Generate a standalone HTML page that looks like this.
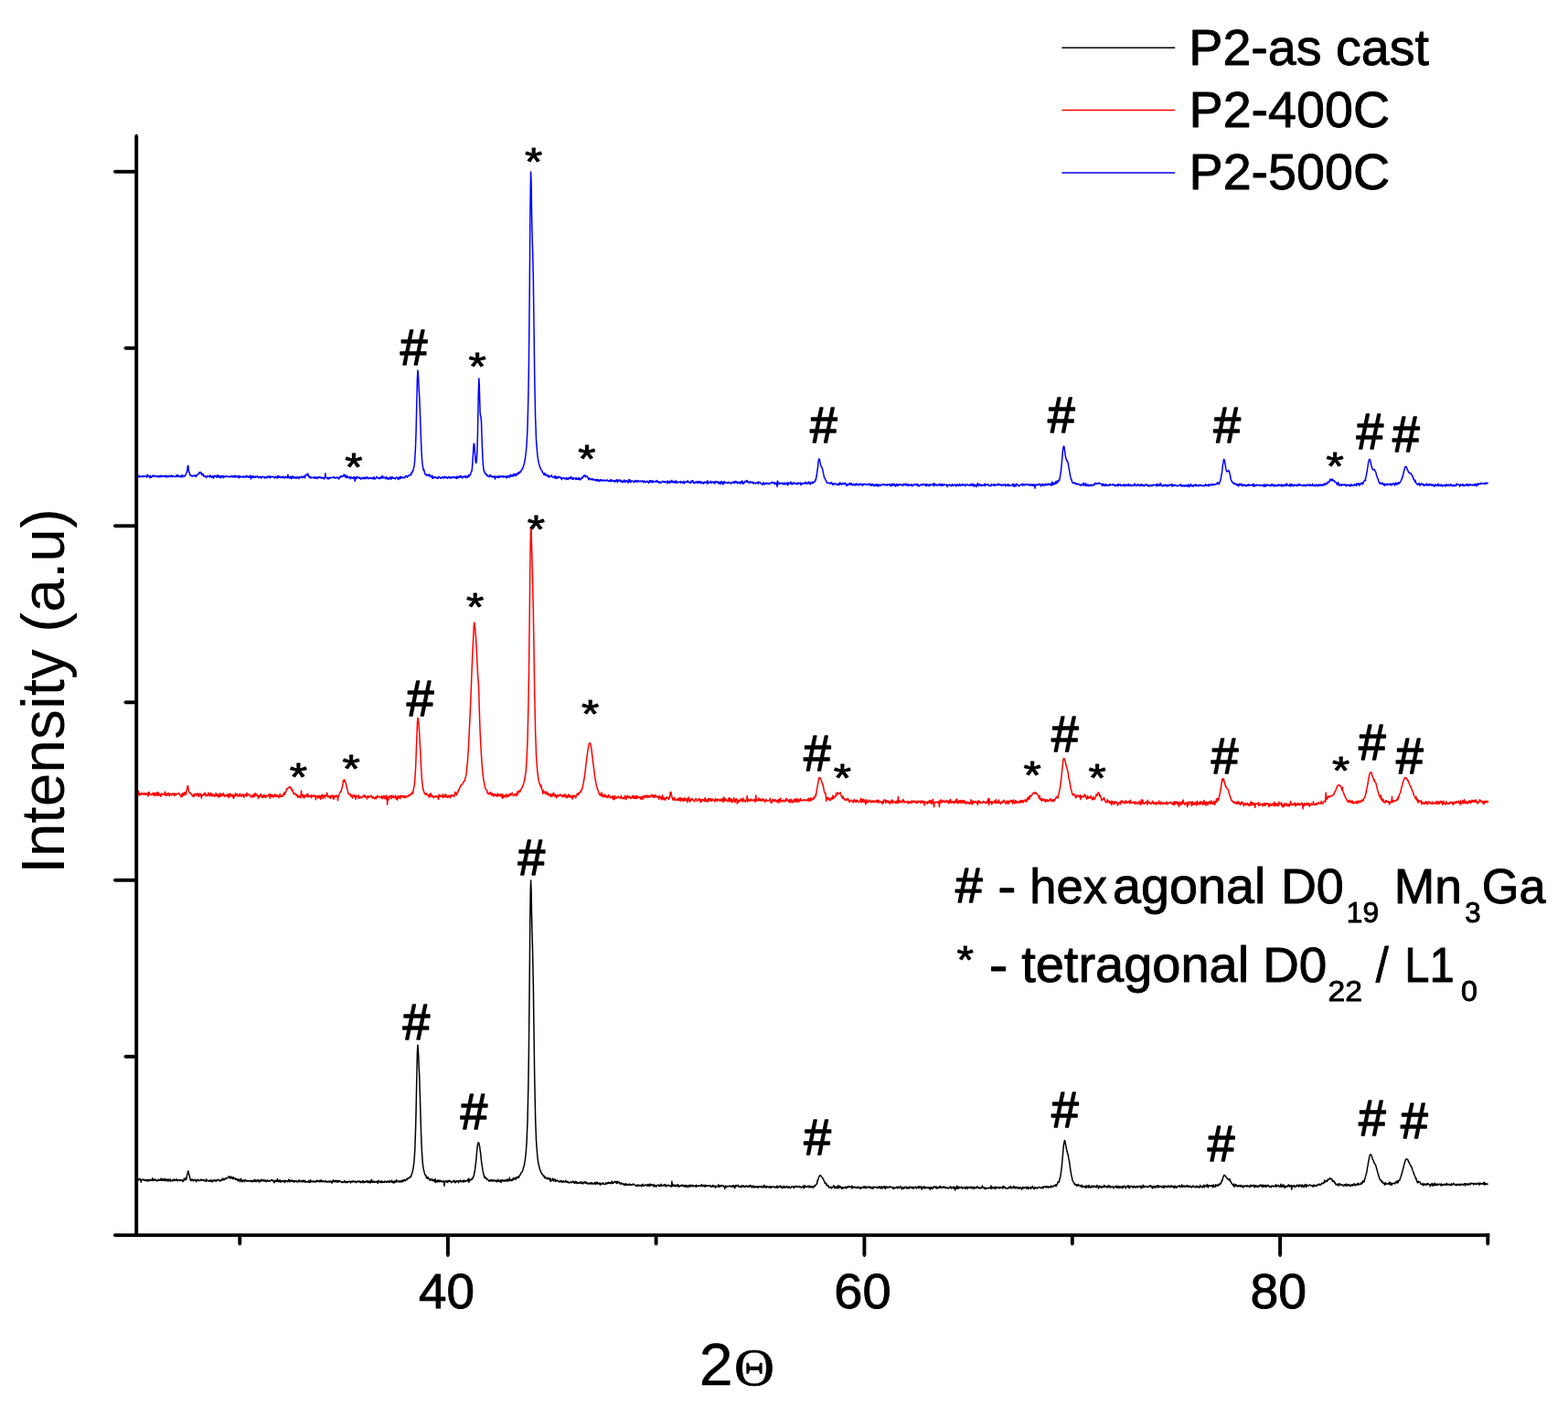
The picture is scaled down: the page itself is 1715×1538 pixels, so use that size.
<!DOCTYPE html>
<html><head><meta charset="utf-8"><title>XRD P2</title>
<style>
html,body{margin:0;padding:0;background:#fff;}
body{width:1715px;height:1538px;overflow:hidden;}
svg{display:block;}
svg text{font-family:'Liberation Sans', Arial, Helvetica, sans-serif;fill:#000;font-kerning:none;}
</style></head><body>
<svg width="1715" height="1538" viewBox="0 0 1715 1538"><rect width="1715" height="1538" fill="#fff"/><path d="M150.2 1292.1L150.7 1288.9 151.1 1291.0 151.6 1290.3 152.0 1290.4 152.5 1290.5 152.9 1289.3 153.4 1290.5 153.8 1290.1 154.3 1293.0 154.8 1290.9 155.2 1290.5 155.7 1290.5 156.1 1290.3 156.6 1290.0 157.0 1290.5 157.5 1291.1 157.9 1290.6 158.4 1291.4 158.8 1290.6 159.3 1290.8 159.8 1291.8 160.2 1291.1 160.7 1290.4 161.1 1290.6 161.6 1291.1 162.0 1292.1 162.5 1290.6 162.9 1290.6 163.4 1291.5 163.9 1290.2 164.3 1290.6 164.8 1291.4 165.2 1291.2 165.7 1290.9 166.1 1291.3 166.6 1288.8 167.0 1291.5 167.5 1290.1 167.9 1289.6 168.4 1291.0 168.9 1291.3 169.3 1290.5 169.8 1290.1 170.2 1290.8 170.7 1290.8 171.1 1291.8 171.6 1291.4 172.0 1291.0 172.5 1291.6 173.0 1290.7 173.4 1290.2 173.9 1291.3 174.3 1291.3 174.8 1290.7 175.2 1290.3 175.7 1291.0 176.1 1289.1 176.6 1291.3 177.0 1291.2 177.5 1289.7 178.0 1290.9 178.4 1290.2 178.9 1291.4 179.3 1289.5 179.8 1290.2 180.2 1291.4 180.7 1291.7 181.1 1289.4 181.6 1290.5 182.1 1291.1 182.5 1290.5 183.0 1292.0 183.4 1290.1 183.9 1291.2 184.3 1290.2 184.8 1291.9 185.2 1290.9 185.7 1290.7 186.1 1289.7 186.6 1292.1 187.1 1291.5 187.5 1291.5 188.0 1291.7 188.4 1291.2 188.9 1290.5 189.3 1290.4 189.8 1290.4 190.2 1291.9 190.7 1289.9 191.2 1290.5 191.6 1290.7 192.1 1291.1 192.5 1291.3 193.0 1290.1 193.4 1289.7 193.9 1290.9 194.3 1291.8 194.8 1291.5 195.2 1291.1 195.7 1290.7 196.2 1291.1 196.6 1290.8 197.1 1291.5 197.5 1290.4 198.0 1291.0 198.4 1290.8 198.9 1291.3 199.3 1291.0 199.8 1292.6 200.3 1291.9 200.7 1291.8 201.2 1289.3 201.6 1290.4 202.1 1290.2 202.5 1290.8 203.0 1288.6 203.4 1290.6 203.9 1289.7 204.3 1286.6 204.8 1284.7 205.3 1282.6 205.7 1281.0 206.2 1281.4 206.6 1284.7 207.1 1285.7 207.5 1288.4 208.0 1289.3 208.4 1291.2 208.9 1290.8 209.4 1291.5 209.8 1289.9 210.3 1290.6 210.7 1290.2 211.2 1291.9 211.6 1291.4 212.1 1290.7 212.5 1290.6 213.0 1291.3 213.4 1290.5 213.9 1290.4 214.4 1291.4 214.8 1292.8 215.3 1290.9 215.7 1290.7 216.2 1290.3 216.6 1290.2 217.1 1291.5 217.5 1291.7 218.0 1291.1 218.5 1291.3 218.9 1291.2 219.4 1291.2 219.8 1290.1 220.3 1290.8 220.7 1291.2 221.2 1290.6 221.6 1290.8 222.1 1290.6 222.5 1290.9 223.0 1291.8 223.5 1290.9 223.9 1291.1 224.4 1291.7 224.8 1291.6 225.3 1292.4 225.7 1289.7 226.2 1291.8 226.6 1290.9 227.1 1291.3 227.6 1291.8 228.0 1292.0 228.5 1291.9 228.9 1291.3 229.4 1292.3 229.8 1291.0 230.3 1291.1 230.7 1291.8 231.2 1290.8 231.6 1292.7 232.1 1291.9 232.6 1292.7 233.0 1291.2 233.5 1290.9 233.9 1291.3 234.4 1291.7 234.8 1290.8 235.3 1291.5 235.7 1291.2 236.2 1292.3 236.7 1290.7 237.1 1291.9 237.6 1290.7 238.0 1290.5 238.5 1290.6 238.9 1290.3 239.4 1291.2 239.8 1291.7 240.3 1291.1 240.7 1291.4 241.2 1292.0 241.7 1291.0 242.1 1290.9 242.6 1290.4 243.0 1289.4 243.5 1291.0 243.9 1289.1 244.4 1290.6 244.8 1290.0 245.3 1290.7 245.8 1289.7 246.2 1289.0 246.7 1289.7 247.1 1288.9 247.6 1289.2 248.0 1289.0 248.5 1288.7 248.9 1288.5 249.4 1287.9 249.8 1288.3 250.3 1286.8 250.8 1288.1 251.2 1287.4 251.7 1289.0 252.1 1289.1 252.6 1286.9 253.0 1288.4 253.5 1288.3 253.9 1287.8 254.4 1289.0 254.9 1289.7 255.3 1287.7 255.8 1288.9 256.2 1289.2 256.7 1289.5 257.1 1288.8 257.6 1290.2 258.0 1290.5 258.5 1289.3 258.9 1289.8 259.4 1290.4 259.9 1290.1 260.3 1291.9 260.8 1290.9 261.2 1290.1 261.7 1290.4 262.1 1291.0 262.6 1292.7 263.0 1291.0 263.5 1289.2 264.0 1291.6 264.4 1291.2 264.9 1292.9 265.3 1291.0 265.8 1291.9 266.2 1291.5 266.7 1291.8 267.1 1290.6 267.6 1292.7 268.0 1291.4 268.5 1291.5 269.0 1290.8 269.4 1291.0 269.9 1291.9 270.3 1292.2 270.8 1292.0 271.2 1291.7 271.7 1292.0 272.1 1291.5 272.6 1292.1 273.1 1291.9 273.5 1291.5 274.0 1292.0 274.4 1292.4 274.9 1291.7 275.3 1291.3 275.8 1292.1 276.2 1292.9 276.7 1291.4 277.1 1291.5 277.6 1291.5 278.1 1292.4 278.5 1290.3 279.0 1291.8 279.4 1292.4 279.9 1291.0 280.3 1292.6 280.8 1292.0 281.2 1291.2 281.7 1291.8 282.2 1290.5 282.6 1291.2 283.1 1292.9 283.5 1291.0 284.0 1292.9 284.4 1291.6 284.9 1292.3 285.3 1291.7 285.8 1290.1 286.2 1291.2 286.7 1291.8 287.2 1290.8 287.6 1290.7 288.1 1291.9 288.5 1291.2 289.0 1290.5 289.4 1291.2 289.9 1292.3 290.3 1291.4 290.8 1292.3 291.3 1292.8 291.7 1291.7 292.2 1290.9 292.6 1290.8 293.1 1291.7 293.5 1292.3 294.0 1291.9 294.4 1292.1 294.9 1291.4 295.3 1291.9 295.8 1291.4 296.3 1291.5 296.7 1290.8 297.2 1290.6 297.6 1291.4 298.1 1291.0 298.5 1291.1 299.0 1292.2 299.4 1291.7 299.9 1293.8 300.4 1292.4 300.8 1291.3 301.3 1292.3 301.7 1292.0 302.2 1291.3 302.6 1292.6 303.1 1291.2 303.5 1289.6 304.0 1292.3 304.4 1291.4 304.9 1292.8 305.4 1291.4 305.8 1291.0 306.3 1292.9 306.7 1291.1 307.2 1292.0 307.6 1292.8 308.1 1291.9 308.5 1291.8 309.0 1291.9 309.5 1292.4 309.9 1291.3 310.4 1292.3 310.8 1292.3 311.3 1293.5 311.7 1291.6 312.2 1291.2 312.6 1292.4 313.1 1291.6 313.5 1292.1 314.0 1292.0 314.5 1292.7 314.9 1291.4 315.4 1291.8 315.8 1290.1 316.3 1291.3 316.7 1293.0 317.2 1291.4 317.6 1291.4 318.1 1291.1 318.6 1292.3 319.0 1292.1 319.5 1291.1 319.9 1292.4 320.4 1292.1 320.8 1292.5 321.3 1291.5 321.7 1293.2 322.2 1291.6 322.6 1291.9 323.1 1291.6 323.6 1291.8 324.0 1292.6 324.5 1291.8 324.9 1292.8 325.4 1292.4 325.8 1293.0 326.3 1292.6 326.7 1292.0 327.2 1290.7 327.7 1292.2 328.1 1292.6 328.6 1292.2 329.0 1292.4 329.5 1291.7 329.9 1291.8 330.4 1291.4 330.8 1293.0 331.3 1292.2 331.7 1291.7 332.2 1291.1 332.7 1292.0 333.1 1293.1 333.6 1292.4 334.0 1291.6 334.5 1293.1 334.9 1293.1 335.4 1292.8 335.8 1292.7 336.3 1292.9 336.8 1292.5 337.2 1292.7 337.7 1291.6 338.1 1293.2 338.6 1292.3 339.0 1293.6 339.5 1290.7 339.9 1292.6 340.4 1292.8 340.8 1291.9 341.3 1292.5 341.8 1292.7 342.2 1292.6 342.7 1291.8 343.1 1292.1 343.6 1292.9 344.0 1293.1 344.5 1292.3 344.9 1292.3 345.4 1292.3 345.9 1292.9 346.3 1291.5 346.8 1291.3 347.2 1292.3 347.7 1291.4 348.1 1291.8 348.6 1292.3 349.0 1292.6 349.5 1291.5 349.9 1292.8 350.4 1291.0 350.9 1292.6 351.3 1291.2 351.8 1291.4 352.2 1292.7 352.7 1292.0 353.1 1291.7 353.6 1292.0 354.0 1292.6 354.5 1292.2 355.0 1292.3 355.4 1293.0 355.9 1291.8 356.3 1292.0 356.8 1291.9 357.2 1293.1 357.7 1293.0 358.1 1293.2 358.6 1292.3 359.0 1292.2 359.5 1292.9 360.0 1292.1 360.4 1292.9 360.9 1292.9 361.3 1291.9 361.8 1292.3 362.2 1292.3 362.7 1293.6 363.1 1294.2 363.6 1292.3 364.1 1292.4 364.5 1290.8 365.0 1292.5 365.4 1292.4 365.9 1291.6 366.3 1292.9 366.8 1291.3 367.2 1292.3 367.7 1292.5 368.1 1291.5 368.6 1293.0 369.1 1293.2 369.5 1291.5 370.0 1291.4 370.4 1292.9 370.9 1292.4 371.3 1291.6 371.8 1292.2 372.2 1292.4 372.7 1292.3 373.2 1293.0 373.6 1292.7 374.1 1293.7 374.5 1293.4 375.0 1292.9 375.4 1293.2 375.9 1293.4 376.3 1293.0 376.8 1291.6 377.2 1293.1 377.7 1292.5 378.2 1293.6 378.6 1292.6 379.1 1292.9 379.5 1292.7 380.0 1293.7 380.4 1292.6 380.9 1292.3 381.3 1292.7 381.8 1292.2 382.3 1292.6 382.7 1292.5 383.2 1292.7 383.6 1293.9 384.1 1292.3 384.5 1292.6 385.0 1292.4 385.4 1293.0 385.9 1291.7 386.3 1292.1 386.8 1292.5 387.3 1292.9 387.7 1292.5 388.2 1292.2 388.6 1292.0 389.1 1292.9 389.5 1293.6 390.0 1292.8 390.4 1292.7 390.9 1292.9 391.4 1291.9 391.8 1292.4 392.3 1292.4 392.7 1292.8 393.2 1292.6 393.6 1291.8 394.1 1293.4 394.5 1293.8 395.0 1292.4 395.4 1292.9 395.9 1292.8 396.4 1293.2 396.8 1291.6 397.3 1293.8 397.7 1292.3 398.2 1293.5 398.6 1292.7 399.1 1292.4 399.5 1292.5 400.0 1293.3 400.5 1292.0 400.9 1292.4 401.4 1292.3 401.8 1291.5 402.3 1293.6 402.7 1293.1 403.2 1292.6 403.6 1293.5 404.1 1292.0 404.5 1292.6 405.0 1293.9 405.5 1293.4 405.9 1291.1 406.4 1290.3 406.8 1291.9 407.3 1293.4 407.7 1292.3 408.2 1292.5 408.6 1293.1 409.1 1292.1 409.6 1292.8 410.0 1293.2 410.5 1293.0 410.9 1293.0 411.4 1292.3 411.8 1293.0 412.3 1292.4 412.7 1293.6 413.2 1294.5 413.6 1292.2 414.1 1291.2 414.6 1292.4 415.0 1292.9 415.5 1293.4 415.9 1293.4 416.4 1292.1 416.8 1292.1 417.3 1293.6 417.7 1291.9 418.2 1293.4 418.7 1292.5 419.1 1293.2 419.6 1293.1 420.0 1293.2 420.5 1293.2 420.9 1291.9 421.4 1292.8 421.8 1292.6 422.3 1292.8 422.7 1293.5 423.2 1292.4 423.7 1292.1 424.1 1292.1 424.6 1292.4 425.0 1293.1 425.5 1292.0 425.9 1293.4 426.4 1292.8 426.8 1292.4 427.3 1291.6 427.8 1292.7 428.2 1293.0 428.7 1291.3 429.1 1293.3 429.6 1293.6 430.0 1292.7 430.5 1292.8 430.9 1294.1 431.4 1293.3 431.8 1291.8 432.3 1292.4 432.8 1293.2 433.2 1292.2 433.7 1290.6 434.1 1292.8 434.6 1291.8 435.0 1292.3 435.5 1292.1 435.9 1292.7 436.4 1291.9 436.9 1293.0 437.3 1292.4 437.8 1292.9 438.2 1291.7 438.7 1292.8 439.1 1292.0 439.6 1291.4 440.0 1292.7 440.5 1291.0 440.9 1292.2 441.4 1291.1 441.9 1291.6 442.3 1290.3 442.8 1290.5 443.2 1291.7 443.7 1290.9 444.1 1290.7 444.6 1290.1 445.0 1290.6 445.5 1289.0 446.0 1289.0 446.4 1289.4 446.9 1288.6 447.3 1288.3 447.8 1288.3 448.2 1287.8 448.7 1287.1 449.1 1287.8 449.6 1286.6 450.0 1285.3 450.5 1283.8 451.0 1282.4 451.4 1280.4 451.9 1278.6 452.3 1275.3 452.8 1271.9 453.2 1266.8 453.7 1259.5 454.1 1248.8 454.6 1234.0 455.1 1214.7 455.5 1193.4 456.0 1170.5 456.4 1151.3 456.9 1143.2 457.3 1147.0 457.8 1155.9 458.2 1166.5 458.7 1176.2 459.1 1189.0 459.6 1205.5 460.1 1222.7 460.5 1237.4 461.0 1250.2 461.4 1259.4 461.9 1267.0 462.3 1272.6 462.8 1276.2 463.2 1278.9 463.7 1280.7 464.2 1282.9 464.6 1284.3 465.1 1285.3 465.5 1286.2 466.0 1285.9 466.4 1288.6 466.9 1287.9 467.3 1288.3 467.8 1289.3 468.2 1287.6 468.7 1289.4 469.2 1289.6 469.6 1290.2 470.1 1291.1 470.5 1290.7 471.0 1289.3 471.4 1290.5 471.9 1291.0 472.3 1291.1 472.8 1290.2 473.3 1290.1 473.7 1291.7 474.2 1291.7 474.6 1291.5 475.1 1290.4 475.5 1292.9 476.0 1289.7 476.4 1291.5 476.9 1293.3 477.3 1291.8 477.8 1292.1 478.3 1291.1 478.7 1293.0 479.2 1291.1 479.6 1292.3 480.1 1292.2 480.5 1291.4 481.0 1292.8 481.4 1291.2 481.9 1291.8 482.4 1292.2 482.8 1292.0 483.3 1292.6 483.7 1293.0 484.2 1292.1 484.6 1292.0 485.1 1292.0 485.5 1292.1 486.0 1297.2 486.4 1292.3 486.9 1292.7 487.4 1292.4 487.8 1291.8 488.3 1293.0 488.7 1291.7 489.2 1292.5 489.6 1293.5 490.1 1291.7 490.5 1292.4 491.0 1291.4 491.5 1292.1 491.9 1291.4 492.4 1292.2 492.8 1292.1 493.3 1292.6 493.7 1293.6 494.2 1292.7 494.6 1292.9 495.1 1292.5 495.5 1292.3 496.0 1291.9 496.5 1291.2 496.9 1292.5 497.4 1293.6 497.8 1292.8 498.3 1292.1 498.7 1293.6 499.2 1292.1 499.6 1292.0 500.1 1291.6 500.6 1291.7 501.0 1292.2 501.5 1293.8 501.9 1292.2 502.4 1291.6 502.8 1291.9 503.3 1292.2 503.7 1291.1 504.2 1292.4 504.6 1292.7 505.1 1292.5 505.6 1292.6 506.0 1291.3 506.5 1291.7 506.9 1293.0 507.4 1292.8 507.8 1290.9 508.3 1292.1 508.7 1291.9 509.2 1292.3 509.7 1292.0 510.1 1291.4 510.6 1291.8 511.0 1291.7 511.5 1291.5 511.9 1290.1 512.4 1289.2 512.8 1293.4 513.3 1289.9 513.7 1291.0 514.2 1291.2 514.7 1290.7 515.1 1290.0 515.6 1290.0 516.0 1290.4 516.5 1288.6 516.9 1289.1 517.4 1288.2 517.8 1286.9 518.3 1286.4 518.8 1283.4 519.2 1281.5 519.7 1278.1 520.1 1274.7 520.6 1270.5 521.0 1266.2 521.5 1260.9 521.9 1256.5 522.4 1252.2 522.8 1250.4 523.3 1249.8 523.8 1250.1 524.2 1252.3 524.7 1254.5 525.1 1258.0 525.6 1261.1 526.0 1264.7 526.5 1269.7 526.9 1273.1 527.4 1276.4 527.9 1279.5 528.3 1281.7 528.8 1284.0 529.2 1284.9 529.7 1287.9 530.1 1288.3 530.6 1287.4 531.0 1288.0 531.5 1289.1 531.9 1288.5 532.4 1290.1 532.9 1290.3 533.3 1290.0 533.8 1290.3 534.2 1291.2 534.7 1292.0 535.1 1292.1 535.6 1291.2 536.0 1291.9 536.5 1290.8 537.0 1291.7 537.4 1290.8 537.9 1292.0 538.3 1290.7 538.8 1290.9 539.2 1291.6 539.7 1292.0 540.1 1290.7 540.6 1291.3 541.0 1291.8 541.5 1291.9 542.0 1291.1 542.4 1291.8 542.9 1291.6 543.3 1292.7 543.8 1292.1 544.2 1290.8 544.7 1290.2 545.1 1291.8 545.6 1292.6 546.1 1291.8 546.5 1292.3 547.0 1291.4 547.4 1290.7 547.9 1293.6 548.3 1291.7 548.8 1292.1 549.2 1290.6 549.7 1291.7 550.1 1291.1 550.6 1292.1 551.1 1291.1 551.5 1291.1 552.0 1291.0 552.4 1292.3 552.9 1291.4 553.3 1290.8 553.8 1290.6 554.2 1290.5 554.7 1292.2 555.2 1289.9 555.6 1290.5 556.1 1291.5 556.5 1291.8 557.0 1290.8 557.4 1288.2 557.9 1291.3 558.3 1291.3 558.8 1290.6 559.2 1291.6 559.7 1290.5 560.2 1291.4 560.6 1289.4 561.1 1290.7 561.5 1289.0 562.0 1288.7 562.4 1290.0 562.9 1288.9 563.3 1289.6 563.8 1288.4 564.3 1290.0 564.7 1288.7 565.2 1287.7 565.6 1288.3 566.1 1288.5 566.5 1287.0 567.0 1287.6 567.4 1288.3 567.9 1287.0 568.3 1286.0 568.8 1285.1 569.3 1285.0 569.7 1283.8 570.2 1282.6 570.6 1282.5 571.1 1281.4 571.5 1281.1 572.0 1279.4 572.4 1277.7 572.9 1276.0 573.4 1274.5 573.8 1271.8 574.3 1269.1 574.7 1265.8 575.2 1261.6 575.6 1256.2 576.1 1249.1 576.5 1237.7 577.0 1226.8 577.4 1207.7 577.9 1184.3 578.4 1151.0 578.8 1109.9 579.3 1060.8 579.7 1011.8 580.2 974.7 580.6 962.9 581.1 975.7 581.5 998.9 582.0 1020.2 582.5 1037.7 582.9 1056.2 583.4 1081.9 583.8 1114.4 584.3 1148.3 584.7 1178.5 585.2 1202.7 585.6 1221.7 586.1 1236.8 586.5 1246.9 587.0 1254.9 587.5 1260.7 587.9 1265.8 588.4 1269.5 588.8 1271.9 589.3 1274.5 589.7 1276.1 590.2 1278.5 590.6 1279.7 591.1 1280.5 591.6 1282.1 592.0 1282.8 592.5 1283.7 592.9 1284.4 593.4 1284.7 593.8 1285.1 594.3 1286.5 594.7 1286.5 595.2 1286.3 595.6 1288.7 596.1 1287.5 596.6 1287.6 597.0 1287.8 597.5 1289.0 597.9 1289.4 598.4 1289.2 598.8 1289.8 599.3 1288.3 599.7 1289.3 600.2 1289.4 600.7 1289.9 601.1 1290.4 601.6 1288.8 602.0 1292.5 602.5 1289.9 602.9 1290.8 603.4 1291.3 603.8 1291.4 604.3 1291.1 604.7 1289.0 605.2 1290.4 605.7 1291.7 606.1 1290.7 606.6 1290.6 607.0 1289.8 607.5 1292.4 607.9 1292.0 608.4 1291.1 608.8 1291.7 609.3 1291.7 609.8 1291.1 610.2 1291.7 610.7 1292.2 611.1 1292.4 611.6 1293.0 612.0 1292.2 612.5 1291.9 612.9 1292.5 613.4 1291.9 613.8 1291.5 614.3 1293.2 614.8 1292.2 615.2 1292.6 615.7 1293.0 616.1 1291.8 616.6 1293.1 617.0 1293.0 617.5 1292.6 617.9 1293.0 618.4 1292.7 618.9 1291.3 619.3 1292.6 619.8 1292.2 620.2 1293.5 620.7 1293.1 621.1 1292.6 621.6 1293.0 622.0 1294.0 622.5 1293.9 622.9 1293.4 623.4 1293.4 623.9 1293.0 624.3 1293.1 624.8 1293.6 625.2 1293.2 625.7 1293.5 626.1 1292.5 626.6 1292.2 627.0 1292.2 627.5 1293.1 628.0 1294.3 628.4 1294.3 628.9 1292.8 629.3 1292.4 629.8 1294.1 630.2 1293.9 630.7 1292.6 631.1 1294.3 631.6 1293.7 632.0 1294.6 632.5 1293.9 633.0 1294.3 633.4 1293.9 633.9 1293.1 634.3 1293.6 634.8 1293.3 635.2 1294.4 635.7 1293.1 636.1 1292.8 636.6 1294.3 637.1 1294.7 637.5 1294.9 638.0 1294.7 638.4 1292.9 638.9 1293.5 639.3 1293.6 639.8 1294.0 640.2 1292.5 640.7 1294.0 641.1 1294.3 641.6 1293.4 642.1 1294.2 642.5 1295.0 643.0 1294.2 643.4 1294.9 643.9 1294.9 644.3 1294.5 644.8 1294.5 645.2 1294.0 645.7 1295.1 646.2 1294.0 646.6 1293.8 647.1 1294.8 647.5 1293.8 648.0 1294.7 648.4 1295.1 648.9 1294.5 649.3 1294.5 649.8 1295.1 650.2 1295.0 650.7 1293.4 651.2 1293.6 651.6 1295.5 652.1 1294.8 652.5 1293.1 653.0 1293.6 653.4 1294.6 653.9 1293.9 654.3 1295.0 654.8 1294.7 655.3 1295.0 655.7 1293.9 656.2 1295.1 656.6 1296.1 657.1 1294.2 657.5 1295.6 658.0 1295.4 658.4 1295.2 658.9 1294.7 659.3 1293.9 659.8 1294.2 660.3 1295.3 660.7 1295.4 661.2 1295.6 661.6 1295.4 662.1 1295.4 662.5 1294.4 663.0 1293.8 663.4 1294.8 663.9 1295.0 664.4 1294.6 664.8 1293.4 665.3 1294.1 665.7 1293.3 666.2 1294.4 666.6 1293.5 667.1 1294.0 667.5 1294.2 668.0 1294.0 668.4 1294.8 668.9 1292.9 669.4 1292.1 669.8 1294.2 670.3 1294.4 670.7 1294.3 671.2 1293.5 671.6 1293.6 672.1 1293.2 672.5 1292.2 673.0 1292.7 673.5 1293.5 673.9 1292.7 674.4 1294.5 674.8 1292.2 675.3 1293.0 675.7 1294.2 676.2 1293.1 676.6 1292.9 677.1 1292.9 677.5 1293.4 678.0 1295.1 678.5 1294.5 678.9 1294.7 679.4 1294.1 679.8 1295.2 680.3 1294.8 680.7 1294.2 681.2 1294.7 681.6 1295.2 682.1 1296.0 682.6 1295.2 683.0 1295.7 683.5 1296.8 683.9 1294.9 684.4 1294.7 684.8 1296.3 685.3 1296.0 685.7 1295.6 686.2 1295.9 686.6 1295.6 687.1 1296.2 687.6 1295.6 688.0 1296.4 688.5 1295.1 688.9 1295.4 689.4 1296.0 689.8 1295.7 690.3 1296.5 690.7 1296.0 691.2 1295.7 691.7 1296.2 692.1 1295.7 692.6 1295.0 693.0 1295.3 693.5 1295.6 693.9 1295.8 694.4 1296.3 694.8 1296.8 695.3 1296.6 695.7 1297.5 696.2 1297.2 696.7 1296.1 697.1 1297.5 697.6 1297.1 698.0 1296.0 698.5 1296.6 698.9 1297.1 699.4 1296.6 699.8 1297.1 700.3 1296.7 700.8 1296.9 701.2 1296.2 701.7 1297.7 702.1 1296.2 702.6 1296.9 703.0 1295.3 703.5 1296.7 703.9 1297.3 704.4 1296.9 704.8 1296.5 705.3 1296.9 705.8 1295.9 706.2 1295.9 706.7 1296.3 707.1 1296.4 707.6 1297.2 708.0 1295.9 708.5 1297.2 708.9 1295.4 709.4 1296.0 709.9 1297.6 710.3 1297.4 710.8 1296.1 711.2 1295.1 711.7 1296.9 712.1 1296.6 712.6 1295.8 713.0 1295.9 713.5 1296.1 713.9 1296.7 714.4 1297.1 714.9 1295.6 715.3 1298.2 715.8 1296.6 716.2 1296.4 716.7 1297.1 717.1 1296.7 717.6 1298.3 718.0 1297.4 718.5 1296.4 719.0 1296.4 719.4 1296.3 719.9 1296.4 720.3 1297.2 720.8 1296.2 721.2 1297.8 721.7 1296.7 722.1 1296.6 722.6 1297.4 723.0 1295.3 723.5 1296.1 724.0 1297.2 724.4 1296.8 724.9 1296.7 725.3 1297.0 725.8 1296.3 726.2 1296.6 726.7 1295.8 727.1 1295.5 727.6 1297.7 728.1 1296.1 728.5 1296.3 729.0 1297.8 729.4 1297.5 729.9 1296.4 730.3 1296.4 730.8 1296.8 731.2 1296.2 731.7 1297.2 732.1 1296.9 732.6 1296.9 733.1 1297.4 733.5 1297.4 734.0 1298.2 734.4 1297.9 734.9 1292.3 735.3 1297.5 735.8 1296.1 736.2 1295.9 736.7 1297.4 737.2 1296.4 737.6 1296.7 738.1 1297.7 738.5 1296.5 739.0 1296.3 739.4 1297.2 739.9 1297.8 740.3 1297.3 740.8 1295.9 741.2 1296.5 741.7 1295.8 742.2 1298.3 742.6 1297.6 743.1 1297.6 743.5 1297.8 744.0 1296.8 744.4 1297.3 744.9 1297.3 745.3 1296.3 745.8 1297.0 746.3 1297.4 746.7 1296.3 747.2 1297.6 747.6 1297.6 748.1 1297.8 748.5 1296.5 749.0 1297.1 749.4 1298.1 749.9 1297.6 750.3 1296.5 750.8 1297.2 751.3 1298.1 751.7 1297.0 752.2 1297.4 752.6 1298.9 753.1 1297.1 753.5 1297.0 754.0 1296.4 754.4 1296.7 754.9 1298.2 755.4 1297.0 755.8 1296.3 756.3 1296.5 756.7 1297.2 757.2 1297.7 757.6 1296.6 758.1 1297.7 758.5 1296.8 759.0 1297.4 759.4 1297.5 759.9 1297.6 760.4 1296.9 760.8 1297.1 761.3 1298.4 761.7 1296.3 762.2 1297.3 762.6 1297.6 763.1 1297.9 763.5 1297.2 764.0 1297.1 764.5 1297.3 764.9 1296.7 765.4 1297.1 765.8 1297.5 766.3 1297.4 766.7 1296.5 767.2 1297.0 767.6 1295.8 768.1 1297.8 768.5 1296.9 769.0 1297.4 769.5 1296.5 769.9 1297.2 770.4 1297.6 770.8 1298.0 771.3 1296.3 771.7 1297.9 772.2 1297.2 772.6 1296.8 773.1 1297.7 773.6 1297.1 774.0 1297.1 774.5 1296.8 774.9 1297.5 775.4 1297.4 775.8 1297.2 776.3 1296.7 776.7 1297.0 777.2 1297.6 777.6 1298.3 778.1 1297.4 778.6 1298.4 779.0 1297.4 779.5 1296.6 779.9 1297.8 780.4 1296.7 780.8 1297.7 781.3 1298.2 781.7 1297.2 782.2 1297.4 782.7 1299.2 783.1 1297.6 783.6 1297.6 784.0 1298.0 784.5 1297.4 784.9 1297.4 785.4 1297.7 785.8 1295.8 786.3 1298.5 786.7 1296.7 787.2 1296.7 787.7 1297.9 788.1 1297.5 788.6 1296.6 789.0 1297.7 789.5 1296.7 789.9 1297.0 790.4 1296.5 790.8 1297.0 791.3 1297.8 791.8 1297.6 792.2 1297.8 792.7 1300.5 793.1 1297.5 793.6 1297.1 794.0 1297.4 794.5 1298.7 794.9 1297.6 795.4 1297.8 795.8 1297.5 796.3 1297.8 796.8 1297.9 797.2 1297.6 797.7 1297.5 798.1 1297.1 798.6 1297.0 799.0 1297.9 799.5 1298.2 799.9 1298.3 800.4 1297.7 800.9 1297.1 801.3 1298.1 801.8 1298.1 802.2 1296.6 802.7 1298.2 803.1 1298.1 803.6 1299.8 804.0 1296.9 804.5 1296.8 804.9 1298.3 805.4 1296.5 805.9 1297.2 806.3 1297.0 806.8 1297.0 807.2 1296.4 807.7 1297.6 808.1 1298.4 808.6 1298.1 809.0 1298.1 809.5 1297.5 810.0 1298.8 810.4 1298.1 810.9 1298.5 811.3 1296.7 811.8 1298.0 812.2 1297.0 812.7 1298.0 813.1 1297.9 813.6 1297.0 814.0 1297.9 814.5 1298.6 815.0 1298.1 815.4 1298.2 815.9 1297.2 816.3 1297.3 816.8 1297.0 817.2 1297.9 817.7 1298.7 818.1 1298.1 818.6 1297.9 819.1 1297.1 819.5 1298.2 820.0 1297.7 820.4 1296.6 820.9 1296.7 821.3 1297.7 821.8 1297.3 822.2 1299.1 822.7 1298.0 823.1 1297.2 823.6 1297.6 824.1 1299.1 824.5 1297.3 825.0 1298.5 825.4 1298.3 825.9 1299.0 826.3 1298.3 826.8 1297.7 827.2 1298.4 827.7 1298.0 828.2 1298.7 828.6 1298.0 829.1 1299.4 829.5 1297.9 830.0 1298.3 830.4 1297.6 830.9 1298.1 831.3 1298.1 831.8 1298.2 832.2 1298.7 832.7 1297.7 833.2 1297.5 833.6 1298.8 834.1 1297.9 834.5 1297.6 835.0 1298.9 835.4 1298.6 835.9 1296.3 836.3 1297.8 836.8 1298.7 837.3 1298.7 837.7 1297.8 838.2 1299.2 838.6 1297.6 839.1 1298.0 839.5 1298.2 840.0 1298.1 840.4 1298.7 840.9 1298.9 841.3 1298.1 841.8 1299.1 842.3 1297.7 842.7 1298.0 843.2 1299.4 843.6 1298.3 844.1 1298.9 844.5 1297.9 845.0 1298.0 845.4 1298.1 845.9 1298.3 846.4 1298.0 846.8 1298.2 847.3 1298.7 847.7 1299.1 848.2 1298.3 848.6 1298.7 849.1 1298.9 849.5 1297.5 850.0 1297.2 850.4 1299.4 850.9 1299.2 851.4 1298.3 851.8 1298.5 852.3 1297.6 852.7 1297.3 853.2 1298.5 853.6 1297.3 854.1 1298.9 854.5 1297.8 855.0 1298.5 855.5 1299.7 855.9 1299.6 856.4 1298.1 856.8 1299.1 857.3 1297.6 857.7 1297.9 858.2 1298.6 858.6 1299.3 859.1 1298.0 859.5 1298.7 860.0 1298.4 860.5 1297.5 860.9 1298.3 861.4 1299.4 861.8 1298.3 862.3 1298.7 862.7 1299.0 863.2 1297.9 863.6 1299.3 864.1 1299.4 864.6 1299.5 865.0 1299.3 865.5 1298.1 865.9 1298.0 866.4 1297.9 866.8 1297.8 867.3 1297.9 867.7 1299.1 868.2 1299.4 868.6 1298.0 869.1 1299.0 869.6 1297.6 870.0 1298.2 870.5 1297.7 870.9 1297.3 871.4 1298.5 871.8 1298.5 872.3 1298.2 872.7 1298.1 873.2 1297.8 873.7 1298.4 874.1 1298.0 874.6 1298.6 875.0 1297.6 875.5 1298.6 875.9 1298.8 876.4 1299.3 876.8 1299.2 877.3 1298.6 877.7 1298.0 878.2 1297.2 878.7 1298.4 879.1 1299.4 879.6 1299.6 880.0 1296.6 880.5 1297.9 880.9 1298.2 881.4 1297.7 881.8 1298.5 882.3 1298.4 882.8 1298.0 883.2 1298.3 883.7 1297.2 884.1 1297.6 884.6 1297.7 885.0 1298.9 885.5 1297.1 885.9 1298.1 886.4 1298.7 886.8 1298.1 887.3 1298.7 887.8 1297.6 888.2 1298.3 888.7 1298.5 889.1 1299.3 889.6 1298.1 890.0 1298.4 890.5 1297.2 890.9 1297.0 891.4 1297.6 891.9 1296.4 892.3 1296.4 892.8 1295.2 893.2 1295.3 893.7 1294.4 894.1 1291.1 894.6 1291.0 895.0 1289.3 895.5 1288.2 895.9 1287.0 896.4 1286.5 896.9 1285.6 897.3 1285.7 897.8 1285.9 898.2 1286.7 898.7 1287.4 899.1 1287.9 899.6 1288.5 900.0 1289.0 900.5 1289.5 901.0 1291.0 901.4 1291.9 901.9 1293.0 902.3 1294.6 902.8 1294.3 903.2 1295.0 903.7 1294.2 904.1 1296.7 904.6 1296.7 905.0 1296.6 905.5 1297.7 906.0 1296.9 906.4 1297.4 906.9 1299.3 907.3 1298.6 907.8 1298.8 908.2 1298.8 908.7 1298.7 909.1 1298.5 909.6 1300.0 910.1 1298.4 910.5 1299.0 911.0 1298.3 911.4 1298.3 911.9 1296.8 912.3 1297.2 912.8 1299.7 913.2 1299.7 913.7 1298.3 914.1 1298.6 914.6 1299.1 915.1 1298.0 915.5 1299.9 916.0 1298.0 916.4 1298.2 916.9 1296.8 917.3 1299.8 917.8 1298.8 918.2 1297.5 918.7 1298.1 919.2 1299.0 919.6 1297.9 920.1 1298.9 920.5 1300.2 921.0 1300.4 921.4 1299.8 921.9 1298.5 922.3 1299.4 922.8 1299.8 923.2 1299.2 923.7 1299.2 924.2 1299.2 924.6 1298.2 925.1 1299.0 925.5 1300.0 926.0 1298.2 926.4 1298.9 926.9 1298.9 927.3 1297.9 927.8 1298.8 928.3 1297.7 928.7 1298.4 929.2 1297.9 929.6 1298.2 930.1 1298.5 930.5 1298.7 931.0 1298.7 931.4 1297.2 931.9 1300.0 932.3 1298.7 932.8 1298.1 933.3 1298.4 933.7 1299.1 934.2 1298.2 934.6 1298.6 935.1 1298.6 935.5 1299.3 936.0 1298.4 936.4 1299.2 936.9 1299.1 937.4 1298.8 937.8 1299.8 938.3 1298.9 938.7 1298.1 939.2 1299.1 939.6 1299.0 940.1 1298.9 940.5 1299.1 941.0 1300.6 941.4 1299.1 941.9 1299.2 942.4 1298.8 942.8 1299.8 943.3 1298.9 943.7 1298.4 944.2 1298.1 944.6 1299.3 945.1 1299.5 945.5 1297.8 946.0 1298.4 946.5 1299.4 946.9 1299.7 947.4 1298.0 947.8 1298.7 948.3 1299.5 948.7 1298.6 949.2 1298.6 949.6 1298.6 950.1 1298.0 950.5 1299.0 951.0 1299.2 951.5 1298.0 951.9 1299.0 952.4 1299.7 952.8 1299.1 953.3 1299.6 953.7 1298.6 954.2 1299.9 954.6 1298.4 955.1 1300.3 955.6 1298.7 956.0 1298.5 956.5 1298.3 956.9 1298.7 957.4 1298.6 957.8 1298.5 958.3 1298.7 958.7 1299.4 959.2 1299.6 959.6 1298.7 960.1 1299.8 960.6 1298.3 961.0 1298.3 961.5 1298.2 961.9 1299.4 962.4 1297.9 962.8 1298.0 963.3 1299.2 963.7 1300.2 964.2 1299.9 964.7 1297.9 965.1 1299.0 965.6 1299.6 966.0 1299.1 966.5 1297.9 966.9 1298.8 967.4 1297.8 967.8 1298.1 968.3 1300.5 968.7 1299.5 969.2 1298.0 969.7 1297.9 970.1 1299.3 970.6 1298.6 971.0 1299.4 971.5 1298.5 971.9 1298.9 972.4 1299.2 972.8 1298.3 973.3 1297.7 973.8 1298.2 974.2 1298.5 974.7 1298.9 975.1 1299.0 975.6 1299.0 976.0 1299.4 976.5 1298.4 976.9 1300.0 977.4 1300.4 977.8 1299.3 978.3 1299.1 978.8 1299.9 979.2 1299.5 979.7 1299.1 980.1 1298.9 980.6 1298.5 981.0 1298.2 981.5 1299.5 981.9 1299.9 982.4 1298.3 982.9 1299.0 983.3 1299.2 983.8 1298.7 984.2 1298.5 984.7 1298.8 985.1 1297.6 985.6 1299.0 986.0 1300.7 986.5 1300.5 986.9 1299.7 987.4 1298.8 987.9 1299.0 988.3 1300.2 988.8 1300.2 989.2 1299.2 989.7 1298.9 990.1 1298.0 990.6 1298.8 991.0 1298.9 991.5 1298.5 992.0 1300.3 992.4 1299.8 992.9 1298.9 993.3 1299.3 993.8 1299.3 994.2 1300.2 994.7 1298.1 995.1 1298.5 995.6 1299.1 996.0 1299.1 996.5 1298.8 997.0 1298.5 997.4 1299.8 997.9 1298.3 998.3 1298.7 998.8 1300.1 999.2 1300.3 999.7 1299.7 1000.1 1298.5 1000.6 1298.5 1001.1 1298.4 1001.5 1298.3 1002.0 1298.8 1002.4 1300.0 1002.9 1299.2 1003.3 1298.5 1003.8 1298.5 1004.2 1298.2 1004.7 1299.9 1005.1 1297.7 1005.6 1299.3 1006.1 1298.1 1006.5 1298.3 1007.0 1298.0 1007.4 1299.7 1007.9 1299.0 1008.3 1301.0 1008.8 1298.3 1009.2 1298.3 1009.7 1299.5 1010.2 1299.5 1010.6 1298.9 1011.1 1297.7 1011.5 1300.1 1012.0 1299.5 1012.4 1299.3 1012.9 1298.7 1013.3 1299.5 1013.8 1298.7 1014.2 1299.1 1014.7 1298.9 1015.2 1299.9 1015.6 1298.7 1016.1 1298.8 1016.5 1299.8 1017.0 1299.2 1017.4 1301.3 1017.9 1298.9 1018.3 1299.7 1018.8 1298.6 1019.3 1299.4 1019.7 1300.5 1020.2 1299.4 1020.6 1298.5 1021.1 1298.2 1021.5 1299.2 1022.0 1298.2 1022.4 1298.0 1022.9 1298.5 1023.3 1298.3 1023.8 1299.7 1024.3 1298.1 1024.7 1300.2 1025.2 1298.5 1025.6 1299.2 1026.1 1299.5 1026.5 1299.2 1027.0 1299.6 1027.4 1298.4 1027.9 1297.5 1028.4 1298.9 1028.8 1297.9 1029.3 1298.7 1029.7 1299.7 1030.2 1298.9 1030.6 1298.7 1031.1 1298.3 1031.5 1298.9 1032.0 1299.0 1032.4 1298.0 1032.9 1299.3 1033.4 1298.3 1033.8 1299.2 1034.3 1298.8 1034.7 1299.8 1035.2 1299.7 1035.6 1299.1 1036.1 1299.0 1036.5 1299.4 1037.0 1300.1 1037.5 1299.8 1037.9 1299.2 1038.4 1299.3 1038.8 1298.3 1039.3 1298.0 1039.7 1299.5 1040.2 1298.5 1040.6 1300.1 1041.1 1298.8 1041.5 1299.0 1042.0 1298.4 1042.5 1299.1 1042.9 1299.7 1043.4 1300.3 1043.8 1298.2 1044.3 1298.8 1044.7 1301.9 1045.2 1299.8 1045.6 1299.1 1046.1 1299.5 1046.6 1297.3 1047.0 1300.3 1047.5 1299.3 1047.9 1298.1 1048.4 1300.0 1048.8 1298.7 1049.3 1298.4 1049.7 1299.5 1050.2 1299.4 1050.6 1298.8 1051.1 1299.1 1051.6 1298.2 1052.0 1298.2 1052.5 1299.8 1052.9 1300.1 1053.4 1299.5 1053.8 1299.4 1054.3 1298.9 1054.7 1299.1 1055.2 1298.5 1055.7 1300.4 1056.1 1298.8 1056.6 1299.5 1057.0 1299.2 1057.5 1298.2 1057.9 1300.5 1058.4 1298.9 1058.8 1298.6 1059.3 1299.3 1059.7 1298.5 1060.2 1299.2 1060.7 1298.5 1061.1 1299.6 1061.6 1299.2 1062.0 1298.2 1062.5 1299.9 1062.9 1299.3 1063.4 1298.4 1063.8 1299.4 1064.3 1299.5 1064.8 1300.5 1065.2 1298.6 1065.7 1299.8 1066.1 1299.1 1066.6 1299.6 1067.0 1299.0 1067.5 1299.2 1067.9 1299.5 1068.4 1298.4 1068.8 1297.7 1069.3 1299.2 1069.8 1298.9 1070.2 1299.3 1070.7 1299.7 1071.1 1299.1 1071.6 1300.0 1072.0 1299.2 1072.5 1299.3 1072.9 1299.8 1073.4 1299.6 1073.9 1299.2 1074.3 1297.1 1074.8 1298.7 1075.2 1298.8 1075.7 1299.3 1076.1 1299.8 1076.6 1298.9 1077.0 1299.8 1077.5 1300.6 1077.9 1300.7 1078.4 1299.2 1078.9 1300.0 1079.3 1299.7 1079.8 1299.8 1080.2 1299.8 1080.7 1299.6 1081.1 1299.8 1081.6 1299.4 1082.0 1299.1 1082.5 1299.4 1083.0 1299.6 1083.4 1300.1 1083.9 1296.9 1084.3 1299.8 1084.8 1300.2 1085.2 1298.6 1085.7 1299.1 1086.1 1299.6 1086.6 1299.3 1087.0 1298.5 1087.5 1299.9 1088.0 1299.2 1088.4 1298.5 1088.9 1300.6 1089.3 1298.3 1089.8 1299.2 1090.2 1298.8 1090.7 1299.3 1091.1 1299.6 1091.6 1298.7 1092.1 1299.2 1092.5 1299.2 1093.0 1298.5 1093.4 1300.1 1093.9 1299.4 1094.3 1299.0 1094.8 1298.8 1095.2 1299.0 1095.7 1298.9 1096.1 1298.9 1096.6 1300.1 1097.1 1297.5 1097.5 1297.7 1098.0 1299.1 1098.4 1297.9 1098.9 1299.2 1099.3 1298.8 1099.8 1299.7 1100.2 1299.5 1100.7 1300.2 1101.2 1299.9 1101.6 1300.1 1102.1 1299.6 1102.5 1300.0 1103.0 1299.6 1103.4 1298.8 1103.9 1298.4 1104.3 1298.4 1104.8 1299.6 1105.2 1297.6 1105.7 1299.4 1106.2 1298.7 1106.6 1299.8 1107.1 1299.4 1107.5 1298.7 1108.0 1299.2 1108.4 1297.6 1108.9 1299.4 1109.3 1299.6 1109.8 1297.9 1110.3 1299.8 1110.7 1299.2 1111.2 1299.4 1111.6 1298.2 1112.1 1299.7 1112.5 1299.6 1113.0 1299.2 1113.4 1298.5 1113.9 1299.8 1114.3 1300.1 1114.8 1299.5 1115.3 1299.9 1115.7 1298.8 1116.2 1299.3 1116.6 1299.5 1117.1 1299.3 1117.5 1301.2 1118.0 1299.5 1118.4 1298.8 1118.9 1299.8 1119.4 1298.5 1119.8 1299.5 1120.3 1299.8 1120.7 1298.9 1121.2 1299.0 1121.6 1298.6 1122.1 1299.3 1122.5 1298.7 1123.0 1300.4 1123.4 1299.7 1123.9 1299.1 1124.4 1298.2 1124.8 1300.6 1125.3 1300.1 1125.7 1299.5 1126.2 1299.3 1126.6 1299.3 1127.1 1298.9 1127.5 1300.5 1128.0 1299.3 1128.5 1298.2 1128.9 1298.7 1129.4 1297.4 1129.8 1299.6 1130.3 1299.7 1130.7 1300.4 1131.2 1300.6 1131.6 1298.6 1132.1 1299.5 1132.5 1299.8 1133.0 1299.7 1133.5 1298.8 1133.9 1299.7 1134.4 1299.4 1134.8 1300.0 1135.3 1299.1 1135.7 1298.9 1136.2 1298.7 1136.6 1298.8 1137.1 1298.5 1137.6 1298.8 1138.0 1299.4 1138.5 1299.3 1138.9 1299.9 1139.4 1299.7 1139.8 1299.4 1140.3 1298.1 1140.7 1299.3 1141.2 1299.7 1141.6 1298.0 1142.1 1298.1 1142.6 1298.1 1143.0 1298.1 1143.5 1298.6 1143.9 1298.1 1144.4 1299.0 1144.8 1297.8 1145.3 1298.6 1145.7 1298.3 1146.2 1297.9 1146.7 1299.2 1147.1 1298.5 1147.6 1298.8 1148.0 1298.1 1148.5 1298.8 1148.9 1298.7 1149.4 1298.1 1149.8 1296.9 1150.3 1298.6 1150.7 1298.4 1151.2 1298.0 1151.7 1297.9 1152.1 1297.7 1152.6 1297.6 1153.0 1296.6 1153.5 1297.1 1153.9 1297.2 1154.4 1296.3 1154.8 1295.9 1155.3 1297.6 1155.8 1296.4 1156.2 1295.4 1156.7 1294.8 1157.1 1292.8 1157.6 1293.0 1158.0 1292.9 1158.5 1292.9 1158.9 1290.0 1159.4 1288.6 1159.8 1287.1 1160.3 1283.9 1160.8 1280.5 1161.2 1276.7 1161.7 1271.8 1162.1 1266.7 1162.6 1261.7 1163.0 1256.7 1163.5 1251.8 1163.9 1249.6 1164.4 1247.4 1164.9 1248.3 1165.3 1251.2 1165.8 1252.8 1166.2 1255.8 1166.7 1257.7 1167.1 1259.8 1167.6 1261.3 1168.0 1262.8 1168.5 1264.8 1168.9 1267.2 1169.4 1269.6 1169.9 1272.9 1170.3 1275.6 1170.8 1279.4 1171.2 1282.1 1171.7 1285.0 1172.1 1286.9 1172.6 1288.9 1173.0 1291.0 1173.5 1292.3 1174.0 1293.1 1174.4 1293.3 1174.9 1294.4 1175.3 1295.4 1175.8 1295.9 1176.2 1295.4 1176.7 1295.8 1177.1 1296.6 1177.6 1295.7 1178.0 1297.3 1178.5 1296.8 1179.0 1296.9 1179.4 1295.4 1179.9 1296.1 1180.3 1296.6 1180.8 1297.0 1181.2 1296.7 1181.7 1297.8 1182.1 1297.7 1182.6 1297.5 1183.1 1296.3 1183.5 1298.7 1184.0 1297.6 1184.4 1298.2 1184.9 1297.4 1185.3 1297.9 1185.8 1298.4 1186.2 1298.1 1186.7 1298.7 1187.1 1297.9 1187.6 1299.4 1188.1 1296.7 1188.5 1297.7 1189.0 1298.8 1189.4 1297.9 1189.9 1297.8 1190.3 1296.9 1190.8 1299.0 1191.2 1296.8 1191.7 1298.5 1192.2 1298.3 1192.6 1298.8 1193.1 1299.2 1193.5 1297.7 1194.0 1297.6 1194.4 1298.0 1194.9 1297.0 1195.3 1298.8 1195.8 1297.9 1196.2 1298.3 1196.7 1297.4 1197.2 1298.2 1197.6 1297.8 1198.1 1298.1 1198.5 1297.4 1199.0 1298.9 1199.4 1297.7 1199.9 1296.4 1200.3 1298.6 1200.8 1298.0 1201.3 1297.6 1201.7 1300.0 1202.2 1298.2 1202.6 1297.3 1203.1 1297.8 1203.5 1298.5 1204.0 1298.1 1204.4 1299.3 1204.9 1299.0 1205.3 1297.7 1205.8 1298.2 1206.3 1298.7 1206.7 1297.9 1207.2 1297.9 1207.6 1296.5 1208.1 1298.5 1208.5 1297.3 1209.0 1297.9 1209.4 1297.9 1209.9 1298.2 1210.4 1297.7 1210.8 1299.2 1211.3 1297.6 1211.7 1297.5 1212.2 1298.4 1212.6 1296.7 1213.1 1297.5 1213.5 1298.7 1214.0 1297.3 1214.4 1297.7 1214.9 1299.0 1215.4 1298.6 1215.8 1298.3 1216.3 1298.4 1216.7 1297.8 1217.2 1298.5 1217.6 1298.6 1218.1 1300.0 1218.5 1298.6 1219.0 1298.0 1219.5 1298.2 1219.9 1298.3 1220.4 1297.3 1220.8 1297.7 1221.3 1299.3 1221.7 1297.3 1222.2 1297.8 1222.6 1299.0 1223.1 1299.3 1223.5 1297.5 1224.0 1299.3 1224.5 1298.0 1224.9 1299.4 1225.4 1298.6 1225.8 1298.1 1226.3 1298.8 1226.7 1298.6 1227.2 1297.7 1227.6 1299.8 1228.1 1298.0 1228.6 1299.1 1229.0 1297.9 1229.5 1297.0 1229.9 1297.5 1230.4 1298.2 1230.8 1298.7 1231.3 1299.9 1231.7 1298.3 1232.2 1298.0 1232.6 1297.4 1233.1 1298.2 1233.6 1298.4 1234.0 1296.7 1234.5 1299.1 1234.9 1299.0 1235.4 1299.8 1235.8 1297.6 1236.3 1298.3 1236.7 1298.2 1237.2 1297.3 1237.7 1297.6 1238.1 1297.5 1238.6 1298.6 1239.0 1298.5 1239.5 1299.2 1239.9 1297.9 1240.4 1297.2 1240.8 1298.5 1241.3 1298.5 1241.7 1298.7 1242.2 1299.1 1242.7 1297.8 1243.1 1298.8 1243.6 1297.5 1244.0 1298.3 1244.5 1298.7 1244.9 1298.1 1245.4 1298.3 1245.8 1297.2 1246.3 1297.7 1246.8 1298.3 1247.2 1297.3 1247.7 1297.6 1248.1 1299.9 1248.6 1298.4 1249.0 1297.6 1249.5 1297.4 1249.9 1299.1 1250.4 1296.2 1250.8 1297.9 1251.3 1298.6 1251.8 1297.7 1252.2 1298.5 1252.7 1297.4 1253.1 1298.1 1253.6 1298.1 1254.0 1298.1 1254.5 1298.2 1254.9 1298.1 1255.4 1298.9 1255.9 1297.9 1256.3 1297.7 1256.8 1297.9 1257.2 1297.8 1257.7 1297.0 1258.1 1296.7 1258.6 1297.1 1259.0 1298.2 1259.5 1297.6 1259.9 1297.8 1260.4 1300.1 1260.9 1298.8 1261.3 1297.9 1261.8 1297.6 1262.2 1299.0 1262.7 1297.5 1263.1 1298.9 1263.6 1298.4 1264.0 1299.0 1264.5 1297.5 1265.0 1298.7 1265.4 1296.7 1265.9 1297.9 1266.3 1298.8 1266.8 1298.5 1267.2 1296.7 1267.7 1298.5 1268.1 1298.3 1268.6 1298.0 1269.0 1297.5 1269.5 1297.8 1270.0 1297.6 1270.4 1298.7 1270.9 1298.3 1271.3 1298.7 1271.8 1298.5 1272.2 1297.1 1272.7 1298.1 1273.1 1299.5 1273.6 1297.2 1274.1 1298.2 1274.5 1297.4 1275.0 1297.3 1275.4 1297.8 1275.9 1298.6 1276.3 1298.5 1276.8 1298.3 1277.2 1298.6 1277.7 1296.8 1278.1 1298.5 1278.6 1298.2 1279.1 1297.8 1279.5 1297.9 1280.0 1297.3 1280.4 1298.8 1280.9 1297.4 1281.3 1296.9 1281.8 1297.9 1282.2 1297.5 1282.7 1297.9 1283.2 1299.0 1283.6 1297.8 1284.1 1298.0 1284.5 1299.5 1285.0 1296.9 1285.4 1298.2 1285.9 1298.7 1286.3 1299.0 1286.8 1299.5 1287.2 1297.4 1287.7 1298.3 1288.2 1297.8 1288.6 1297.6 1289.1 1297.4 1289.5 1296.9 1290.0 1298.1 1290.4 1298.4 1290.9 1297.1 1291.3 1298.4 1291.8 1297.5 1292.3 1297.2 1292.7 1296.0 1293.2 1298.7 1293.6 1298.4 1294.1 1297.6 1294.5 1297.6 1295.0 1296.9 1295.4 1298.2 1295.9 1297.8 1296.3 1298.2 1296.8 1298.0 1297.3 1296.9 1297.7 1296.8 1298.2 1298.1 1298.6 1296.7 1299.1 1298.0 1299.5 1298.5 1300.0 1296.9 1300.4 1298.3 1300.9 1297.9 1301.4 1298.2 1301.8 1297.4 1302.3 1297.8 1302.7 1298.1 1303.2 1299.1 1303.6 1298.4 1304.1 1298.2 1304.5 1296.9 1305.0 1298.1 1305.4 1297.4 1305.9 1297.8 1306.4 1298.0 1306.8 1298.5 1307.3 1298.2 1307.7 1298.8 1308.2 1297.8 1308.6 1298.8 1309.1 1297.2 1309.5 1297.8 1310.0 1298.8 1310.5 1297.7 1310.9 1298.4 1311.4 1298.4 1311.8 1299.2 1312.3 1298.6 1312.7 1296.6 1313.2 1297.8 1313.6 1298.0 1314.1 1298.3 1314.5 1298.0 1315.0 1299.1 1315.5 1298.5 1315.9 1296.9 1316.4 1297.3 1316.8 1296.3 1317.3 1298.9 1317.7 1297.6 1318.2 1297.6 1318.6 1296.6 1319.1 1297.3 1319.6 1297.9 1320.0 1297.3 1320.5 1295.6 1320.9 1297.2 1321.4 1299.0 1321.8 1297.2 1322.3 1296.5 1322.7 1297.2 1323.2 1297.3 1323.6 1297.4 1324.1 1297.3 1324.6 1296.7 1325.0 1297.3 1325.5 1297.7 1325.9 1296.4 1326.4 1298.8 1326.8 1298.5 1327.3 1296.0 1327.7 1297.0 1328.2 1298.0 1328.7 1298.2 1329.1 1298.4 1329.6 1295.8 1330.0 1296.3 1330.5 1296.6 1330.9 1297.3 1331.4 1296.1 1331.8 1297.1 1332.3 1296.9 1332.7 1296.9 1333.2 1295.3 1333.7 1296.0 1334.1 1295.5 1334.6 1294.7 1335.0 1295.2 1335.5 1293.3 1335.9 1293.6 1336.4 1291.0 1336.8 1291.5 1337.3 1289.5 1337.8 1287.5 1338.2 1286.8 1338.7 1286.0 1339.1 1285.2 1339.6 1285.7 1340.0 1286.1 1340.5 1286.4 1340.9 1287.4 1341.4 1288.3 1341.8 1288.6 1342.3 1288.9 1342.8 1289.9 1343.2 1289.4 1343.7 1290.0 1344.1 1290.9 1344.6 1291.0 1345.0 1289.7 1345.5 1291.4 1345.9 1292.3 1346.4 1292.9 1346.9 1294.2 1347.3 1294.8 1347.8 1295.1 1348.2 1295.7 1348.7 1296.6 1349.1 1297.1 1349.6 1295.1 1350.0 1298.2 1350.5 1296.4 1350.9 1297.4 1351.4 1295.8 1351.9 1296.7 1352.3 1296.2 1352.8 1297.9 1353.2 1297.8 1353.7 1297.2 1354.1 1297.1 1354.6 1297.6 1355.0 1296.6 1355.5 1296.9 1356.0 1296.8 1356.4 1298.0 1356.9 1297.4 1357.3 1296.5 1357.8 1297.7 1358.2 1297.8 1358.7 1298.4 1359.1 1297.0 1359.6 1297.7 1360.0 1298.9 1360.5 1297.2 1361.0 1297.2 1361.4 1297.8 1361.9 1297.1 1362.3 1297.5 1362.8 1297.1 1363.2 1296.9 1363.7 1298.1 1364.1 1297.2 1364.6 1296.8 1365.1 1297.3 1365.5 1297.4 1366.0 1297.7 1366.4 1298.2 1366.9 1298.8 1367.3 1296.6 1367.8 1297.3 1368.2 1296.2 1368.7 1297.7 1369.1 1297.9 1369.6 1297.0 1370.1 1296.8 1370.5 1296.8 1371.0 1296.4 1371.4 1297.9 1371.9 1298.8 1372.3 1296.7 1372.8 1298.6 1373.2 1297.4 1373.7 1296.5 1374.2 1297.9 1374.6 1298.0 1375.1 1297.7 1375.5 1297.3 1376.0 1298.6 1376.4 1297.3 1376.9 1297.9 1377.3 1297.9 1377.8 1296.8 1378.2 1296.1 1378.7 1296.2 1379.2 1297.2 1379.6 1297.7 1380.1 1296.2 1380.5 1296.9 1381.0 1298.5 1381.4 1296.2 1381.9 1297.8 1382.3 1297.7 1382.8 1298.0 1383.3 1296.4 1383.7 1297.7 1384.2 1296.4 1384.6 1298.4 1385.1 1296.8 1385.5 1297.7 1386.0 1296.8 1386.4 1297.5 1386.9 1296.3 1387.3 1297.6 1387.8 1297.8 1388.3 1297.4 1388.7 1298.5 1389.2 1297.7 1389.6 1297.9 1390.1 1297.7 1390.5 1298.7 1391.0 1296.9 1391.4 1297.2 1391.9 1297.2 1392.4 1297.8 1392.8 1297.6 1393.3 1298.0 1393.7 1297.6 1394.2 1297.0 1394.6 1297.3 1395.1 1297.7 1395.5 1295.7 1396.0 1298.4 1396.4 1297.0 1396.9 1297.1 1397.4 1297.5 1397.8 1297.2 1398.3 1296.3 1398.7 1297.2 1399.2 1298.3 1399.6 1298.1 1400.1 1298.2 1400.5 1297.0 1401.0 1295.3 1401.5 1298.1 1401.9 1298.4 1402.4 1297.4 1402.8 1296.7 1403.3 1296.0 1403.7 1298.4 1404.2 1296.3 1404.6 1297.6 1405.1 1298.0 1405.5 1299.7 1406.0 1297.5 1406.5 1297.3 1406.9 1297.7 1407.4 1297.7 1407.8 1298.3 1408.3 1297.8 1408.7 1296.8 1409.2 1295.8 1409.6 1297.5 1410.1 1296.8 1410.6 1298.3 1411.0 1296.4 1411.5 1297.5 1411.9 1296.8 1412.4 1296.7 1412.8 1301.1 1413.3 1297.4 1413.7 1297.2 1414.2 1297.8 1414.6 1296.7 1415.1 1297.0 1415.6 1296.8 1416.0 1298.7 1416.5 1297.5 1416.9 1297.7 1417.4 1298.1 1417.8 1297.1 1418.3 1297.1 1418.7 1296.1 1419.2 1297.6 1419.7 1297.4 1420.1 1296.9 1420.6 1298.1 1421.0 1295.9 1421.5 1297.5 1421.9 1296.2 1422.4 1296.4 1422.8 1297.0 1423.3 1298.2 1423.7 1296.3 1424.2 1296.5 1424.7 1296.3 1425.1 1298.6 1425.6 1296.9 1426.0 1297.4 1426.5 1298.6 1426.9 1297.3 1427.4 1295.6 1427.8 1296.8 1428.3 1296.3 1428.8 1298.6 1429.2 1296.1 1429.7 1297.3 1430.1 1296.7 1430.6 1296.8 1431.0 1297.1 1431.5 1297.0 1431.9 1296.6 1432.4 1296.1 1432.8 1296.6 1433.3 1296.3 1433.8 1296.4 1434.2 1297.1 1434.7 1296.9 1435.1 1297.3 1435.6 1296.8 1436.0 1298.3 1436.5 1296.4 1436.9 1296.2 1437.4 1297.6 1437.9 1296.4 1438.3 1296.9 1438.8 1297.5 1439.2 1296.7 1439.7 1296.5 1440.1 1297.4 1440.6 1296.9 1441.0 1296.2 1441.5 1295.7 1441.9 1296.2 1442.4 1295.2 1442.9 1295.7 1443.3 1295.4 1443.8 1296.3 1444.2 1296.4 1444.7 1295.2 1445.1 1295.2 1445.6 1294.5 1446.0 1294.0 1446.5 1294.4 1447.0 1294.8 1447.4 1294.4 1447.9 1294.1 1448.3 1293.1 1448.8 1290.9 1449.2 1293.2 1449.7 1293.0 1450.1 1292.3 1450.6 1291.9 1451.0 1291.6 1451.5 1292.4 1452.0 1290.3 1452.4 1291.0 1452.9 1290.2 1453.3 1290.0 1453.8 1289.3 1454.2 1289.2 1454.7 1288.7 1455.1 1290.1 1455.6 1289.7 1456.1 1289.3 1456.5 1290.0 1457.0 1290.0 1457.4 1292.5 1457.9 1291.5 1458.3 1292.2 1458.8 1291.7 1459.2 1292.2 1459.7 1294.1 1460.1 1293.5 1460.6 1294.2 1461.1 1295.7 1461.5 1296.2 1462.0 1295.4 1462.4 1295.5 1462.9 1295.5 1463.3 1295.3 1463.8 1297.2 1464.2 1295.0 1464.7 1295.9 1465.2 1294.7 1465.6 1295.2 1466.1 1296.5 1466.5 1296.6 1467.0 1296.5 1467.4 1296.1 1467.9 1295.8 1468.3 1296.0 1468.8 1296.1 1469.2 1297.2 1469.7 1297.5 1470.2 1296.7 1470.6 1296.0 1471.1 1295.7 1471.5 1296.6 1472.0 1296.2 1472.4 1295.1 1472.9 1297.4 1473.3 1296.4 1473.8 1296.1 1474.3 1295.7 1474.7 1295.7 1475.2 1297.0 1475.6 1295.6 1476.1 1296.4 1476.5 1296.7 1477.0 1297.6 1477.4 1296.7 1477.9 1296.2 1478.3 1295.9 1478.8 1296.8 1479.3 1296.9 1479.7 1295.8 1480.2 1296.5 1480.6 1295.9 1481.1 1294.8 1481.5 1295.2 1482.0 1296.5 1482.4 1296.9 1482.9 1296.3 1483.4 1295.6 1483.8 1295.2 1484.3 1296.1 1484.7 1295.8 1485.2 1294.3 1485.6 1295.9 1486.1 1294.8 1486.5 1295.7 1487.0 1295.5 1487.4 1295.5 1487.9 1295.6 1488.4 1295.2 1488.8 1293.7 1489.3 1293.5 1489.7 1294.8 1490.2 1294.0 1490.6 1292.1 1491.1 1291.3 1491.5 1292.8 1492.0 1293.0 1492.5 1291.0 1492.9 1289.1 1493.4 1288.0 1493.8 1285.5 1494.3 1284.2 1494.7 1282.7 1495.2 1280.3 1495.6 1276.9 1496.1 1275.2 1496.5 1272.2 1497.0 1269.7 1497.5 1267.0 1497.9 1265.0 1498.4 1263.3 1498.8 1262.9 1499.3 1263.1 1499.7 1263.1 1500.2 1264.5 1500.6 1265.5 1501.1 1267.4 1501.6 1268.7 1502.0 1268.9 1502.5 1270.8 1502.9 1271.8 1503.4 1272.2 1503.8 1273.1 1504.3 1274.0 1504.7 1274.8 1505.2 1276.4 1505.6 1278.3 1506.1 1279.6 1506.6 1281.6 1507.0 1283.1 1507.5 1284.7 1507.9 1285.9 1508.4 1287.5 1508.8 1289.1 1509.3 1290.6 1509.7 1290.8 1510.2 1290.8 1510.7 1291.3 1511.1 1292.8 1511.6 1293.4 1512.0 1292.1 1512.5 1293.9 1512.9 1294.2 1513.4 1294.4 1513.8 1294.0 1514.3 1296.2 1514.7 1295.2 1515.2 1293.7 1515.7 1294.3 1516.1 1295.4 1516.6 1295.3 1517.0 1295.0 1517.5 1294.9 1517.9 1294.8 1518.4 1294.7 1518.8 1294.3 1519.3 1295.5 1519.8 1293.0 1520.2 1294.5 1520.7 1295.9 1521.1 1294.4 1521.6 1294.1 1522.0 1296.3 1522.5 1295.7 1522.9 1294.8 1523.4 1294.4 1523.8 1294.6 1524.3 1294.5 1524.8 1294.5 1525.2 1294.0 1525.7 1294.9 1526.1 1293.9 1526.6 1292.9 1527.0 1293.1 1527.5 1293.8 1527.9 1292.8 1528.4 1291.5 1528.9 1294.0 1529.3 1292.9 1529.8 1291.7 1530.2 1291.0 1530.7 1291.0 1531.1 1290.8 1531.6 1288.4 1532.0 1287.9 1532.5 1286.3 1532.9 1285.1 1533.4 1283.1 1533.9 1281.2 1534.3 1280.0 1534.8 1278.0 1535.2 1276.3 1535.7 1274.0 1536.1 1272.8 1536.6 1270.8 1537.0 1269.9 1537.5 1268.3 1538.0 1268.3 1538.4 1267.7 1538.9 1267.9 1539.3 1268.6 1539.8 1268.5 1540.2 1269.5 1540.7 1271.3 1541.1 1271.2 1541.6 1272.3 1542.0 1273.5 1542.5 1274.5 1543.0 1274.8 1543.4 1275.9 1543.9 1276.5 1544.3 1277.8 1544.8 1279.4 1545.2 1280.5 1545.7 1281.7 1546.1 1283.1 1546.6 1284.3 1547.1 1285.5 1547.5 1286.6 1548.0 1287.5 1548.4 1289.2 1548.9 1288.8 1549.3 1291.2 1549.8 1292.7 1550.2 1292.9 1550.7 1294.0 1551.1 1292.0 1551.6 1293.4 1552.1 1293.0 1552.5 1293.3 1553.0 1292.8 1553.4 1293.4 1553.9 1295.1 1554.3 1295.1 1554.8 1295.6 1555.2 1295.7 1555.7 1295.5 1556.2 1294.5 1556.6 1296.8 1557.1 1295.7 1557.5 1296.2 1558.0 1295.1 1558.4 1295.0 1558.9 1295.1 1559.3 1296.6 1559.8 1295.9 1560.2 1295.3 1560.7 1295.0 1561.2 1295.9 1561.6 1294.4 1562.1 1295.5 1562.5 1295.3 1563.0 1295.3 1563.4 1295.9 1563.9 1296.0 1564.3 1297.9 1564.8 1295.8 1565.3 1296.3 1565.7 1295.2 1566.2 1294.6 1566.6 1296.6 1567.1 1297.2 1567.5 1295.1 1568.0 1295.8 1568.4 1296.6 1568.9 1295.9 1569.3 1294.1 1569.8 1296.6 1570.3 1295.7 1570.7 1296.4 1571.2 1295.1 1571.6 1296.5 1572.1 1296.6 1572.5 1295.3 1573.0 1296.2 1573.4 1295.4 1573.9 1295.5 1574.4 1295.2 1574.8 1295.5 1575.3 1295.3 1575.7 1296.7 1576.2 1295.6 1576.6 1295.0 1577.1 1296.8 1577.5 1296.2 1578.0 1296.5 1578.4 1295.7 1578.9 1296.3 1579.4 1295.7 1579.8 1295.1 1580.3 1295.8 1580.7 1295.9 1581.2 1295.9 1581.6 1296.4 1582.1 1294.5 1582.5 1296.0 1583.0 1295.2 1583.5 1295.5 1583.9 1296.0 1584.4 1295.8 1584.8 1295.2 1585.3 1296.3 1585.7 1295.7 1586.2 1296.4 1586.6 1296.6 1587.1 1295.4 1587.5 1294.9 1588.0 1295.7 1588.5 1296.3 1588.9 1295.9 1589.4 1294.8 1589.8 1294.4 1590.3 1295.0 1590.7 1295.0 1591.2 1296.1 1591.6 1295.7 1592.1 1296.2 1592.6 1295.5 1593.0 1296.8 1593.5 1295.6 1593.9 1296.0 1594.4 1295.3 1594.8 1295.9 1595.3 1296.3 1595.7 1296.1 1596.2 1296.5 1596.6 1295.1 1597.1 1295.9 1597.6 1296.7 1598.0 1295.7 1598.5 1295.4 1598.9 1295.3 1599.4 1295.1 1599.8 1295.6 1600.3 1296.5 1600.7 1295.8 1601.2 1295.4 1601.7 1294.9 1602.1 1294.6 1602.6 1297.1 1603.0 1295.1 1603.5 1295.5 1603.9 1295.0 1604.4 1295.5 1604.8 1295.1 1605.3 1295.4 1605.7 1296.4 1606.2 1294.8 1606.7 1295.7 1607.1 1295.3 1607.6 1295.8 1608.0 1294.8 1608.5 1295.6 1608.9 1294.6 1609.4 1294.0 1609.8 1294.3 1610.3 1294.6 1610.8 1294.4 1611.2 1295.0 1611.7 1296.0 1612.1 1294.4 1612.6 1295.5 1613.0 1295.3 1613.5 1294.6 1613.9 1294.5 1614.4 1295.4 1614.8 1295.5 1615.3 1294.9 1615.8 1295.0 1616.2 1295.1 1616.7 1294.1 1617.1 1295.1 1617.6 1295.3 1618.0 1296.3 1618.5 1294.1 1618.9 1294.4 1619.4 1295.1 1619.9 1294.6 1620.3 1294.7 1620.8 1295.0 1621.2 1294.8 1621.7 1294.9 1622.1 1295.3 1622.6 1293.8 1623.0 1295.3 1623.5 1293.3 1623.9 1296.1 1624.4 1295.6 1624.9 1294.5 1625.3 1295.6 1625.8 1294.8 1626.2 1295.2 1626.7 1295.4 1627.1 1295.1 1627.6 1294.8" fill="none" stroke="#000" stroke-width="1.5" stroke-linejoin="round"/><path d="M150.2 868.5L150.7 867.7 151.1 867.8 151.6 865.6 152.0 870.3 152.5 868.5 152.9 868.0 153.4 869.2 153.8 868.7 154.3 867.7 154.8 869.4 155.2 868.0 155.7 868.0 156.1 867.5 156.6 868.9 157.0 868.3 157.5 869.0 157.9 867.7 158.4 868.6 158.8 867.4 159.3 869.4 159.8 868.7 160.2 868.8 160.7 868.9 161.1 867.4 161.6 869.3 162.0 870.8 162.5 866.7 162.9 866.6 163.4 866.9 163.9 869.4 164.3 868.7 164.8 869.7 165.2 869.3 165.7 868.8 166.1 868.9 166.6 868.4 167.0 869.5 167.5 867.3 167.9 868.1 168.4 868.9 168.9 870.6 169.3 867.2 169.8 867.4 170.2 868.0 170.7 869.7 171.1 868.4 171.6 870.1 172.0 866.6 172.5 869.9 173.0 869.8 173.4 867.1 173.9 868.9 174.3 870.0 174.8 868.8 175.2 869.8 175.7 871.3 176.1 869.0 176.6 868.4 177.0 867.9 177.5 869.5 178.0 868.6 178.4 869.3 178.9 868.7 179.3 869.5 179.8 867.6 180.2 867.2 180.7 866.1 181.1 870.1 181.6 868.9 182.1 870.5 182.5 868.8 183.0 868.0 183.4 869.4 183.9 868.8 184.3 867.5 184.8 867.9 185.2 870.8 185.7 869.3 186.1 869.4 186.6 868.6 187.1 868.2 187.5 869.9 188.0 868.8 188.4 868.1 188.9 868.8 189.3 868.0 189.8 869.2 190.2 870.2 190.7 868.1 191.2 870.6 191.6 868.3 192.1 869.2 192.5 868.1 193.0 868.8 193.4 869.1 193.9 868.5 194.3 868.2 194.8 868.3 195.2 868.1 195.7 867.3 196.2 868.7 196.6 869.5 197.1 870.0 197.5 869.7 198.0 871.7 198.4 869.4 198.9 868.5 199.3 871.1 199.8 867.8 200.3 870.0 200.7 867.9 201.2 869.3 201.6 866.6 202.1 869.7 202.5 868.3 203.0 867.0 203.4 869.1 203.9 866.6 204.3 863.6 204.8 862.0 205.3 859.4 205.7 860.4 206.2 863.8 206.6 866.3 207.1 866.4 207.5 867.4 208.0 867.9 208.4 867.3 208.9 868.2 209.4 868.9 209.8 869.8 210.3 870.6 210.7 870.9 211.2 869.8 211.6 868.7 212.1 871.5 212.5 869.2 213.0 869.8 213.4 868.3 213.9 868.4 214.4 869.6 214.8 868.9 215.3 869.8 215.7 867.7 216.2 870.1 216.6 868.4 217.1 871.3 217.5 869.1 218.0 870.7 218.5 867.9 218.9 869.9 219.4 868.5 219.8 869.0 220.3 873.2 220.7 869.2 221.2 869.8 221.6 870.3 222.1 870.3 222.5 869.4 223.0 868.1 223.5 868.7 223.9 869.4 224.4 867.2 224.8 870.4 225.3 869.3 225.7 869.3 226.2 870.7 226.6 870.4 227.1 869.9 227.6 868.5 228.0 867.1 228.5 870.0 228.9 868.7 229.4 870.8 229.8 870.2 230.3 867.5 230.7 869.8 231.2 868.3 231.6 871.0 232.1 870.6 232.6 868.5 233.0 868.8 233.5 869.9 233.9 869.5 234.4 871.4 234.8 870.6 235.3 869.5 235.7 870.4 236.2 867.6 236.7 870.1 237.1 870.8 237.6 869.6 238.0 869.0 238.5 870.5 238.9 872.0 239.4 870.1 239.8 868.6 240.3 871.5 240.7 867.8 241.2 870.4 241.7 869.3 242.1 870.9 242.6 869.0 243.0 870.3 243.5 870.3 243.9 868.0 244.4 867.8 244.8 869.6 245.3 871.4 245.8 870.1 246.2 870.0 246.7 869.7 247.1 870.8 247.6 870.4 248.0 870.3 248.5 868.9 248.9 871.3 249.4 871.5 249.8 868.6 250.3 872.6 250.8 870.8 251.2 869.5 251.7 868.0 252.1 870.8 252.6 870.7 253.0 869.4 253.5 869.1 253.9 871.3 254.4 869.5 254.9 869.6 255.3 873.3 255.8 872.5 256.2 871.2 256.7 869.7 257.1 870.9 257.6 867.7 258.0 870.3 258.5 870.2 258.9 868.8 259.4 868.5 259.9 870.8 260.3 870.3 260.8 870.4 261.2 871.2 261.7 869.3 262.1 868.9 262.6 868.3 263.0 869.9 263.5 871.1 264.0 870.1 264.4 871.0 264.9 869.0 265.3 869.8 265.8 869.5 266.2 868.9 266.7 872.4 267.1 871.3 267.6 869.5 268.0 869.5 268.5 870.3 269.0 868.8 269.4 870.9 269.9 867.3 270.3 870.0 270.8 869.3 271.2 869.9 271.7 868.9 272.1 868.7 272.6 869.4 273.1 869.4 273.5 870.1 274.0 870.5 274.4 872.1 274.9 871.4 275.3 870.2 275.8 871.3 276.2 869.7 276.7 872.1 277.1 871.1 277.6 869.0 278.1 871.3 278.5 871.4 279.0 867.6 279.4 869.7 279.9 870.0 280.3 868.4 280.8 869.4 281.2 869.5 281.7 871.1 282.2 870.9 282.6 873.5 283.1 870.1 283.5 871.9 284.0 870.7 284.4 870.9 284.9 869.3 285.3 868.5 285.8 869.8 286.2 871.5 286.7 872.4 287.2 871.3 287.6 871.2 288.1 869.7 288.5 872.3 289.0 872.1 289.4 870.1 289.9 870.6 290.3 869.6 290.8 872.3 291.3 871.1 291.7 870.6 292.2 871.1 292.6 871.2 293.1 870.2 293.5 869.3 294.0 869.3 294.4 868.8 294.9 871.2 295.3 873.2 295.8 868.8 296.3 870.9 296.7 871.2 297.2 869.6 297.6 870.9 298.1 869.4 298.5 872.0 299.0 870.1 299.4 870.8 299.9 871.5 300.4 870.8 300.8 868.7 301.3 870.1 301.7 871.5 302.2 870.6 302.6 870.9 303.1 869.4 303.5 870.8 304.0 871.4 304.4 872.3 304.9 872.6 305.4 870.3 305.8 869.3 306.3 868.6 306.7 871.6 307.2 870.2 307.6 871.2 308.1 870.5 308.5 871.6 309.0 871.0 309.5 868.9 309.9 869.3 310.4 869.8 310.8 866.8 311.3 869.2 311.7 868.4 312.2 867.5 312.6 865.5 313.1 865.3 313.5 863.0 314.0 863.5 314.5 862.5 314.9 862.2 315.4 861.4 315.8 861.4 316.3 861.6 316.7 860.6 317.2 861.8 317.6 861.0 318.1 861.5 318.6 863.1 319.0 863.9 319.5 865.1 319.9 863.6 320.4 866.0 320.8 866.9 321.3 868.8 321.7 867.9 322.2 867.8 322.6 867.8 323.1 869.1 323.6 869.1 324.0 870.6 324.5 869.0 324.9 869.3 325.4 871.0 325.8 872.5 326.3 871.0 326.7 871.0 327.2 870.3 327.7 872.0 328.1 871.4 328.6 872.8 329.0 871.2 329.5 865.0 329.9 869.4 330.4 869.9 330.8 869.0 331.3 872.4 331.7 871.9 332.2 869.7 332.7 873.0 333.1 871.3 333.6 870.0 334.0 871.5 334.5 871.0 334.9 870.3 335.4 869.0 335.8 871.2 336.3 871.5 336.8 868.3 337.2 871.8 337.7 871.4 338.1 870.7 338.6 871.3 339.0 870.9 339.5 870.3 339.9 870.9 340.4 872.7 340.8 869.7 341.3 871.5 341.8 871.5 342.2 870.5 342.7 870.8 343.1 869.8 343.6 870.4 344.0 871.3 344.5 871.7 344.9 870.3 345.4 874.7 345.9 870.7 346.3 871.5 346.8 871.1 347.2 870.9 347.7 872.8 348.1 870.8 348.6 872.8 349.0 872.6 349.5 870.2 349.9 872.5 350.4 870.7 350.9 874.4 351.3 871.0 351.8 870.3 352.2 869.3 352.7 870.0 353.1 873.3 353.6 870.3 354.0 870.0 354.5 870.6 355.0 871.2 355.4 873.0 355.9 869.5 356.3 870.8 356.8 870.3 357.2 869.7 357.7 867.3 358.1 870.4 358.6 872.1 359.0 871.1 359.5 870.8 360.0 872.0 360.4 871.6 360.9 871.1 361.3 873.3 361.8 870.4 362.2 872.0 362.7 871.8 363.1 870.8 363.6 869.9 364.1 872.9 364.5 871.3 365.0 874.5 365.4 870.4 365.9 872.0 366.3 870.5 366.8 871.2 367.2 871.8 367.7 869.9 368.1 870.6 368.6 870.8 369.1 870.6 369.5 875.7 370.0 871.2 370.4 870.7 370.9 869.6 371.3 868.5 371.8 866.9 372.2 866.5 372.7 865.7 373.2 865.8 373.6 863.5 374.1 861.5 374.5 860.6 375.0 858.2 375.4 853.5 375.9 855.4 376.3 854.8 376.8 852.7 377.2 854.0 377.7 855.5 378.2 856.7 378.6 858.2 379.1 860.1 379.5 862.6 380.0 863.4 380.4 865.9 380.9 867.2 381.3 868.8 381.8 868.7 382.3 868.4 382.7 868.8 383.2 868.6 383.6 871.2 384.1 870.0 384.5 870.0 385.0 869.6 385.4 872.9 385.9 871.8 386.3 871.0 386.8 870.4 387.3 869.6 387.7 871.6 388.2 871.7 388.6 869.9 389.1 874.3 389.5 872.3 390.0 870.5 390.4 870.9 390.9 871.1 391.4 871.8 391.8 871.5 392.3 869.8 392.7 873.3 393.2 872.0 393.6 873.1 394.1 873.1 394.5 871.5 395.0 872.1 395.4 872.6 395.9 872.6 396.4 871.6 396.8 871.1 397.3 870.4 397.7 871.0 398.2 871.2 398.6 869.6 399.1 872.0 399.5 870.8 400.0 871.3 400.5 871.8 400.9 872.3 401.4 874.0 401.8 872.2 402.3 870.4 402.7 872.1 403.2 871.3 403.6 872.4 404.1 871.2 404.5 871.2 405.0 871.4 405.5 871.3 405.9 870.0 406.4 871.3 406.8 872.0 407.3 873.3 407.7 871.7 408.2 871.6 408.6 872.7 409.1 872.6 409.6 873.8 410.0 872.7 410.5 872.0 410.9 873.5 411.4 873.7 411.8 871.5 412.3 872.2 412.7 870.2 413.2 871.7 413.6 871.1 414.1 871.8 414.6 871.5 415.0 871.9 415.5 872.0 415.9 872.6 416.4 872.3 416.8 871.5 417.3 870.7 417.7 873.5 418.2 873.7 418.7 871.6 419.1 872.7 419.6 870.4 420.0 870.4 420.5 871.8 420.9 873.7 421.4 871.0 421.8 871.2 422.3 873.9 422.7 870.0 423.2 872.8 423.7 880.1 424.1 871.9 424.6 872.3 425.0 875.0 425.5 870.9 425.9 871.8 426.4 871.8 426.8 870.8 427.3 870.6 427.8 873.8 428.2 872.3 428.7 870.1 429.1 871.3 429.6 872.5 430.0 872.5 430.5 870.5 430.9 872.0 431.4 872.3 431.8 872.5 432.3 872.5 432.8 870.0 433.2 874.0 433.7 872.2 434.1 874.0 434.6 875.1 435.0 871.8 435.5 870.6 435.9 872.9 436.4 871.7 436.9 871.4 437.3 870.7 437.8 873.7 438.2 871.3 438.7 870.3 439.1 871.3 439.6 870.5 440.0 871.9 440.5 871.2 440.9 870.5 441.4 872.2 441.9 870.8 442.3 872.3 442.8 872.8 443.2 871.0 443.7 870.6 444.1 871.4 444.6 872.1 445.0 871.0 445.5 871.0 446.0 870.7 446.4 871.0 446.9 871.1 447.3 869.5 447.8 869.5 448.2 869.9 448.7 868.8 449.1 869.4 449.6 869.4 450.0 868.4 450.5 867.2 451.0 866.3 451.4 868.3 451.9 866.8 452.3 863.2 452.8 861.1 453.2 859.2 453.7 854.5 454.1 847.6 454.6 839.7 455.1 827.9 455.5 816.2 456.0 803.6 456.4 791.4 456.9 785.6 457.3 785.9 457.8 790.0 458.2 794.9 458.7 801.8 459.1 810.1 459.6 818.5 460.1 827.9 460.5 837.7 461.0 845.5 461.4 852.5 461.9 856.8 462.3 859.9 462.8 863.8 463.2 864.3 463.7 866.4 464.2 867.5 464.6 868.4 465.1 868.3 465.5 869.2 466.0 868.9 466.4 867.7 466.9 869.3 467.3 869.5 467.8 869.8 468.2 870.3 468.7 869.6 469.2 871.9 469.6 872.3 470.1 868.2 470.5 870.8 471.0 870.1 471.4 868.0 471.9 871.4 472.3 870.3 472.8 870.7 473.3 870.4 473.7 872.4 474.2 872.6 474.6 871.5 475.1 872.0 475.5 871.2 476.0 871.5 476.4 870.5 476.9 871.4 477.3 870.6 477.8 871.8 478.3 872.3 478.7 871.7 479.2 872.7 479.6 874.3 480.1 869.1 480.5 871.4 481.0 870.7 481.4 870.9 481.9 869.9 482.4 871.4 482.8 871.0 483.3 870.6 483.7 871.0 484.2 872.2 484.6 868.7 485.1 872.4 485.5 870.9 486.0 870.2 486.4 871.5 486.9 870.4 487.4 868.7 487.8 872.1 488.3 870.1 488.7 870.8 489.2 871.1 489.6 872.4 490.1 872.2 490.5 871.0 491.0 870.0 491.5 870.3 491.9 871.9 492.4 872.6 492.8 871.2 493.3 869.8 493.7 871.6 494.2 869.9 494.6 869.8 495.1 869.8 495.5 870.7 496.0 870.2 496.5 870.8 496.9 871.1 497.4 869.9 497.8 866.5 498.3 866.8 498.7 868.5 499.2 867.8 499.6 869.8 500.1 866.8 500.6 866.0 501.0 866.5 501.5 863.7 501.9 863.7 502.4 863.2 502.8 861.6 503.3 860.7 503.7 860.8 504.2 858.8 504.6 859.1 505.1 858.3 505.6 857.8 506.0 857.4 506.5 856.8 506.9 855.1 507.4 855.1 507.8 854.5 508.3 854.2 508.7 851.9 509.2 850.3 509.7 848.1 510.1 845.9 510.6 840.9 511.0 836.5 511.5 832.0 511.9 824.5 512.4 818.3 512.8 809.8 513.3 800.3 513.7 791.0 514.2 780.1 514.7 769.5 515.1 757.2 515.6 747.0 516.0 734.9 516.5 724.0 516.9 713.4 517.4 704.0 517.8 694.7 518.3 684.1 518.8 681.1 519.2 683.4 519.7 688.3 520.1 693.3 520.6 699.3 521.0 706.3 521.5 714.7 521.9 724.6 522.4 734.2 522.8 742.1 523.3 747.2 523.8 757.1 524.2 773.7 524.7 789.2 525.1 799.9 525.6 809.9 526.0 817.7 526.5 826.4 526.9 832.4 527.4 839.2 527.9 845.0 528.3 847.8 528.8 852.2 529.2 854.9 529.7 857.0 530.1 859.0 530.6 861.3 531.0 863.1 531.5 863.8 531.9 863.9 532.4 864.2 532.9 865.7 533.3 868.0 533.8 867.2 534.2 867.7 534.7 868.9 535.1 867.6 535.6 868.0 536.0 868.1 536.5 866.5 537.0 869.2 537.4 869.3 537.9 870.0 538.3 867.7 538.8 868.3 539.2 870.3 539.7 869.7 540.1 871.0 540.6 868.6 541.0 869.8 541.5 868.9 542.0 870.1 542.4 869.3 542.9 870.5 543.3 871.1 543.8 870.7 544.2 868.0 544.7 871.1 545.1 870.6 545.6 869.0 546.1 869.2 546.5 870.2 547.0 870.8 547.4 869.7 547.9 868.4 548.3 870.5 548.8 870.4 549.2 872.9 549.7 868.8 550.1 873.0 550.6 872.1 551.1 870.5 551.5 872.0 552.0 870.3 552.4 871.3 552.9 869.4 553.3 870.2 553.8 869.0 554.2 872.1 554.7 869.8 555.2 869.3 555.6 870.6 556.1 871.3 556.5 869.7 557.0 869.9 557.4 870.0 557.9 867.9 558.3 870.0 558.8 869.6 559.2 869.5 559.7 868.2 560.2 867.2 560.6 869.0 561.1 869.5 561.5 870.5 562.0 870.1 562.4 870.4 562.9 869.0 563.3 869.7 563.8 868.1 564.3 868.8 564.7 868.9 565.2 870.6 565.6 867.7 566.1 865.8 566.5 868.4 567.0 865.7 567.4 866.1 567.9 865.5 568.3 864.4 568.8 866.4 569.3 864.6 569.7 863.5 570.2 863.1 570.6 862.1 571.1 861.7 571.5 860.3 572.0 859.0 572.4 857.7 572.9 856.3 573.4 854.8 573.8 852.2 574.3 850.0 574.7 847.1 575.2 844.0 575.6 838.2 576.1 829.8 576.5 821.9 577.0 809.6 577.4 793.2 577.9 771.6 578.4 742.6 578.8 706.0 579.3 666.6 579.7 625.3 580.2 592.3 580.6 577.0 581.1 579.6 581.5 596.2 582.0 613.4 582.5 631.3 582.9 649.4 583.4 672.8 583.8 699.4 584.3 728.7 584.7 757.4 585.2 780.3 585.6 800.1 586.1 813.8 586.5 824.9 587.0 834.2 587.5 840.0 587.9 845.2 588.4 847.8 588.8 852.1 589.3 853.6 589.7 856.2 590.2 857.0 590.6 858.2 591.1 860.0 591.6 861.2 592.0 858.9 592.5 863.0 592.9 863.9 593.4 864.5 593.8 868.2 594.3 864.4 594.7 867.2 595.2 866.0 595.6 866.8 596.1 866.3 596.6 868.5 597.0 866.1 597.5 866.3 597.9 867.7 598.4 866.9 598.8 869.2 599.3 869.6 599.7 867.9 600.2 869.8 600.7 868.3 601.1 869.1 601.6 869.3 602.0 871.5 602.5 869.6 602.9 868.7 603.4 868.8 603.8 871.2 604.3 868.1 604.7 869.5 605.2 869.7 605.7 867.5 606.1 869.7 606.6 871.4 607.0 870.6 607.5 869.4 607.9 871.2 608.4 871.1 608.8 872.8 609.3 869.8 609.8 870.2 610.2 870.8 610.7 869.4 611.1 870.9 611.6 870.7 612.0 870.1 612.5 869.1 612.9 870.3 613.4 869.4 613.8 869.8 614.3 870.4 614.8 870.5 615.2 871.9 615.7 869.9 616.1 871.4 616.6 869.8 617.0 871.0 617.5 869.3 617.9 868.7 618.4 871.9 618.9 872.1 619.3 871.4 619.8 869.9 620.2 872.7 620.7 872.4 621.1 871.0 621.6 870.8 622.0 868.9 622.5 871.8 622.9 869.2 623.4 871.7 623.9 871.8 624.3 871.0 624.8 872.6 625.2 870.5 625.7 871.5 626.1 874.1 626.6 870.4 627.0 870.3 627.5 872.0 628.0 871.1 628.4 870.3 628.9 870.3 629.3 870.5 629.8 872.8 630.2 870.3 630.7 869.8 631.1 868.7 631.6 868.4 632.0 867.5 632.5 869.6 633.0 869.0 633.4 867.5 633.9 866.6 634.3 867.3 634.8 866.5 635.2 864.8 635.7 865.6 636.1 864.3 636.6 862.8 637.1 861.6 637.5 859.2 638.0 858.0 638.4 854.5 638.9 852.5 639.3 849.6 639.8 846.0 640.2 842.8 640.7 838.4 641.1 834.5 641.6 831.3 642.1 827.2 642.5 824.2 643.0 820.6 643.4 817.9 643.9 815.4 644.3 813.7 644.8 812.8 645.2 812.7 645.7 813.5 646.2 816.3 646.6 817.1 647.1 820.7 647.5 824.6 648.0 828.1 648.4 832.3 648.9 835.8 649.3 838.8 649.8 842.9 650.2 845.9 650.7 850.2 651.2 853.3 651.6 855.2 652.1 858.0 652.5 859.7 653.0 861.1 653.4 863.1 653.9 863.9 654.3 865.1 654.8 866.9 655.3 868.3 655.7 869.6 656.2 868.3 656.6 869.4 657.1 870.0 657.5 870.4 658.0 866.9 658.4 869.4 658.9 871.4 659.3 869.4 659.8 871.1 660.3 871.8 660.7 868.9 661.2 870.9 661.6 871.5 662.1 871.3 662.5 869.7 663.0 871.8 663.4 870.9 663.9 872.5 664.4 872.1 664.8 871.1 665.3 872.0 665.7 869.5 666.2 871.1 666.6 870.2 667.1 871.7 667.5 872.9 668.0 872.2 668.4 872.0 668.9 871.4 669.4 871.6 669.8 873.0 670.3 870.5 670.7 874.5 671.2 872.2 671.6 874.7 672.1 873.6 672.5 870.3 673.0 873.2 673.5 872.6 673.9 872.9 674.4 873.3 674.8 871.8 675.3 871.8 675.7 872.0 676.2 871.0 676.6 872.2 677.1 872.8 677.5 872.8 678.0 872.8 678.5 872.1 678.9 873.4 679.4 870.3 679.8 872.1 680.3 872.2 680.7 873.6 681.2 873.3 681.6 873.5 682.1 872.6 682.6 873.7 683.0 871.5 683.5 872.7 683.9 870.3 684.4 874.5 684.8 874.4 685.3 872.0 685.7 871.7 686.2 870.3 686.6 871.0 687.1 872.8 687.6 872.5 688.0 871.0 688.5 872.1 688.9 871.9 689.4 873.1 689.8 873.4 690.3 872.3 690.7 872.7 691.2 872.5 691.7 870.2 692.1 872.7 692.6 872.4 693.0 873.3 693.5 870.4 693.9 873.2 694.4 871.7 694.8 872.6 695.3 873.6 695.7 870.6 696.2 870.8 696.7 873.3 697.1 870.9 697.6 871.0 698.0 872.7 698.5 871.8 698.9 872.8 699.4 872.2 699.8 871.8 700.3 872.9 700.8 874.2 701.2 871.6 701.7 873.3 702.1 872.9 702.6 871.7 703.0 874.5 703.5 870.5 703.9 870.8 704.4 871.7 704.8 871.3 705.3 872.8 705.8 869.9 706.2 871.0 706.7 870.5 707.1 871.1 707.6 872.5 708.0 869.9 708.5 872.1 708.9 870.5 709.4 870.8 709.9 872.2 710.3 870.8 710.8 871.9 711.2 871.3 711.7 871.0 712.1 870.8 712.6 869.3 713.0 870.4 713.5 871.4 713.9 871.5 714.4 869.7 714.9 872.4 715.3 872.0 715.8 870.0 716.2 870.3 716.7 872.1 717.1 869.6 717.6 870.8 718.0 871.6 718.5 871.6 719.0 871.8 719.4 872.3 719.9 871.1 720.3 871.5 720.8 874.4 721.2 870.6 721.7 871.8 722.1 872.5 722.6 871.7 723.0 873.8 723.5 872.6 724.0 874.9 724.4 869.8 724.9 872.7 725.3 874.1 725.8 872.1 726.2 874.4 726.7 873.3 727.1 874.1 727.6 875.2 728.1 873.3 728.5 872.2 729.0 873.3 729.4 872.0 729.9 872.5 730.3 872.6 730.8 872.6 731.2 874.6 731.7 874.0 732.1 871.4 732.6 872.3 733.1 867.1 733.5 866.3 734.0 866.6 734.4 869.7 734.9 871.5 735.3 872.9 735.8 874.7 736.2 874.5 736.7 875.4 737.2 873.1 737.6 872.2 738.1 873.7 738.5 875.1 739.0 874.5 739.4 875.2 739.9 875.1 740.3 874.9 740.8 875.2 741.2 873.6 741.7 875.6 742.2 873.3 742.6 874.3 743.1 872.9 743.5 876.0 744.0 872.8 744.4 876.1 744.9 873.1 745.3 874.8 745.8 874.4 746.3 873.6 746.7 876.0 747.2 874.1 747.6 876.3 748.1 873.5 748.5 873.8 749.0 872.5 749.4 875.3 749.9 875.7 750.3 875.0 750.8 874.6 751.3 873.7 751.7 877.4 752.2 875.6 752.6 872.8 753.1 874.5 753.5 872.0 754.0 876.6 754.4 877.0 754.9 876.5 755.4 874.8 755.8 874.2 756.3 873.4 756.7 875.5 757.2 874.1 757.6 874.5 758.1 874.3 758.5 875.0 759.0 876.0 759.4 876.9 759.9 875.2 760.4 875.1 760.8 873.8 761.3 873.7 761.7 873.9 762.2 876.0 762.6 875.3 763.1 876.1 763.5 875.5 764.0 874.6 764.5 873.7 764.9 874.7 765.4 873.5 765.8 877.3 766.3 875.4 766.7 874.7 767.2 877.3 767.6 874.7 768.1 875.7 768.5 874.9 769.0 875.5 769.5 874.7 769.9 875.7 770.4 876.7 770.8 873.7 771.3 872.7 771.7 876.6 772.2 875.3 772.6 876.1 773.1 874.8 773.6 876.8 774.0 877.2 774.5 873.8 774.9 875.9 775.4 874.5 775.8 873.4 776.3 874.8 776.7 875.8 777.2 873.6 777.6 873.7 778.1 876.5 778.6 875.2 779.0 875.6 779.5 873.9 779.9 874.4 780.4 875.3 780.8 875.4 781.3 875.3 781.7 876.9 782.2 875.3 782.7 873.5 783.1 874.2 783.6 875.1 784.0 876.6 784.5 874.4 784.9 874.7 785.4 875.1 785.8 874.4 786.3 874.2 786.7 874.9 787.2 876.3 787.7 875.7 788.1 874.8 788.6 875.6 789.0 873.7 789.5 876.3 789.9 876.0 790.4 875.5 790.8 873.4 791.3 877.4 791.8 871.9 792.2 874.1 792.7 874.2 793.1 876.0 793.6 873.5 794.0 875.4 794.5 875.0 794.9 874.9 795.4 876.1 795.8 876.8 796.3 875.6 796.8 874.9 797.2 872.7 797.7 876.8 798.1 874.9 798.6 873.2 799.0 875.4 799.5 876.8 799.9 875.1 800.4 873.9 800.9 877.7 801.3 875.9 801.8 875.6 802.2 876.4 802.7 872.8 803.1 875.2 803.6 875.1 804.0 877.8 804.5 874.6 804.9 874.7 805.4 873.7 805.9 874.4 806.3 879.1 806.8 875.6 807.2 875.1 807.7 877.5 808.1 875.9 808.6 876.0 809.0 876.8 809.5 876.0 810.0 874.7 810.4 873.6 810.9 875.7 811.3 874.4 811.8 876.8 812.2 874.5 812.7 872.9 813.1 875.4 813.6 876.5 814.0 875.1 814.5 875.6 815.0 875.5 815.4 877.3 815.9 875.7 816.3 875.3 816.8 874.7 817.2 870.6 817.7 876.9 818.1 876.6 818.6 874.3 819.1 876.1 819.5 875.7 820.0 875.0 820.4 875.0 820.9 876.2 821.3 874.0 821.8 874.8 822.2 875.3 822.7 875.4 823.1 875.2 823.6 875.6 824.1 876.0 824.5 874.4 825.0 875.5 825.4 874.8 825.9 877.1 826.3 873.8 826.8 869.9 827.2 876.2 827.7 875.1 828.2 875.1 828.6 874.8 829.1 875.8 829.5 872.9 830.0 875.3 830.4 875.3 830.9 873.8 831.3 875.8 831.8 874.9 832.2 875.8 832.7 874.5 833.2 875.9 833.6 874.2 834.1 875.8 834.5 873.7 835.0 874.6 835.4 875.0 835.9 875.5 836.3 877.2 836.8 875.3 837.3 875.5 837.7 874.3 838.2 876.6 838.6 875.3 839.1 876.2 839.5 876.0 840.0 876.1 840.4 875.9 840.9 875.5 841.3 875.5 841.8 874.8 842.3 873.2 842.7 876.1 843.2 877.9 843.6 876.8 844.1 878.2 844.5 876.1 845.0 874.5 845.4 874.5 845.9 876.4 846.4 876.0 846.8 875.4 847.3 876.4 847.7 874.6 848.2 876.2 848.6 875.3 849.1 875.8 849.5 877.0 850.0 875.5 850.4 877.2 850.9 877.1 851.4 874.8 851.8 878.2 852.3 874.3 852.7 875.5 853.2 876.5 853.6 873.1 854.1 876.8 854.5 876.9 855.0 875.5 855.5 876.0 855.9 875.9 856.4 875.4 856.8 876.9 857.3 875.3 857.7 875.6 858.2 876.1 858.6 876.6 859.1 876.9 859.5 874.0 860.0 873.4 860.5 875.5 860.9 875.6 861.4 874.5 861.8 876.0 862.3 876.4 862.7 876.1 863.2 877.5 863.6 874.5 864.1 875.7 864.6 877.8 865.0 876.4 865.5 874.2 865.9 875.9 866.4 877.0 866.8 878.0 867.3 876.4 867.7 877.0 868.2 874.4 868.6 875.4 869.1 877.0 869.6 874.6 870.0 875.6 870.5 873.6 870.9 877.3 871.4 875.5 871.8 876.3 872.3 874.0 872.7 874.2 873.2 877.6 873.7 875.2 874.1 875.0 874.6 876.2 875.0 876.2 875.5 873.4 875.9 874.5 876.4 875.6 876.8 875.6 877.3 875.9 877.7 875.1 878.2 875.2 878.7 875.7 879.1 875.5 879.6 874.5 880.0 874.8 880.5 875.4 880.9 875.2 881.4 875.5 881.8 875.1 882.3 875.3 882.8 875.7 883.2 875.7 883.7 873.8 884.1 876.3 884.6 873.3 885.0 875.7 885.5 874.2 885.9 875.6 886.4 876.0 886.8 872.7 887.3 875.3 887.8 874.9 888.2 873.9 888.7 874.6 889.1 873.4 889.6 873.8 890.0 872.1 890.5 873.7 890.9 872.8 891.4 872.0 891.9 869.4 892.3 870.7 892.8 867.8 893.2 864.9 893.7 862.4 894.1 859.8 894.6 857.7 895.0 855.3 895.5 852.4 895.9 850.8 896.4 850.8 896.9 850.7 897.3 851.5 897.8 852.7 898.2 853.1 898.7 854.9 899.1 856.0 899.6 857.8 900.0 857.7 900.5 861.1 901.0 862.6 901.4 865.4 901.9 866.9 902.3 868.0 902.8 867.5 903.2 869.6 903.7 876.3 904.1 872.9 904.6 872.3 905.0 873.8 905.5 873.0 906.0 873.5 906.4 874.7 906.9 872.8 907.3 874.5 907.8 875.3 908.2 875.6 908.7 873.7 909.1 874.0 909.6 872.6 910.1 872.5 910.5 874.1 911.0 870.1 911.4 871.1 911.9 873.4 912.3 871.5 912.8 871.6 913.2 871.9 913.7 871.4 914.1 870.3 914.6 867.7 915.1 870.0 915.5 868.2 916.0 866.9 916.4 867.2 916.9 868.5 917.3 867.8 917.8 867.8 918.2 868.2 918.7 868.1 919.2 866.9 919.6 869.7 920.1 870.6 920.5 870.6 921.0 872.3 921.4 873.3 921.9 870.9 922.3 871.8 922.8 873.8 923.2 873.5 923.7 873.9 924.2 875.1 924.6 875.2 925.1 874.2 925.5 875.1 926.0 874.4 926.4 875.1 926.9 874.2 927.3 873.4 927.8 875.2 928.3 875.1 928.7 876.8 929.2 877.6 929.6 876.0 930.1 876.5 930.5 875.3 931.0 875.1 931.4 875.8 931.9 875.8 932.3 876.5 932.8 876.3 933.3 878.0 933.7 876.0 934.2 874.4 934.6 876.4 935.1 875.5 935.5 876.5 936.0 877.5 936.4 875.6 936.9 876.2 937.4 876.9 937.8 875.3 938.3 876.6 938.7 877.0 939.2 877.3 939.6 877.6 940.1 877.0 940.5 876.9 941.0 874.9 941.4 873.5 941.9 875.4 942.4 878.0 942.8 876.6 943.3 874.0 943.7 876.0 944.2 876.9 944.6 874.5 945.1 877.2 945.5 875.3 946.0 877.7 946.5 876.6 946.9 880.0 947.4 875.1 947.8 876.9 948.3 875.0 948.7 877.9 949.2 876.7 949.6 877.6 950.1 876.7 950.5 875.4 951.0 875.9 951.5 875.3 951.9 875.5 952.4 876.8 952.8 877.9 953.3 877.6 953.7 877.3 954.2 876.1 954.6 877.3 955.1 875.8 955.6 877.0 956.0 877.7 956.5 876.5 956.9 876.2 957.4 876.3 957.8 877.4 958.3 876.4 958.7 875.2 959.2 876.3 959.6 875.6 960.1 878.4 960.6 876.8 961.0 875.2 961.5 877.1 961.9 877.6 962.4 877.2 962.8 876.4 963.3 877.0 963.7 877.2 964.2 878.0 964.7 877.3 965.1 879.4 965.6 876.6 966.0 878.6 966.5 876.9 966.9 875.0 967.4 875.6 967.8 874.9 968.3 875.0 968.7 878.2 969.2 876.2 969.7 877.6 970.1 876.0 970.6 876.9 971.0 875.8 971.5 877.9 971.9 876.7 972.4 876.5 972.8 876.8 973.3 879.4 973.8 877.5 974.2 877.9 974.7 875.6 975.1 876.3 975.6 877.3 976.0 875.0 976.5 878.5 976.9 877.3 977.4 877.0 977.8 876.8 978.3 876.8 978.8 876.5 979.2 878.6 979.7 877.8 980.1 878.4 980.6 878.0 981.0 876.1 981.5 878.6 981.9 875.8 982.4 871.6 982.9 877.9 983.3 878.3 983.8 875.7 984.2 876.8 984.7 877.2 985.1 877.0 985.6 876.2 986.0 877.9 986.5 876.6 986.9 876.9 987.4 874.7 987.9 877.1 988.3 875.1 988.8 878.0 989.2 877.7 989.7 876.6 990.1 877.4 990.6 877.3 991.0 877.1 991.5 877.6 992.0 877.1 992.4 876.7 992.9 876.4 993.3 879.1 993.8 877.5 994.2 877.2 994.7 878.1 995.1 876.8 995.6 876.9 996.0 878.0 996.5 878.4 997.0 878.0 997.4 875.7 997.9 877.4 998.3 877.3 998.8 877.8 999.2 876.4 999.7 876.2 1000.1 877.2 1000.6 876.4 1001.1 876.2 1001.5 877.3 1002.0 878.3 1002.4 877.5 1002.9 878.6 1003.3 876.2 1003.8 878.1 1004.2 877.3 1004.7 876.4 1005.1 876.9 1005.6 876.4 1006.1 877.1 1006.5 876.5 1007.0 878.7 1007.4 876.9 1007.9 875.8 1008.3 877.1 1008.8 877.8 1009.2 877.0 1009.7 878.3 1010.2 876.3 1010.6 876.4 1011.1 881.1 1011.5 877.3 1012.0 877.9 1012.4 877.9 1012.9 878.0 1013.3 877.4 1013.8 877.1 1014.2 879.5 1014.7 877.1 1015.2 877.5 1015.6 878.1 1016.1 876.9 1016.5 875.5 1017.0 877.8 1017.4 878.5 1017.9 877.6 1018.3 875.5 1018.8 878.0 1019.3 879.5 1019.7 875.7 1020.2 874.4 1020.6 877.1 1021.1 877.4 1021.5 882.8 1022.0 878.2 1022.4 877.4 1022.9 877.9 1023.3 877.7 1023.8 877.5 1024.3 877.3 1024.7 877.2 1025.2 878.1 1025.6 877.8 1026.1 876.9 1026.5 878.5 1027.0 876.6 1027.4 882.4 1027.9 877.5 1028.4 875.3 1028.8 876.9 1029.3 875.0 1029.7 878.2 1030.2 876.1 1030.6 876.5 1031.1 876.2 1031.5 877.1 1032.0 877.3 1032.4 875.6 1032.9 877.7 1033.4 877.4 1033.8 877.3 1034.3 876.6 1034.7 877.1 1035.2 875.4 1035.6 877.6 1036.1 877.6 1036.5 877.2 1037.0 876.1 1037.5 878.7 1037.9 878.6 1038.4 875.3 1038.8 877.8 1039.3 877.5 1039.7 874.6 1040.2 877.9 1040.6 878.0 1041.1 878.1 1041.5 877.5 1042.0 876.6 1042.5 876.8 1042.9 877.9 1043.4 878.6 1043.8 876.8 1044.3 877.0 1044.7 878.1 1045.2 875.0 1045.6 877.8 1046.1 877.1 1046.6 873.9 1047.0 878.2 1047.5 876.4 1047.9 878.2 1048.4 878.8 1048.8 876.0 1049.3 876.1 1049.7 877.3 1050.2 875.5 1050.6 878.1 1051.1 877.5 1051.6 878.4 1052.0 875.4 1052.5 877.6 1052.9 877.8 1053.4 875.4 1053.8 878.3 1054.3 875.9 1054.7 877.5 1055.2 875.9 1055.7 878.2 1056.1 879.2 1056.6 877.4 1057.0 877.4 1057.5 878.7 1057.9 876.9 1058.4 877.4 1058.8 878.2 1059.3 877.8 1059.7 879.1 1060.2 878.7 1060.7 879.4 1061.1 877.4 1061.6 878.6 1062.0 874.8 1062.5 878.4 1062.9 879.3 1063.4 879.9 1063.8 876.1 1064.3 877.2 1064.8 878.2 1065.2 876.5 1065.7 878.0 1066.1 878.0 1066.6 876.9 1067.0 876.8 1067.5 876.4 1067.9 877.8 1068.4 878.8 1068.8 877.7 1069.3 880.4 1069.8 875.8 1070.2 876.8 1070.7 878.1 1071.1 876.2 1071.6 877.4 1072.0 878.3 1072.5 877.6 1072.9 877.2 1073.4 878.4 1073.9 877.9 1074.3 878.2 1074.8 878.0 1075.2 876.7 1075.7 876.2 1076.1 877.0 1076.6 877.6 1077.0 877.2 1077.5 878.4 1077.9 877.7 1078.4 878.5 1078.9 877.5 1079.3 876.6 1079.8 878.3 1080.2 877.9 1080.7 873.8 1081.1 873.5 1081.6 880.4 1082.0 873.7 1082.5 878.6 1083.0 877.4 1083.4 877.3 1083.9 877.1 1084.3 876.8 1084.8 879.9 1085.2 876.9 1085.7 877.0 1086.1 878.2 1086.6 877.8 1087.0 877.2 1087.5 877.0 1088.0 875.9 1088.4 878.5 1088.9 876.2 1089.3 874.7 1089.8 878.5 1090.2 878.1 1090.7 877.7 1091.1 876.8 1091.6 878.6 1092.1 876.1 1092.5 874.9 1093.0 877.5 1093.4 878.2 1093.9 878.0 1094.3 879.6 1094.8 878.2 1095.2 877.0 1095.7 877.1 1096.1 878.3 1096.6 877.2 1097.1 877.1 1097.5 875.3 1098.0 876.9 1098.4 875.8 1098.9 877.5 1099.3 877.4 1099.8 878.0 1100.2 879.2 1100.7 877.0 1101.2 878.8 1101.6 876.0 1102.1 877.4 1102.5 878.3 1103.0 879.4 1103.4 876.0 1103.9 876.9 1104.3 877.4 1104.8 877.1 1105.2 876.2 1105.7 875.4 1106.2 875.8 1106.6 877.1 1107.1 875.7 1107.5 879.1 1108.0 878.5 1108.4 875.1 1108.9 876.6 1109.3 878.6 1109.8 878.7 1110.3 878.4 1110.7 875.5 1111.2 876.7 1111.6 878.5 1112.1 877.2 1112.5 876.6 1113.0 877.6 1113.4 878.1 1113.9 877.2 1114.3 877.3 1114.8 878.2 1115.3 876.4 1115.7 876.0 1116.2 877.8 1116.6 875.6 1117.1 877.4 1117.5 876.0 1118.0 877.7 1118.4 875.4 1118.9 877.9 1119.4 876.9 1119.8 876.2 1120.3 875.5 1120.7 876.1 1121.2 875.1 1121.6 874.7 1122.1 877.0 1122.5 876.2 1123.0 876.7 1123.4 873.6 1123.9 872.6 1124.4 872.6 1124.8 874.7 1125.3 873.2 1125.7 871.0 1126.2 873.7 1126.6 870.5 1127.1 870.2 1127.5 870.9 1128.0 871.1 1128.5 869.7 1128.9 869.3 1129.4 868.5 1129.8 867.8 1130.3 867.9 1130.7 867.0 1131.2 867.8 1131.6 867.0 1132.1 868.0 1132.5 866.8 1133.0 868.3 1133.5 867.6 1133.9 867.9 1134.4 868.9 1134.8 869.6 1135.3 869.6 1135.7 869.8 1136.2 872.9 1136.6 871.8 1137.1 870.5 1137.6 874.4 1138.0 874.7 1138.5 873.6 1138.9 874.6 1139.4 876.3 1139.8 873.7 1140.3 875.1 1140.7 874.2 1141.2 875.2 1141.6 876.0 1142.1 874.1 1142.6 875.9 1143.0 876.0 1143.5 877.1 1143.9 875.3 1144.4 874.7 1144.8 876.5 1145.3 874.9 1145.7 876.3 1146.2 876.8 1146.7 875.2 1147.1 876.0 1147.6 875.0 1148.0 875.2 1148.5 874.4 1148.9 873.7 1149.4 876.0 1149.8 874.7 1150.3 875.6 1150.7 875.6 1151.2 876.7 1151.7 874.9 1152.1 874.7 1152.6 875.5 1153.0 876.5 1153.5 874.4 1153.9 874.6 1154.4 873.8 1154.8 872.9 1155.3 871.6 1155.8 872.7 1156.2 872.0 1156.7 871.3 1157.1 872.9 1157.6 869.2 1158.0 868.5 1158.5 866.3 1158.9 864.8 1159.4 861.5 1159.8 859.3 1160.3 854.8 1160.8 851.2 1161.2 847.0 1161.7 842.0 1162.1 838.2 1162.6 834.1 1163.0 831.0 1163.5 829.5 1163.9 829.7 1164.4 831.2 1164.9 831.7 1165.3 834.1 1165.8 835.5 1166.2 837.8 1166.7 838.8 1167.1 840.6 1167.6 842.7 1168.0 844.3 1168.5 846.8 1168.9 851.7 1169.4 852.3 1169.9 854.8 1170.3 857.2 1170.8 859.9 1171.2 862.7 1171.7 864.0 1172.1 865.6 1172.6 867.7 1173.0 868.9 1173.5 869.9 1174.0 869.0 1174.4 868.9 1174.9 868.5 1175.3 869.8 1175.8 870.4 1176.2 871.8 1176.7 872.7 1177.1 870.6 1177.6 872.2 1178.0 869.9 1178.5 870.2 1179.0 870.1 1179.4 870.2 1179.9 871.1 1180.3 870.5 1180.8 870.6 1181.2 872.9 1181.7 869.8 1182.1 874.6 1182.6 871.1 1183.1 871.8 1183.5 871.9 1184.0 871.0 1184.4 870.8 1184.9 870.9 1185.3 872.1 1185.8 870.4 1186.2 868.9 1186.7 869.6 1187.1 870.4 1187.6 871.7 1188.1 873.4 1188.5 872.1 1189.0 874.1 1189.4 870.4 1189.9 872.5 1190.3 872.8 1190.8 873.3 1191.2 871.7 1191.7 872.8 1192.2 872.8 1192.6 872.9 1193.1 870.5 1193.5 871.0 1194.0 873.6 1194.4 873.4 1194.9 874.9 1195.3 873.8 1195.8 874.2 1196.2 871.7 1196.7 873.7 1197.2 874.3 1197.6 873.4 1198.1 872.5 1198.5 872.0 1199.0 868.9 1199.4 869.2 1199.9 870.0 1200.3 869.8 1200.8 868.1 1201.3 866.8 1201.7 867.2 1202.2 868.7 1202.6 870.7 1203.1 870.3 1203.5 869.9 1204.0 872.1 1204.4 872.8 1204.9 875.7 1205.3 874.4 1205.8 874.3 1206.3 874.6 1206.7 873.7 1207.2 874.2 1207.6 872.6 1208.1 874.8 1208.5 876.1 1209.0 876.2 1209.4 877.2 1209.9 878.0 1210.4 876.6 1210.8 876.3 1211.3 874.6 1211.7 877.2 1212.2 877.6 1212.6 876.2 1213.1 876.7 1213.5 876.5 1214.0 878.5 1214.4 878.2 1214.9 878.9 1215.4 876.3 1215.8 880.6 1216.3 876.7 1216.7 876.5 1217.2 877.9 1217.6 877.1 1218.1 879.7 1218.5 877.2 1219.0 877.0 1219.5 878.8 1219.9 879.1 1220.4 876.8 1220.8 877.2 1221.3 877.4 1221.7 877.6 1222.2 879.6 1222.6 881.0 1223.1 879.0 1223.5 879.2 1224.0 877.8 1224.5 878.8 1224.9 877.7 1225.4 877.0 1225.8 879.7 1226.3 875.9 1226.7 877.8 1227.2 877.2 1227.6 876.0 1228.1 877.4 1228.6 877.9 1229.0 878.4 1229.5 877.0 1229.9 878.7 1230.4 878.2 1230.8 878.8 1231.3 875.8 1231.7 877.4 1232.2 877.2 1232.6 878.5 1233.1 877.1 1233.6 877.4 1234.0 876.7 1234.5 876.6 1234.9 876.9 1235.4 879.0 1235.8 876.8 1236.3 875.3 1236.7 878.3 1237.2 877.5 1237.7 878.6 1238.1 878.6 1238.6 877.6 1239.0 877.5 1239.5 877.4 1239.9 878.0 1240.4 877.1 1240.8 878.2 1241.3 879.5 1241.7 877.3 1242.2 877.3 1242.7 877.3 1243.1 878.7 1243.6 878.8 1244.0 879.6 1244.5 878.8 1244.9 878.2 1245.4 878.6 1245.8 876.6 1246.3 878.7 1246.8 878.3 1247.2 880.4 1247.7 879.6 1248.1 875.0 1248.6 877.5 1249.0 879.1 1249.5 874.9 1249.9 875.3 1250.4 878.5 1250.8 878.9 1251.3 878.4 1251.8 879.4 1252.2 877.9 1252.7 878.3 1253.1 878.0 1253.6 877.0 1254.0 878.2 1254.5 877.6 1254.9 880.3 1255.4 875.3 1255.9 878.3 1256.3 877.6 1256.8 877.5 1257.2 878.3 1257.7 877.7 1258.1 879.3 1258.6 879.6 1259.0 879.2 1259.5 879.3 1259.9 878.7 1260.4 876.3 1260.9 876.9 1261.3 877.9 1261.8 879.6 1262.2 879.1 1262.7 877.8 1263.1 878.4 1263.6 879.5 1264.0 878.1 1264.5 880.1 1265.0 877.5 1265.4 879.2 1265.9 879.1 1266.3 878.5 1266.8 878.7 1267.2 879.0 1267.7 875.9 1268.1 878.9 1268.6 879.6 1269.0 878.8 1269.5 879.6 1270.0 877.1 1270.4 878.3 1270.9 878.8 1271.3 878.4 1271.8 879.7 1272.2 879.0 1272.7 877.9 1273.1 879.3 1273.6 879.3 1274.1 878.0 1274.5 879.1 1275.0 878.9 1275.4 878.8 1275.9 877.1 1276.3 879.9 1276.8 879.2 1277.2 878.4 1277.7 878.9 1278.1 878.9 1278.6 878.2 1279.1 877.9 1279.5 878.6 1280.0 877.9 1280.4 878.0 1280.9 877.2 1281.3 878.2 1281.8 879.6 1282.2 878.8 1282.7 878.6 1283.2 880.2 1283.6 878.1 1284.1 876.9 1284.5 880.4 1285.0 877.8 1285.4 876.9 1285.9 879.0 1286.3 878.9 1286.8 878.0 1287.2 877.0 1287.7 877.1 1288.2 880.3 1288.6 878.5 1289.1 877.9 1289.5 882.3 1290.0 878.0 1290.4 877.6 1290.9 879.2 1291.3 879.0 1291.8 880.4 1292.3 876.9 1292.7 879.0 1293.2 876.8 1293.6 879.2 1294.1 874.9 1294.5 878.1 1295.0 877.8 1295.4 879.6 1295.9 880.4 1296.3 878.6 1296.8 878.4 1297.3 878.1 1297.7 879.3 1298.2 877.5 1298.6 882.6 1299.1 878.4 1299.5 880.6 1300.0 880.4 1300.4 877.2 1300.9 877.0 1301.4 878.2 1301.8 877.9 1302.3 878.4 1302.7 877.4 1303.2 881.3 1303.6 881.1 1304.1 876.7 1304.5 879.2 1305.0 880.0 1305.4 878.3 1305.9 878.5 1306.4 879.9 1306.8 879.3 1307.3 877.4 1307.7 880.1 1308.2 878.2 1308.6 880.8 1309.1 877.7 1309.5 876.2 1310.0 878.8 1310.5 880.1 1310.9 879.3 1311.4 878.9 1311.8 877.7 1312.3 879.7 1312.7 876.7 1313.2 879.6 1313.6 877.4 1314.1 878.0 1314.5 877.2 1315.0 877.7 1315.5 880.3 1315.9 877.4 1316.4 878.9 1316.8 875.4 1317.3 879.8 1317.7 877.1 1318.2 878.6 1318.6 879.6 1319.1 881.1 1319.6 877.3 1320.0 877.6 1320.5 878.5 1320.9 880.2 1321.4 877.4 1321.8 879.4 1322.3 877.8 1322.7 877.3 1323.2 876.6 1323.6 878.5 1324.1 879.4 1324.6 878.2 1325.0 875.9 1325.5 877.6 1325.9 879.2 1326.4 879.1 1326.8 878.4 1327.3 879.6 1327.7 876.5 1328.2 876.4 1328.7 880.3 1329.1 878.3 1329.6 877.1 1330.0 876.6 1330.5 874.0 1330.9 877.5 1331.4 873.8 1331.8 873.4 1332.3 874.7 1332.7 875.4 1333.2 872.0 1333.7 871.1 1334.1 868.7 1334.6 866.7 1335.0 863.1 1335.5 861.9 1335.9 857.6 1336.4 855.5 1336.8 852.1 1337.3 854.5 1337.8 851.5 1338.2 852.8 1338.7 853.0 1339.1 855.5 1339.6 856.7 1340.0 858.3 1340.5 860.2 1340.9 860.0 1341.4 861.3 1341.8 862.2 1342.3 862.6 1342.8 863.0 1343.2 863.7 1343.7 864.5 1344.1 867.2 1344.6 868.0 1345.0 870.4 1345.5 871.0 1345.9 872.8 1346.4 873.9 1346.9 875.6 1347.3 875.2 1347.8 876.5 1348.2 876.2 1348.7 877.0 1349.1 877.8 1349.6 878.2 1350.0 877.0 1350.5 878.4 1350.9 878.2 1351.4 878.9 1351.9 878.4 1352.3 877.4 1352.8 879.3 1353.2 877.8 1353.7 879.0 1354.1 876.4 1354.6 879.3 1355.0 879.5 1355.5 877.8 1356.0 879.5 1356.4 878.5 1356.9 880.5 1357.3 879.7 1357.8 877.6 1358.2 878.8 1358.7 877.1 1359.1 878.7 1359.6 879.7 1360.0 880.0 1360.5 881.7 1361.0 878.9 1361.4 879.4 1361.9 878.5 1362.3 879.6 1362.8 880.5 1363.2 879.5 1363.7 880.2 1364.1 878.4 1364.6 878.7 1365.1 879.7 1365.5 881.3 1366.0 880.5 1366.4 881.3 1366.9 879.4 1367.3 880.8 1367.8 877.5 1368.2 880.0 1368.7 877.1 1369.1 880.8 1369.6 880.0 1370.1 877.9 1370.5 879.9 1371.0 878.9 1371.4 878.7 1371.9 879.7 1372.3 881.5 1372.8 883.3 1373.2 878.9 1373.7 878.9 1374.2 878.8 1374.6 879.3 1375.1 879.5 1375.5 879.4 1376.0 879.6 1376.4 877.8 1376.9 881.3 1377.3 879.9 1377.8 881.3 1378.2 880.0 1378.7 879.4 1379.2 879.7 1379.6 879.9 1380.1 879.9 1380.5 879.3 1381.0 881.8 1381.4 880.7 1381.9 879.1 1382.3 880.3 1382.8 878.8 1383.3 881.3 1383.7 878.6 1384.2 880.7 1384.6 879.8 1385.1 879.8 1385.5 878.9 1386.0 879.5 1386.4 878.9 1386.9 878.8 1387.3 880.3 1387.8 882.6 1388.3 879.4 1388.7 880.9 1389.2 879.8 1389.6 879.0 1390.1 881.3 1390.5 880.5 1391.0 881.1 1391.4 880.0 1391.9 880.0 1392.4 878.9 1392.8 879.6 1393.3 881.7 1393.7 877.3 1394.2 880.3 1394.6 881.5 1395.1 880.8 1395.5 878.4 1396.0 879.6 1396.4 881.2 1396.9 881.2 1397.4 879.9 1397.8 881.8 1398.3 879.4 1398.7 877.2 1399.2 879.9 1399.6 879.8 1400.1 879.0 1400.5 879.4 1401.0 879.4 1401.5 877.9 1401.9 881.3 1402.4 880.0 1402.8 882.9 1403.3 880.0 1403.7 880.4 1404.2 882.4 1404.6 881.1 1405.1 878.8 1405.5 880.6 1406.0 881.0 1406.5 880.8 1406.9 879.1 1407.4 879.1 1407.8 880.9 1408.3 881.3 1408.7 881.6 1409.2 880.0 1409.6 879.9 1410.1 882.0 1410.6 879.4 1411.0 880.9 1411.5 876.5 1411.9 878.4 1412.4 878.8 1412.8 880.5 1413.3 880.2 1413.7 880.5 1414.2 879.6 1414.6 879.4 1415.1 880.3 1415.6 879.8 1416.0 878.2 1416.5 879.5 1416.9 881.8 1417.4 879.1 1417.8 880.6 1418.3 879.8 1418.7 880.7 1419.2 879.0 1419.7 878.5 1420.1 880.4 1420.6 879.1 1421.0 879.9 1421.5 879.5 1421.9 880.9 1422.4 880.2 1422.8 880.0 1423.3 878.8 1423.7 878.1 1424.2 878.9 1424.7 880.8 1425.1 884.7 1425.6 880.5 1426.0 879.4 1426.5 878.7 1426.9 881.1 1427.4 880.0 1427.8 880.4 1428.3 878.7 1428.8 879.0 1429.2 880.5 1429.7 880.6 1430.1 878.6 1430.6 880.0 1431.0 878.4 1431.5 881.0 1431.9 880.4 1432.4 882.2 1432.8 881.3 1433.3 878.9 1433.8 879.9 1434.2 879.1 1434.7 879.8 1435.1 880.5 1435.6 879.6 1436.0 879.6 1436.5 876.9 1436.9 880.2 1437.4 879.5 1437.9 880.2 1438.3 880.6 1438.8 879.5 1439.2 880.2 1439.7 878.7 1440.1 880.4 1440.6 879.3 1441.0 878.7 1441.5 879.0 1441.9 877.7 1442.4 878.5 1442.9 878.7 1443.3 879.1 1443.8 878.9 1444.2 878.2 1444.7 878.7 1445.1 876.4 1445.6 878.7 1446.0 879.1 1446.5 879.1 1447.0 879.2 1447.4 877.5 1447.9 877.4 1448.3 876.6 1448.8 876.2 1449.2 876.4 1449.7 877.2 1450.1 866.9 1450.6 874.2 1451.0 874.5 1451.5 872.5 1452.0 873.6 1452.4 871.1 1452.9 871.9 1453.3 871.2 1453.8 871.8 1454.2 871.1 1454.7 871.6 1455.1 871.0 1455.6 870.6 1456.1 870.7 1456.5 870.8 1457.0 870.5 1457.4 870.0 1457.9 869.5 1458.3 869.1 1458.8 869.4 1459.2 867.5 1459.7 867.1 1460.1 865.4 1460.6 865.4 1461.1 864.2 1461.5 862.9 1462.0 861.9 1462.4 860.4 1462.9 859.9 1463.3 859.5 1463.8 858.5 1464.2 858.6 1464.7 858.9 1465.2 858.9 1465.6 859.3 1466.1 859.5 1466.5 860.8 1467.0 861.3 1467.4 862.6 1467.9 864.3 1468.3 861.1 1468.8 865.4 1469.2 866.7 1469.7 867.5 1470.2 869.4 1470.6 869.8 1471.1 871.6 1471.5 872.1 1472.0 873.1 1472.4 873.3 1472.9 875.0 1473.3 875.2 1473.8 876.8 1474.3 876.1 1474.7 877.2 1475.2 876.9 1475.6 877.1 1476.1 875.3 1476.5 877.2 1477.0 877.8 1477.4 876.2 1477.9 876.1 1478.3 877.4 1478.8 878.1 1479.3 876.0 1479.7 878.2 1480.2 879.0 1480.6 877.7 1481.1 878.2 1481.5 878.5 1482.0 877.3 1482.4 878.6 1482.9 878.4 1483.4 876.6 1483.8 878.4 1484.3 878.8 1484.7 876.6 1485.2 878.7 1485.6 877.4 1486.1 876.1 1486.5 876.4 1487.0 876.4 1487.4 877.9 1487.9 876.6 1488.4 876.5 1488.8 875.4 1489.3 876.5 1489.7 874.9 1490.2 875.1 1490.6 876.1 1491.1 875.6 1491.5 873.6 1492.0 873.2 1492.5 872.9 1492.9 871.1 1493.4 870.2 1493.8 868.6 1494.3 866.0 1494.7 863.4 1495.2 861.5 1495.6 859.7 1496.1 857.0 1496.5 854.3 1497.0 851.7 1497.5 848.7 1497.9 847.1 1498.4 846.0 1498.8 844.9 1499.3 845.1 1499.7 844.7 1500.2 845.5 1500.6 848.1 1501.1 848.8 1501.6 850.0 1502.0 851.6 1502.5 853.0 1502.9 854.3 1503.4 852.9 1503.8 855.0 1504.3 856.3 1504.7 856.2 1505.2 857.6 1505.6 859.8 1506.1 862.3 1506.6 863.5 1507.0 865.7 1507.5 866.5 1507.9 868.4 1508.4 870.0 1508.8 870.8 1509.3 871.7 1509.7 872.8 1510.2 869.5 1510.7 874.6 1511.1 872.8 1511.6 874.5 1512.0 876.6 1512.5 876.6 1512.9 874.2 1513.4 877.2 1513.8 877.7 1514.3 877.2 1514.7 877.9 1515.2 877.8 1515.7 875.4 1516.1 877.1 1516.6 877.1 1517.0 876.1 1517.5 877.4 1517.9 876.6 1518.4 877.4 1518.8 876.6 1519.3 878.7 1519.8 880.0 1520.2 876.9 1520.7 877.5 1521.1 877.5 1521.6 877.9 1522.0 877.2 1522.5 871.2 1522.9 877.6 1523.4 877.0 1523.8 875.8 1524.3 876.7 1524.8 876.2 1525.2 876.8 1525.7 876.0 1526.1 875.7 1526.6 875.8 1527.0 875.6 1527.5 874.9 1527.9 875.7 1528.4 874.0 1528.9 872.2 1529.3 874.1 1529.8 871.4 1530.2 871.0 1530.7 868.7 1531.1 868.1 1531.6 867.2 1532.0 865.5 1532.5 863.4 1532.9 861.5 1533.4 859.8 1533.9 858.2 1534.3 856.3 1534.8 854.8 1535.2 853.3 1535.7 852.2 1536.1 851.9 1536.6 850.5 1537.0 851.1 1537.5 851.3 1538.0 850.9 1538.4 851.4 1538.9 852.4 1539.3 853.1 1539.8 854.3 1540.2 853.8 1540.7 855.4 1541.1 856.9 1541.6 857.3 1542.0 859.0 1542.5 860.2 1543.0 860.1 1543.4 862.1 1543.9 862.9 1544.3 863.9 1544.8 865.1 1545.2 866.3 1545.7 867.2 1546.1 868.7 1546.6 870.2 1547.1 871.3 1547.5 871.3 1548.0 873.1 1548.4 873.8 1548.9 871.3 1549.3 875.3 1549.8 873.7 1550.2 874.2 1550.7 876.8 1551.1 878.1 1551.6 875.3 1552.1 875.8 1552.5 876.0 1553.0 876.6 1553.4 877.0 1553.9 876.6 1554.3 875.9 1554.8 879.7 1555.2 877.3 1555.7 877.9 1556.2 879.0 1556.6 877.7 1557.1 879.4 1557.5 879.1 1558.0 879.4 1558.4 877.9 1558.9 879.1 1559.3 876.7 1559.8 876.9 1560.2 878.6 1560.7 878.2 1561.2 880.0 1561.6 878.2 1562.1 876.6 1562.5 878.6 1563.0 878.2 1563.4 878.7 1563.9 877.3 1564.3 877.7 1564.8 878.6 1565.3 879.4 1565.7 879.0 1566.2 879.4 1566.6 876.9 1567.1 878.3 1567.5 878.8 1568.0 879.6 1568.4 878.8 1568.9 878.2 1569.3 878.4 1569.8 878.4 1570.3 876.9 1570.7 878.5 1571.2 879.3 1571.6 879.2 1572.1 876.4 1572.5 878.4 1573.0 876.8 1573.4 879.6 1573.9 879.0 1574.4 879.2 1574.8 877.6 1575.3 876.2 1575.7 877.2 1576.2 877.9 1576.6 876.7 1577.1 877.2 1577.5 880.2 1578.0 876.8 1578.4 878.8 1578.9 876.2 1579.4 878.5 1579.8 879.1 1580.3 878.7 1580.7 879.5 1581.2 880.1 1581.6 876.6 1582.1 878.4 1582.5 878.7 1583.0 878.5 1583.5 879.8 1583.9 878.4 1584.4 879.4 1584.8 879.3 1585.3 878.2 1585.7 878.6 1586.2 877.1 1586.6 878.3 1587.1 878.1 1587.5 877.8 1588.0 877.4 1588.5 878.9 1588.9 877.7 1589.4 880.4 1589.8 879.3 1590.3 878.6 1590.7 877.2 1591.2 878.8 1591.6 877.9 1592.1 877.8 1592.6 876.5 1593.0 878.3 1593.5 878.0 1593.9 877.2 1594.4 876.9 1594.8 877.3 1595.3 876.2 1595.7 877.0 1596.2 879.1 1596.6 876.8 1597.1 880.1 1597.6 876.0 1598.0 878.7 1598.5 878.7 1598.9 878.7 1599.4 878.0 1599.8 875.6 1600.3 878.7 1600.7 878.6 1601.2 877.4 1601.7 874.8 1602.1 878.5 1602.6 876.3 1603.0 877.0 1603.5 878.7 1603.9 878.8 1604.4 877.7 1604.8 876.7 1605.3 879.2 1605.7 878.5 1606.2 877.1 1606.7 876.2 1607.1 877.6 1607.6 875.7 1608.0 878.6 1608.5 877.8 1608.9 876.8 1609.4 877.6 1609.8 875.3 1610.3 877.1 1610.8 876.4 1611.2 875.4 1611.7 876.4 1612.1 877.5 1612.6 875.5 1613.0 876.9 1613.5 875.5 1613.9 877.3 1614.4 875.1 1614.8 877.8 1615.3 877.8 1615.8 877.9 1616.2 879.0 1616.7 877.2 1617.1 877.1 1617.6 877.6 1618.0 876.4 1618.5 874.8 1618.9 875.6 1619.4 875.6 1619.9 877.1 1620.3 876.2 1620.8 876.4 1621.2 877.5 1621.7 877.1 1622.1 879.1 1622.6 876.8 1623.0 879.4 1623.5 878.2 1623.9 876.3 1624.4 876.7 1624.9 877.9 1625.3 877.0 1625.8 877.5 1626.2 876.1 1626.7 876.4 1627.1 877.4 1627.6 876.1" fill="none" stroke="#f00" stroke-width="1.5" stroke-linejoin="round"/><path d="M150.2 521.4L150.7 521.8 151.1 521.4 151.6 520.3 152.0 521.8 152.5 521.5 152.9 520.8 153.4 521.6 153.8 521.4 154.3 521.4 154.8 521.2 155.2 521.5 155.7 520.6 156.1 521.0 156.6 520.8 157.0 521.6 157.5 521.2 157.9 520.9 158.4 520.6 158.8 521.0 159.3 521.2 159.8 521.0 160.2 522.0 160.7 521.8 161.1 519.2 161.6 519.8 162.0 521.0 162.5 520.8 162.9 521.3 163.4 521.3 163.9 522.6 164.3 520.3 164.8 520.9 165.2 522.6 165.7 521.6 166.1 521.6 166.6 520.8 167.0 520.0 167.5 521.2 167.9 521.2 168.4 520.2 168.9 520.6 169.3 521.1 169.8 520.4 170.2 521.0 170.7 521.2 171.1 521.1 171.6 520.7 172.0 521.5 172.5 521.7 173.0 521.3 173.4 520.5 173.9 521.6 174.3 520.7 174.8 521.7 175.2 520.3 175.7 521.7 176.1 521.1 176.6 520.2 177.0 520.8 177.5 521.1 178.0 521.3 178.4 520.4 178.9 520.3 179.3 521.2 179.8 520.7 180.2 521.2 180.7 521.6 181.1 519.9 181.6 521.2 182.1 521.9 182.5 520.8 183.0 520.5 183.4 521.6 183.9 521.2 184.3 521.7 184.8 520.8 185.2 520.0 185.7 520.9 186.1 520.7 186.6 521.6 187.1 521.1 187.5 519.9 188.0 520.2 188.4 521.6 188.9 521.5 189.3 520.5 189.8 521.0 190.2 521.3 190.7 521.3 191.2 521.6 191.6 521.2 192.1 520.9 192.5 520.8 193.0 521.7 193.4 519.4 193.9 520.9 194.3 521.0 194.8 519.9 195.2 521.2 195.7 520.5 196.2 521.5 196.6 520.8 197.1 521.4 197.5 521.7 198.0 521.1 198.4 520.2 198.9 519.8 199.3 522.0 199.8 520.7 200.3 520.3 200.7 520.8 201.2 520.5 201.6 521.2 202.1 520.5 202.5 520.3 203.0 519.5 203.4 518.3 203.9 517.6 204.3 516.8 204.8 514.5 205.3 510.2 205.7 509.2 206.2 512.1 206.6 516.7 207.1 516.7 207.5 518.1 208.0 520.2 208.4 519.6 208.9 520.1 209.4 520.3 209.8 521.0 210.3 520.4 210.7 520.9 211.2 520.6 211.6 520.2 212.1 520.6 212.5 520.1 213.0 520.7 213.4 519.9 213.9 519.8 214.4 521.5 214.8 520.2 215.3 519.9 215.7 520.0 216.2 518.9 216.6 518.6 217.1 518.5 217.5 518.0 218.0 516.6 218.5 517.7 218.9 516.7 219.4 516.5 219.8 517.0 220.3 517.8 220.7 519.7 221.2 518.2 221.6 519.6 222.1 518.4 222.5 520.2 223.0 521.1 223.5 520.5 223.9 520.4 224.4 521.1 224.8 521.5 225.3 521.5 225.7 522.5 226.2 521.2 226.6 520.7 227.1 521.0 227.6 521.1 228.0 521.2 228.5 521.2 228.9 521.3 229.4 520.0 229.8 521.8 230.3 520.8 230.7 520.4 231.2 521.7 231.6 522.2 232.1 521.6 232.6 521.4 233.0 520.6 233.5 523.3 233.9 521.9 234.4 520.5 234.8 520.7 235.3 521.4 235.7 520.2 236.2 521.4 236.7 521.0 237.1 522.2 237.6 522.0 238.0 519.4 238.5 521.4 238.9 520.2 239.4 522.1 239.8 521.5 240.3 521.7 240.7 520.6 241.2 522.7 241.7 522.8 242.1 520.6 242.6 521.6 243.0 520.9 243.5 521.4 243.9 520.5 244.4 522.7 244.8 520.7 245.3 521.2 245.8 521.8 246.2 521.0 246.7 521.3 247.1 521.0 247.6 521.4 248.0 520.6 248.5 521.1 248.9 521.3 249.4 521.2 249.8 521.5 250.3 521.3 250.8 522.0 251.2 521.3 251.7 521.4 252.1 521.0 252.6 521.1 253.0 520.6 253.5 521.9 253.9 520.7 254.4 521.0 254.9 521.8 255.3 521.8 255.8 521.2 256.2 520.1 256.7 521.8 257.1 521.7 257.6 520.6 258.0 522.1 258.5 521.1 258.9 520.8 259.4 521.6 259.9 521.4 260.3 521.7 260.8 520.5 261.2 522.9 261.7 521.2 262.1 520.5 262.6 522.0 263.0 521.4 263.5 521.8 264.0 521.4 264.4 521.6 264.9 521.8 265.3 521.1 265.8 522.1 266.2 521.3 266.7 521.0 267.1 521.7 267.6 522.0 268.0 521.5 268.5 521.1 269.0 522.1 269.4 520.4 269.9 520.9 270.3 521.7 270.8 520.7 271.2 521.7 271.7 521.7 272.1 522.3 272.6 521.1 273.1 521.3 273.5 521.9 274.0 520.0 274.4 523.9 274.9 521.2 275.3 521.2 275.8 522.3 276.2 521.7 276.7 520.5 277.1 522.2 277.6 522.3 278.1 521.4 278.5 521.6 279.0 522.1 279.4 521.1 279.9 522.1 280.3 521.9 280.8 521.3 281.2 520.8 281.7 521.6 282.2 521.2 282.6 522.5 283.1 521.9 283.5 522.4 284.0 521.9 284.4 522.0 284.9 521.3 285.3 522.3 285.8 523.1 286.2 521.6 286.7 521.4 287.2 521.7 287.6 521.5 288.1 521.4 288.5 522.0 289.0 521.7 289.4 522.9 289.9 521.9 290.3 522.1 290.8 522.5 291.3 521.7 291.7 522.9 292.2 521.4 292.6 521.3 293.1 521.6 293.5 521.8 294.0 520.9 294.4 521.9 294.9 520.7 295.3 522.9 295.8 521.9 296.3 521.5 296.7 521.3 297.2 521.7 297.6 521.8 298.1 521.2 298.5 521.3 299.0 521.8 299.4 521.6 299.9 522.6 300.4 522.8 300.8 522.0 301.3 522.3 301.7 521.0 302.2 522.4 302.6 522.0 303.1 522.3 303.5 523.1 304.0 520.4 304.4 522.2 304.9 521.2 305.4 522.4 305.8 521.1 306.3 521.7 306.7 522.2 307.2 522.5 307.6 522.1 308.1 521.5 308.5 521.7 309.0 522.7 309.5 522.1 309.9 520.9 310.4 522.7 310.8 522.4 311.3 522.7 311.7 521.8 312.2 522.7 312.6 521.3 313.1 522.5 313.5 521.8 314.0 522.6 314.5 522.8 314.9 519.2 315.4 522.1 315.8 522.1 316.3 523.0 316.7 522.6 317.2 521.3 317.6 522.5 318.1 522.7 318.6 523.6 319.0 521.0 319.5 521.8 319.9 523.1 320.4 521.2 320.8 521.3 321.3 522.5 321.7 522.9 322.2 521.7 322.6 522.6 323.1 522.3 323.6 523.2 324.0 522.2 324.5 522.9 324.9 521.6 325.4 522.1 325.8 522.1 326.3 523.0 326.7 523.7 327.2 521.7 327.7 522.7 328.1 522.7 328.6 522.1 329.0 522.0 329.5 522.1 329.9 521.0 330.4 522.3 330.8 522.3 331.3 521.5 331.7 522.6 332.2 521.1 332.7 521.5 333.1 521.3 333.6 522.7 334.0 519.6 334.5 520.4 334.9 519.9 335.4 519.0 335.8 519.4 336.3 518.3 336.8 518.1 337.2 521.0 337.7 520.3 338.1 521.4 338.6 521.1 339.0 522.8 339.5 522.8 339.9 521.7 340.4 522.9 340.8 522.4 341.3 522.2 341.8 522.3 342.2 522.2 342.7 522.8 343.1 522.6 343.6 522.1 344.0 523.1 344.5 521.9 344.9 522.6 345.4 522.7 345.9 523.4 346.3 522.0 346.8 523.6 347.2 522.5 347.7 522.3 348.1 521.9 348.6 522.8 349.0 522.5 349.5 521.6 349.9 521.6 350.4 522.0 350.9 522.0 351.3 523.2 351.8 523.4 352.2 523.1 352.7 522.7 353.1 522.2 353.6 522.5 354.0 523.1 354.5 524.0 355.0 523.1 355.4 522.3 355.9 517.8 356.3 522.1 356.8 521.9 357.2 522.4 357.7 522.6 358.1 523.8 358.6 522.5 359.0 523.5 359.5 523.7 360.0 522.6 360.4 523.6 360.9 523.0 361.3 522.2 361.8 522.7 362.2 522.5 362.7 522.4 363.1 522.4 363.6 522.6 364.1 522.8 364.5 521.9 365.0 522.5 365.4 521.5 365.9 522.7 366.3 523.0 366.8 522.6 367.2 522.7 367.7 522.9 368.1 522.0 368.6 522.3 369.1 522.7 369.5 523.0 370.0 522.5 370.4 524.0 370.9 522.0 371.3 522.7 371.8 522.7 372.2 521.6 372.7 520.9 373.2 520.5 373.6 521.2 374.1 521.7 374.5 521.0 375.0 520.8 375.4 520.3 375.9 520.9 376.3 519.0 376.8 520.8 377.2 520.7 377.7 519.9 378.2 522.6 378.6 520.3 379.1 520.7 379.5 520.8 380.0 522.6 380.4 521.3 380.9 522.6 381.3 522.6 381.8 522.5 382.3 521.5 382.7 522.1 383.2 523.7 383.6 521.7 384.1 522.0 384.5 522.5 385.0 523.2 385.4 522.9 385.9 523.2 386.3 522.0 386.8 523.4 387.3 523.1 387.7 521.6 388.2 526.4 388.6 524.3 389.1 522.2 389.5 522.8 390.0 523.7 390.4 521.7 390.9 521.4 391.4 521.9 391.8 522.4 392.3 522.4 392.7 523.2 393.2 523.0 393.6 521.9 394.1 523.2 394.5 524.1 395.0 523.7 395.4 523.5 395.9 522.8 396.4 523.5 396.8 522.2 397.3 523.4 397.7 522.8 398.2 523.6 398.6 523.2 399.1 522.1 399.5 522.9 400.0 523.7 400.5 522.1 400.9 522.5 401.4 522.3 401.8 521.8 402.3 523.5 402.7 523.8 403.2 523.4 403.6 523.0 404.1 522.8 404.5 523.1 405.0 522.4 405.5 523.5 405.9 523.6 406.4 523.5 406.8 522.5 407.3 522.9 407.7 522.8 408.2 524.1 408.6 523.0 409.1 521.6 409.6 523.2 410.0 524.2 410.5 523.4 410.9 523.5 411.4 522.9 411.8 521.5 412.3 521.6 412.7 522.0 413.2 522.8 413.6 523.1 414.1 523.4 414.6 522.7 415.0 523.6 415.5 522.7 415.9 522.4 416.4 523.5 416.8 522.3 417.3 521.0 417.7 522.2 418.2 523.0 418.7 520.8 419.1 522.7 419.6 522.7 420.0 521.9 420.5 521.9 420.9 522.6 421.4 522.5 421.8 523.8 422.3 523.2 422.7 521.8 423.2 522.3 423.7 523.4 424.1 524.2 424.6 523.2 425.0 523.1 425.5 524.2 425.9 522.9 426.4 522.6 426.8 521.9 427.3 522.5 427.8 524.4 428.2 521.8 428.7 522.8 429.1 521.8 429.6 522.9 430.0 523.4 430.5 522.6 430.9 523.3 431.4 523.3 431.8 523.1 432.3 524.0 432.8 522.7 433.2 522.5 433.7 522.2 434.1 522.1 434.6 523.0 435.0 522.4 435.5 524.6 435.9 523.9 436.4 522.5 436.9 522.3 437.3 523.7 437.8 521.2 438.2 522.2 438.7 523.1 439.1 521.8 439.6 522.1 440.0 522.1 440.5 522.8 440.9 522.3 441.4 522.5 441.9 522.6 442.3 522.1 442.8 522.8 443.2 521.4 443.7 520.8 444.1 520.5 444.6 520.5 445.0 521.1 445.5 522.1 446.0 521.4 446.4 520.6 446.9 520.1 447.3 520.3 447.8 520.1 448.2 519.7 448.7 518.8 449.1 519.1 449.6 519.7 450.0 516.9 450.5 517.6 451.0 515.5 451.4 516.1 451.9 514.6 452.3 512.6 452.8 511.0 453.2 508.4 453.7 503.3 454.1 496.7 454.6 486.2 455.1 471.6 455.5 454.3 456.0 433.2 456.4 414.1 456.9 405.1 457.3 407.5 457.8 416.3 458.2 425.8 458.7 433.1 459.1 442.7 459.6 454.9 460.1 469.6 460.5 482.0 461.0 493.1 461.4 500.5 461.9 506.3 462.3 509.5 462.8 512.2 463.2 514.5 463.7 513.7 464.2 515.9 464.6 518.2 465.1 518.5 465.5 519.4 466.0 518.9 466.4 520.0 466.9 519.4 467.3 519.2 467.8 519.2 468.2 520.3 468.7 520.5 469.2 520.6 469.6 518.7 470.1 519.9 470.5 521.0 471.0 521.7 471.4 521.2 471.9 521.1 472.3 520.1 472.8 523.2 473.3 521.1 473.7 523.1 474.2 523.1 474.6 522.2 475.1 521.7 475.5 522.2 476.0 521.4 476.4 522.4 476.9 522.2 477.3 522.6 477.8 522.9 478.3 523.5 478.7 522.0 479.2 523.1 479.6 521.8 480.1 521.7 480.5 521.9 481.0 521.7 481.4 523.1 481.9 523.1 482.4 523.3 482.8 522.4 483.3 522.6 483.7 522.0 484.2 521.6 484.6 522.8 485.1 522.7 485.5 521.7 486.0 522.9 486.4 521.3 486.9 522.3 487.4 522.0 487.8 522.1 488.3 521.7 488.7 523.1 489.2 522.9 489.6 523.3 490.1 522.6 490.5 521.6 491.0 522.2 491.5 521.6 491.9 522.8 492.4 523.3 492.8 522.7 493.3 522.0 493.7 522.2 494.2 522.6 494.6 521.4 495.1 522.5 495.5 522.5 496.0 522.0 496.5 522.1 496.9 522.5 497.4 521.8 497.8 521.8 498.3 522.9 498.7 522.5 499.2 523.5 499.6 521.6 500.1 521.0 500.6 522.9 501.0 522.9 501.5 521.7 501.9 521.2 502.4 522.1 502.8 520.9 503.3 521.9 503.7 520.6 504.2 521.9 504.6 520.6 505.1 521.9 505.6 523.0 506.0 521.8 506.5 522.4 506.9 521.4 507.4 521.2 507.8 520.7 508.3 521.2 508.7 521.6 509.2 522.7 509.7 520.7 510.1 521.3 510.6 521.4 511.0 522.2 511.5 522.4 511.9 520.5 512.4 520.0 512.8 519.4 513.3 521.3 513.7 520.0 514.2 519.2 514.7 519.1 515.1 516.6 515.6 515.9 516.0 515.6 516.5 511.3 516.9 505.5 517.4 497.6 517.8 490.0 518.3 485.3 518.8 485.7 519.2 492.1 519.7 498.7 520.1 504.1 520.6 506.4 521.0 505.8 521.5 501.5 521.9 492.7 522.4 476.8 522.8 454.4 523.3 429.1 523.8 414.1 524.2 419.5 524.7 436.8 525.1 450.8 525.6 455.3 526.0 455.7 526.5 461.4 526.9 474.2 527.4 488.4 527.9 499.7 528.3 506.9 528.8 511.9 529.2 514.8 529.7 516.4 530.1 516.0 530.6 518.1 531.0 517.8 531.5 518.8 531.9 519.4 532.4 518.8 532.9 520.8 533.3 520.1 533.8 520.8 534.2 520.9 534.7 521.5 535.1 521.5 535.6 519.7 536.0 520.9 536.5 519.4 537.0 520.7 537.4 521.5 537.9 521.7 538.3 522.0 538.8 520.9 539.2 521.4 539.7 521.3 540.1 522.1 540.6 522.4 541.0 521.0 541.5 524.0 542.0 521.3 542.4 521.1 542.9 521.8 543.3 521.9 543.8 521.8 544.2 520.9 544.7 522.4 545.1 521.4 545.6 522.5 546.1 522.4 546.5 520.5 547.0 520.7 547.4 520.7 547.9 521.6 548.3 521.4 548.8 521.6 549.2 520.8 549.7 521.7 550.1 522.3 550.6 520.4 551.1 521.2 551.5 521.5 552.0 521.2 552.4 521.3 552.9 522.5 553.3 522.1 553.8 521.8 554.2 520.6 554.7 522.7 555.2 521.3 555.6 520.7 556.1 520.8 556.5 520.6 557.0 522.4 557.4 521.0 557.9 520.9 558.3 519.2 558.8 521.2 559.2 519.9 559.7 519.7 560.2 520.9 560.6 519.8 561.1 520.9 561.5 520.9 562.0 518.2 562.4 519.8 562.9 518.7 563.3 519.6 563.8 520.1 564.3 518.4 564.7 520.4 565.2 518.7 565.6 517.9 566.1 518.4 566.5 518.8 567.0 517.0 567.4 517.6 567.9 516.3 568.3 517.7 568.8 516.5 569.3 515.7 569.7 516.1 570.2 514.4 570.6 514.0 571.1 513.8 571.5 512.3 572.0 511.7 572.4 510.2 572.9 508.5 573.4 507.0 573.8 505.1 574.3 502.5 574.7 499.5 575.2 496.0 575.6 491.3 576.1 485.9 576.5 478.1 577.0 467.3 577.4 451.2 577.9 430.2 578.4 399.7 578.8 359.0 579.3 308.9 579.7 253.6 580.2 206.8 580.6 188.0 581.1 201.0 581.5 229.2 582.0 254.3 582.5 270.7 582.9 285.9 583.4 309.1 583.8 342.0 584.3 378.6 584.7 410.9 585.2 436.5 585.6 456.6 586.1 470.1 586.5 481.0 587.0 488.2 587.5 493.7 587.9 498.4 588.4 501.4 588.8 504.5 589.3 506.1 589.7 508.3 590.2 509.6 590.6 511.2 591.1 512.3 591.6 513.0 592.0 514.4 592.5 514.6 592.9 515.0 593.4 516.9 593.8 517.5 594.3 517.7 594.7 517.9 595.2 519.7 595.6 517.6 596.1 518.2 596.6 518.3 597.0 519.9 597.5 519.7 597.9 520.5 598.4 520.7 598.8 520.0 599.3 519.8 599.7 519.8 600.2 522.2 600.7 521.5 601.1 521.4 601.6 520.8 602.0 521.1 602.5 521.1 602.9 521.2 603.4 519.8 603.8 521.6 604.3 521.4 604.7 522.0 605.2 522.0 605.7 522.5 606.1 522.0 606.6 522.6 607.0 520.4 607.5 521.4 607.9 523.5 608.4 521.5 608.8 522.2 609.3 522.9 609.8 521.9 610.2 523.0 610.7 521.6 611.1 521.3 611.6 521.7 612.0 521.5 612.5 522.7 612.9 522.6 613.4 523.1 613.8 522.1 614.3 524.7 614.8 522.9 615.2 522.9 615.7 523.3 616.1 522.9 616.6 522.6 617.0 523.1 617.5 523.8 617.9 523.6 618.4 523.8 618.9 522.8 619.3 522.7 619.8 524.6 620.2 523.1 620.7 523.6 621.1 523.8 621.6 524.4 622.0 522.4 622.5 523.1 622.9 523.1 623.4 523.3 623.9 521.8 624.3 523.5 624.8 521.5 625.2 523.8 625.7 524.0 626.1 524.1 626.6 522.8 627.0 524.4 627.5 523.1 628.0 522.9 628.4 523.1 628.9 523.2 629.3 523.9 629.8 524.4 630.2 522.4 630.7 523.5 631.1 524.5 631.6 524.0 632.0 524.2 632.5 522.8 633.0 524.5 633.4 522.7 633.9 523.9 634.3 524.6 634.8 524.9 635.2 523.7 635.7 523.8 636.1 522.5 636.6 522.3 637.1 523.1 637.5 521.9 638.0 521.4 638.4 520.1 638.9 520.9 639.3 521.0 639.8 519.8 640.2 520.1 640.7 521.7 641.1 521.0 641.6 521.0 642.1 520.9 642.5 521.7 643.0 522.4 643.4 523.9 643.9 522.9 644.3 524.9 644.8 523.2 645.2 523.8 645.7 524.1 646.2 524.2 646.6 523.9 647.1 524.5 647.5 525.0 648.0 523.5 648.4 524.6 648.9 524.7 649.3 524.5 649.8 525.4 650.2 524.5 650.7 524.7 651.2 525.0 651.6 525.5 652.1 524.8 652.5 526.1 653.0 524.4 653.4 526.0 653.9 524.5 654.3 525.0 654.8 525.4 655.3 526.6 655.7 525.8 656.2 524.9 656.6 526.1 657.1 525.1 657.5 524.7 658.0 525.6 658.4 525.4 658.9 526.0 659.3 525.0 659.8 525.6 660.3 525.8 660.7 525.6 661.2 525.4 661.6 525.0 662.1 526.1 662.5 525.6 663.0 525.9 663.4 525.3 663.9 525.6 664.4 524.9 664.8 525.7 665.3 526.2 665.7 525.7 666.2 526.3 666.6 525.9 667.1 526.7 667.5 525.6 668.0 524.6 668.4 526.6 668.9 525.7 669.4 525.1 669.8 526.3 670.3 526.0 670.7 526.2 671.2 525.7 671.6 526.1 672.1 526.1 672.5 527.2 673.0 525.5 673.5 526.0 673.9 526.3 674.4 524.8 674.8 524.9 675.3 527.6 675.7 524.9 676.2 526.5 676.6 525.5 677.1 525.6 677.5 524.8 678.0 525.6 678.5 526.8 678.9 525.3 679.4 526.7 679.8 526.5 680.3 527.7 680.7 526.0 681.2 527.2 681.6 526.9 682.1 526.1 682.6 525.2 683.0 527.4 683.5 525.4 683.9 526.0 684.4 527.0 684.8 527.1 685.3 525.8 685.7 526.3 686.2 526.2 686.6 527.2 687.1 528.1 687.6 525.1 688.0 527.0 688.5 524.4 688.9 526.4 689.4 525.6 689.8 527.8 690.3 526.6 690.7 525.9 691.2 526.1 691.7 526.1 692.1 526.6 692.6 526.4 693.0 526.9 693.5 527.6 693.9 527.0 694.4 525.6 694.8 525.4 695.3 526.0 695.7 527.3 696.2 526.3 696.7 526.1 697.1 526.6 697.6 525.6 698.0 525.8 698.5 526.9 698.9 526.4 699.4 526.3 699.8 526.8 700.3 526.2 700.8 526.1 701.2 526.3 701.7 527.0 702.1 526.7 702.6 525.8 703.0 526.4 703.5 527.1 703.9 528.0 704.4 525.9 704.8 526.9 705.3 526.5 705.8 527.3 706.2 527.0 706.7 527.7 707.1 527.1 707.6 526.3 708.0 526.3 708.5 527.0 708.9 527.0 709.4 528.4 709.9 527.9 710.3 525.9 710.8 527.0 711.2 525.8 711.7 525.6 712.1 527.3 712.6 527.2 713.0 526.1 713.5 527.9 713.9 526.1 714.4 526.0 714.9 527.3 715.3 527.0 715.8 526.7 716.2 526.8 716.7 527.0 717.1 526.7 717.6 526.7 718.0 525.5 718.5 525.9 719.0 527.3 719.4 526.4 719.9 527.3 720.3 527.8 720.8 526.7 721.2 527.1 721.7 528.4 722.1 527.4 722.6 528.2 723.0 528.0 723.5 527.5 724.0 526.9 724.4 526.4 724.9 526.2 725.3 527.3 725.8 527.3 726.2 526.9 726.7 527.6 727.1 526.6 727.6 527.8 728.1 527.0 728.5 527.0 729.0 527.0 729.4 527.0 729.9 528.8 730.3 525.9 730.8 527.2 731.2 527.9 731.7 527.6 732.1 526.9 732.6 528.3 733.1 526.3 733.5 526.2 734.0 527.5 734.4 526.1 734.9 525.4 735.3 527.7 735.8 527.7 736.2 527.6 736.7 526.8 737.2 527.3 737.6 526.5 738.1 528.4 738.5 527.7 739.0 527.7 739.4 525.8 739.9 527.7 740.3 528.2 740.8 528.0 741.2 527.8 741.7 527.2 742.2 527.0 742.6 527.6 743.1 527.5 743.5 527.4 744.0 527.0 744.4 528.4 744.9 526.4 745.3 527.2 745.8 526.9 746.3 528.0 746.7 528.3 747.2 528.2 747.6 527.8 748.1 526.3 748.5 528.8 749.0 527.7 749.4 527.2 749.9 527.3 750.3 527.1 750.8 527.6 751.3 527.6 751.7 527.1 752.2 525.6 752.6 527.3 753.1 527.7 753.5 527.7 754.0 527.3 754.4 527.7 754.9 528.1 755.4 527.1 755.8 528.4 756.3 526.0 756.7 526.5 757.2 526.8 757.6 525.7 758.1 526.7 758.5 528.3 759.0 528.3 759.4 527.5 759.9 528.7 760.4 527.6 760.8 527.1 761.3 527.7 761.7 527.4 762.2 528.0 762.6 526.5 763.1 528.2 763.5 527.2 764.0 528.1 764.5 526.5 764.9 527.2 765.4 527.6 765.8 528.2 766.3 526.7 766.7 528.7 767.2 527.9 767.6 527.2 768.1 528.4 768.5 527.7 769.0 528.4 769.5 529.2 769.9 528.1 770.4 527.2 770.8 527.3 771.3 528.0 771.7 527.8 772.2 527.1 772.6 527.2 773.1 528.1 773.6 529.3 774.0 525.8 774.5 528.2 774.9 527.5 775.4 528.2 775.8 528.3 776.3 527.7 776.7 527.0 777.2 526.7 777.6 526.4 778.1 528.6 778.6 527.6 779.0 527.4 779.5 527.5 779.9 526.8 780.4 528.0 780.8 528.7 781.3 528.6 781.7 526.7 782.2 528.7 782.7 527.3 783.1 526.5 783.6 526.9 784.0 527.1 784.5 527.8 784.9 527.1 785.4 526.8 785.8 527.6 786.3 529.2 786.7 527.4 787.2 528.2 787.7 527.9 788.1 529.7 788.6 526.5 789.0 528.6 789.5 527.0 789.9 527.5 790.4 527.8 790.8 530.1 791.3 527.4 791.8 526.6 792.2 528.8 792.7 527.3 793.1 527.8 793.6 527.9 794.0 528.0 794.5 527.8 794.9 528.1 795.4 528.2 795.8 528.6 796.3 527.7 796.8 527.5 797.2 527.2 797.7 528.4 798.1 528.0 798.6 528.4 799.0 528.4 799.5 529.2 799.9 528.2 800.4 528.5 800.9 527.2 801.3 527.3 801.8 527.8 802.2 527.2 802.7 528.5 803.1 527.1 803.6 528.1 804.0 526.3 804.5 527.3 804.9 527.8 805.4 527.9 805.9 526.8 806.3 528.2 806.8 528.8 807.2 528.5 807.7 527.6 808.1 527.7 808.6 527.3 809.0 528.5 809.5 529.1 810.0 527.7 810.4 526.8 810.9 528.1 811.3 528.4 811.8 526.0 812.2 527.9 812.7 529.2 813.1 528.2 813.6 528.8 814.0 527.6 814.5 527.9 815.0 526.3 815.4 526.3 815.9 527.0 816.3 526.2 816.8 526.9 817.2 525.4 817.7 527.4 818.1 527.6 818.6 527.2 819.1 527.4 819.5 528.6 820.0 526.9 820.4 527.1 820.9 527.1 821.3 527.7 821.8 527.4 822.2 528.2 822.7 527.7 823.1 527.2 823.6 527.2 824.1 529.1 824.5 528.3 825.0 528.2 825.4 528.4 825.9 528.3 826.3 528.9 826.8 528.8 827.2 528.0 827.7 527.8 828.2 527.6 828.6 527.5 829.1 529.4 829.5 527.8 830.0 527.0 830.4 527.8 830.9 527.9 831.3 528.7 831.8 527.8 832.2 528.8 832.7 528.7 833.2 529.4 833.6 530.0 834.1 530.5 834.5 529.4 835.0 527.7 835.4 528.2 835.9 528.7 836.3 530.0 836.8 529.0 837.3 529.4 837.7 528.4 838.2 529.0 838.6 529.1 839.1 528.2 839.5 529.1 840.0 529.3 840.4 528.5 840.9 529.3 841.3 529.7 841.8 528.6 842.3 528.6 842.7 528.4 843.2 528.2 843.6 528.7 844.1 527.3 844.5 528.4 845.0 528.1 845.4 527.6 845.9 528.0 846.4 528.9 846.8 527.8 847.3 528.2 847.7 529.8 848.2 529.5 848.6 528.2 849.1 529.1 849.5 528.2 850.0 532.5 850.4 525.9 850.9 528.8 851.4 529.7 851.8 528.1 852.3 529.6 852.7 528.2 853.2 528.9 853.6 528.5 854.1 528.7 854.5 528.9 855.0 528.7 855.5 528.1 855.9 529.4 856.4 529.3 856.8 529.7 857.3 529.8 857.7 527.9 858.2 529.7 858.6 529.7 859.1 528.4 859.5 529.5 860.0 529.8 860.5 528.4 860.9 527.9 861.4 528.6 861.8 530.8 862.3 529.0 862.7 528.0 863.2 528.7 863.6 528.2 864.1 528.6 864.6 528.9 865.0 527.1 865.5 529.1 865.9 529.9 866.4 528.7 866.8 528.6 867.3 529.7 867.7 528.0 868.2 528.0 868.6 527.9 869.1 528.8 869.6 529.2 870.0 528.8 870.5 529.3 870.9 529.5 871.4 529.3 871.8 528.3 872.3 528.7 872.7 529.8 873.2 528.2 873.7 528.7 874.1 528.6 874.6 528.8 875.0 528.2 875.5 528.0 875.9 530.7 876.4 529.6 876.8 528.4 877.3 528.9 877.7 529.4 878.2 528.6 878.7 529.3 879.1 528.4 879.6 528.6 880.0 528.8 880.5 528.5 880.9 527.1 881.4 528.8 881.8 529.0 882.3 529.1 882.8 528.1 883.2 529.0 883.7 528.9 884.1 527.4 884.6 527.1 885.0 528.9 885.5 527.9 885.9 529.2 886.4 529.9 886.8 528.0 887.3 527.8 887.8 528.2 888.2 528.5 888.7 527.1 889.1 528.7 889.6 528.3 890.0 527.8 890.5 526.6 890.9 527.2 891.4 526.6 891.9 524.3 892.3 525.3 892.8 522.0 893.2 520.0 893.7 516.8 894.1 513.5 894.6 509.8 895.0 505.5 895.5 502.5 895.9 501.9 896.4 502.5 896.9 504.8 897.3 507.2 897.8 509.1 898.2 510.6 898.7 510.7 899.1 511.8 899.6 512.8 900.0 515.1 900.5 517.7 901.0 519.4 901.4 521.9 901.9 522.8 902.3 523.5 902.8 524.8 903.2 525.3 903.7 526.4 904.1 527.3 904.6 528.6 905.0 528.5 905.5 528.5 906.0 528.0 906.4 527.9 906.9 528.6 907.3 528.8 907.8 528.9 908.2 529.1 908.7 528.8 909.1 527.6 909.6 528.2 910.1 528.5 910.5 530.3 911.0 528.8 911.4 529.6 911.9 530.2 912.3 529.5 912.8 529.0 913.2 529.1 913.7 528.6 914.1 529.5 914.6 530.1 915.1 529.8 915.5 529.9 916.0 529.9 916.4 530.8 916.9 529.0 917.3 529.6 917.8 530.0 918.2 530.4 918.7 527.8 919.2 529.2 919.6 529.4 920.1 528.8 920.5 530.2 921.0 529.7 921.4 529.3 921.9 528.5 922.3 528.7 922.8 528.9 923.2 530.0 923.7 528.8 924.2 528.2 924.6 528.7 925.1 529.3 925.5 530.9 926.0 531.5 926.4 529.4 926.9 530.4 927.3 530.7 927.8 530.6 928.3 529.7 928.7 528.8 929.2 529.4 929.6 528.5 930.1 530.0 930.5 530.3 931.0 528.5 931.4 529.8 931.9 530.0 932.3 530.7 932.8 530.8 933.3 530.4 933.7 529.4 934.2 529.6 934.6 530.7 935.1 529.4 935.5 529.9 936.0 531.0 936.4 530.0 936.9 528.9 937.4 529.7 937.8 530.4 938.3 529.8 938.7 530.7 939.2 530.8 939.6 529.5 940.1 529.6 940.5 529.9 941.0 529.1 941.4 530.2 941.9 529.9 942.4 530.5 942.8 529.6 943.3 529.4 943.7 531.3 944.2 529.4 944.6 529.6 945.1 529.5 945.5 529.8 946.0 529.4 946.5 530.0 946.9 529.6 947.4 529.8 947.8 530.3 948.3 530.6 948.7 530.4 949.2 529.6 949.6 530.4 950.1 530.0 950.5 530.0 951.0 528.9 951.5 530.6 951.9 530.0 952.4 531.3 952.8 530.6 953.3 529.4 953.7 529.2 954.2 531.0 954.6 529.6 955.1 530.7 955.6 530.0 956.0 531.7 956.5 530.3 956.9 531.3 957.4 531.2 957.8 529.9 958.3 530.0 958.7 531.3 959.2 530.3 959.6 529.7 960.1 531.1 960.6 532.1 961.0 530.2 961.5 531.3 961.9 530.2 962.4 531.2 962.8 530.1 963.3 531.2 963.7 530.7 964.2 530.2 964.7 530.5 965.1 529.9 965.6 529.5 966.0 529.6 966.5 530.3 966.9 529.6 967.4 530.6 967.8 530.7 968.3 530.7 968.7 530.0 969.2 530.4 969.7 530.3 970.1 531.3 970.6 529.8 971.0 530.1 971.5 530.2 971.9 530.2 972.4 529.8 972.8 529.9 973.3 531.1 973.8 529.9 974.2 531.0 974.7 531.8 975.1 531.2 975.6 529.1 976.0 530.9 976.5 530.7 976.9 530.7 977.4 529.2 977.8 530.9 978.3 529.6 978.8 531.3 979.2 531.1 979.7 532.1 980.1 530.1 980.6 529.3 981.0 531.1 981.5 531.0 981.9 530.1 982.4 531.3 982.9 530.8 983.3 529.5 983.8 530.1 984.2 530.1 984.7 530.3 985.1 530.5 985.6 529.9 986.0 530.2 986.5 530.8 986.9 530.3 987.4 531.6 987.9 530.2 988.3 530.3 988.8 529.0 989.2 530.5 989.7 529.7 990.1 530.4 990.6 529.3 991.0 531.0 991.5 530.5 992.0 529.4 992.4 530.5 992.9 529.8 993.3 531.6 993.8 530.7 994.2 529.8 994.7 530.5 995.1 530.4 995.6 531.2 996.0 530.6 996.5 530.8 997.0 529.6 997.4 530.9 997.9 531.9 998.3 530.8 998.8 530.4 999.2 530.5 999.7 529.7 1000.1 530.5 1000.6 529.6 1001.1 530.4 1001.5 530.1 1002.0 529.8 1002.4 530.8 1002.9 529.4 1003.3 530.4 1003.8 529.5 1004.2 531.7 1004.7 531.8 1005.1 531.0 1005.6 531.7 1006.1 530.8 1006.5 530.8 1007.0 530.1 1007.4 529.8 1007.9 530.5 1008.3 530.0 1008.8 530.1 1009.2 530.9 1009.7 530.3 1010.2 529.3 1010.6 530.3 1011.1 529.9 1011.5 530.2 1012.0 529.7 1012.4 531.3 1012.9 531.8 1013.3 529.6 1013.8 530.9 1014.2 530.8 1014.7 529.7 1015.2 530.5 1015.6 531.4 1016.1 531.0 1016.5 531.6 1017.0 529.6 1017.4 529.9 1017.9 530.6 1018.3 530.7 1018.8 530.5 1019.3 530.2 1019.7 530.1 1020.2 530.0 1020.6 530.8 1021.1 528.5 1021.5 531.6 1022.0 530.1 1022.4 529.4 1022.9 530.8 1023.3 529.5 1023.8 530.7 1024.3 530.2 1024.7 530.9 1025.2 531.0 1025.6 531.3 1026.1 530.1 1026.5 530.2 1027.0 530.4 1027.4 529.4 1027.9 530.9 1028.4 530.5 1028.8 529.5 1029.3 531.3 1029.7 531.4 1030.2 529.5 1030.6 530.8 1031.1 531.3 1031.5 531.0 1032.0 529.8 1032.4 529.5 1032.9 530.4 1033.4 530.1 1033.8 530.4 1034.3 530.4 1034.7 530.8 1035.2 530.1 1035.6 530.3 1036.1 532.5 1036.5 530.4 1037.0 531.0 1037.5 530.7 1037.9 530.6 1038.4 529.8 1038.8 530.8 1039.3 530.4 1039.7 531.0 1040.2 531.9 1040.6 530.6 1041.1 531.0 1041.5 529.7 1042.0 530.5 1042.5 531.5 1042.9 530.4 1043.4 530.0 1043.8 530.6 1044.3 530.3 1044.7 530.3 1045.2 530.2 1045.6 531.9 1046.1 529.9 1046.6 530.2 1047.0 530.1 1047.5 531.3 1047.9 530.3 1048.4 531.4 1048.8 530.6 1049.3 530.4 1049.7 529.4 1050.2 531.3 1050.6 531.2 1051.1 530.8 1051.6 530.4 1052.0 530.2 1052.5 529.6 1052.9 531.1 1053.4 530.7 1053.8 530.2 1054.3 530.0 1054.7 530.6 1055.2 530.4 1055.7 531.6 1056.1 531.0 1056.6 530.1 1057.0 529.7 1057.5 530.3 1057.9 529.8 1058.4 530.5 1058.8 530.8 1059.3 530.9 1059.7 530.8 1060.2 530.4 1060.7 530.9 1061.1 529.9 1061.6 530.4 1062.0 531.1 1062.5 530.7 1062.9 529.6 1063.4 529.7 1063.8 529.4 1064.3 531.8 1064.8 529.4 1065.2 530.4 1065.7 531.8 1066.1 531.3 1066.6 531.4 1067.0 530.2 1067.5 531.0 1067.9 532.6 1068.4 530.5 1068.8 530.8 1069.3 528.4 1069.8 530.5 1070.2 530.8 1070.7 531.5 1071.1 529.9 1071.6 529.5 1072.0 530.5 1072.5 530.7 1072.9 531.5 1073.4 531.0 1073.9 530.1 1074.3 530.9 1074.8 531.3 1075.2 530.7 1075.7 530.3 1076.1 531.0 1076.6 530.3 1077.0 529.2 1077.5 531.5 1077.9 529.6 1078.4 530.3 1078.9 530.3 1079.3 530.3 1079.8 530.3 1080.2 529.5 1080.7 530.9 1081.1 530.5 1081.6 530.6 1082.0 531.3 1082.5 531.3 1083.0 531.5 1083.4 531.8 1083.9 530.8 1084.3 529.4 1084.8 530.7 1085.2 530.5 1085.7 530.6 1086.1 530.1 1086.6 529.9 1087.0 531.1 1087.5 531.2 1088.0 529.7 1088.4 530.9 1088.9 530.4 1089.3 530.3 1089.8 531.0 1090.2 530.5 1090.7 530.1 1091.1 530.6 1091.6 529.1 1092.1 530.1 1092.5 530.2 1093.0 529.6 1093.4 530.7 1093.9 530.7 1094.3 530.1 1094.8 530.4 1095.2 531.0 1095.7 531.3 1096.1 530.0 1096.6 530.8 1097.1 531.3 1097.5 530.5 1098.0 530.0 1098.4 530.0 1098.9 530.3 1099.3 529.8 1099.8 531.9 1100.2 530.1 1100.7 530.8 1101.2 530.7 1101.6 531.0 1102.1 530.3 1102.5 529.6 1103.0 531.7 1103.4 530.5 1103.9 530.6 1104.3 530.7 1104.8 531.4 1105.2 531.1 1105.7 531.3 1106.2 531.1 1106.6 530.6 1107.1 530.7 1107.5 530.0 1108.0 529.2 1108.4 531.8 1108.9 529.8 1109.3 532.3 1109.8 531.6 1110.3 531.3 1110.7 530.1 1111.2 532.0 1111.6 529.3 1112.1 529.7 1112.5 530.0 1113.0 529.9 1113.4 530.6 1113.9 530.7 1114.3 531.9 1114.8 531.2 1115.3 531.4 1115.7 530.8 1116.2 530.4 1116.6 530.0 1117.1 529.5 1117.5 529.9 1118.0 530.3 1118.4 531.1 1118.9 529.3 1119.4 529.6 1119.8 530.7 1120.3 529.8 1120.7 530.7 1121.2 530.2 1121.6 530.0 1122.1 529.6 1122.5 530.4 1123.0 530.0 1123.4 530.1 1123.9 530.1 1124.4 530.6 1124.8 530.6 1125.3 529.3 1125.7 530.4 1126.2 530.8 1126.6 531.2 1127.1 531.0 1127.5 530.6 1128.0 529.7 1128.5 529.9 1128.9 531.1 1129.4 530.0 1129.8 531.2 1130.3 531.4 1130.7 529.7 1131.2 530.8 1131.6 530.4 1132.1 534.1 1132.5 531.0 1133.0 530.1 1133.5 530.7 1133.9 529.8 1134.4 530.3 1134.8 530.6 1135.3 530.5 1135.7 530.6 1136.2 529.8 1136.6 529.1 1137.1 530.1 1137.6 529.8 1138.0 529.9 1138.5 531.9 1138.9 531.2 1139.4 530.2 1139.8 529.3 1140.3 529.4 1140.7 530.6 1141.2 531.1 1141.6 530.1 1142.1 530.4 1142.6 530.4 1143.0 531.0 1143.5 528.9 1143.9 530.3 1144.4 530.5 1144.8 530.8 1145.3 530.4 1145.7 529.4 1146.2 529.7 1146.7 529.0 1147.1 530.2 1147.6 530.1 1148.0 530.3 1148.5 529.3 1148.9 529.1 1149.4 530.9 1149.8 529.9 1150.3 531.0 1150.7 527.1 1151.2 528.6 1151.7 530.1 1152.1 530.3 1152.6 529.0 1153.0 527.9 1153.5 529.6 1153.9 528.9 1154.4 529.0 1154.8 526.8 1155.3 528.8 1155.8 526.3 1156.2 527.3 1156.7 528.2 1157.1 525.9 1157.6 525.3 1158.0 525.5 1158.5 526.0 1158.9 524.6 1159.4 521.4 1159.8 519.4 1160.3 516.1 1160.8 512.0 1161.2 507.4 1161.7 501.9 1162.1 496.9 1162.6 492.2 1163.0 489.5 1163.5 488.1 1163.9 488.5 1164.4 491.9 1164.9 495.8 1165.3 498.9 1165.8 500.7 1166.2 502.7 1166.7 503.3 1167.1 504.6 1167.6 504.2 1168.0 505.7 1168.5 508.1 1168.9 510.7 1169.4 513.3 1169.9 516.3 1170.3 519.0 1170.8 521.4 1171.2 522.9 1171.7 524.4 1172.1 525.1 1172.6 527.3 1173.0 527.8 1173.5 528.4 1174.0 528.0 1174.4 528.7 1174.9 528.0 1175.3 528.1 1175.8 528.6 1176.2 529.5 1176.7 529.2 1177.1 528.6 1177.6 529.5 1178.0 529.9 1178.5 529.8 1179.0 529.2 1179.4 529.8 1179.9 529.5 1180.3 529.7 1180.8 529.9 1181.2 530.5 1181.7 531.3 1182.1 531.2 1182.6 530.5 1183.1 529.8 1183.5 529.9 1184.0 530.0 1184.4 531.0 1184.9 528.3 1185.3 530.4 1185.8 528.9 1186.2 530.3 1186.7 531.2 1187.1 529.7 1187.6 528.7 1188.1 531.3 1188.5 531.4 1189.0 530.7 1189.4 531.3 1189.9 529.8 1190.3 531.2 1190.8 531.6 1191.2 530.9 1191.7 530.6 1192.2 531.3 1192.6 531.2 1193.1 529.9 1193.5 531.3 1194.0 530.9 1194.4 530.5 1194.9 531.2 1195.3 530.9 1195.8 530.7 1196.2 529.8 1196.7 530.6 1197.2 529.1 1197.6 529.7 1198.1 528.4 1198.5 528.3 1199.0 529.6 1199.4 529.1 1199.9 529.1 1200.3 529.3 1200.8 529.1 1201.3 528.2 1201.7 528.9 1202.2 528.8 1202.6 528.6 1203.1 529.0 1203.5 529.0 1204.0 529.0 1204.4 529.3 1204.9 529.9 1205.3 531.3 1205.8 529.5 1206.3 530.5 1206.7 529.2 1207.2 531.4 1207.6 530.2 1208.1 530.6 1208.5 531.4 1209.0 531.2 1209.4 529.5 1209.9 531.0 1210.4 530.4 1210.8 531.1 1211.3 530.7 1211.7 531.2 1212.2 530.9 1212.6 530.6 1213.1 531.5 1213.5 529.6 1214.0 530.4 1214.4 530.0 1214.9 530.6 1215.4 530.4 1215.8 530.6 1216.3 530.4 1216.7 530.4 1217.2 529.6 1217.6 530.7 1218.1 530.9 1218.5 530.3 1219.0 530.3 1219.5 530.3 1219.9 531.9 1220.4 530.9 1220.8 531.0 1221.3 530.5 1221.7 530.4 1222.2 530.1 1222.6 531.8 1223.1 529.5 1223.5 531.0 1224.0 530.7 1224.5 530.6 1224.9 529.7 1225.4 529.9 1225.8 531.4 1226.3 530.3 1226.7 531.1 1227.2 531.2 1227.6 531.2 1228.1 531.3 1228.6 529.9 1229.0 530.4 1229.5 531.2 1229.9 529.9 1230.4 531.9 1230.8 530.4 1231.3 530.7 1231.7 530.1 1232.2 531.0 1232.6 530.3 1233.1 530.6 1233.6 530.0 1234.0 531.6 1234.5 529.6 1234.9 531.1 1235.4 531.0 1235.8 531.1 1236.3 530.1 1236.7 531.5 1237.2 531.5 1237.7 530.9 1238.1 531.0 1238.6 530.7 1239.0 531.2 1239.5 530.2 1239.9 531.2 1240.4 531.1 1240.8 529.8 1241.3 529.0 1241.7 530.7 1242.2 530.7 1242.7 531.7 1243.1 530.8 1243.6 530.5 1244.0 529.9 1244.5 530.8 1244.9 530.4 1245.4 530.0 1245.8 530.7 1246.3 531.6 1246.8 530.9 1247.2 530.1 1247.7 531.1 1248.1 530.1 1248.6 529.7 1249.0 531.2 1249.5 530.4 1249.9 531.6 1250.4 531.0 1250.8 530.3 1251.3 531.0 1251.8 531.7 1252.2 530.7 1252.7 530.1 1253.1 530.4 1253.6 530.3 1254.0 530.0 1254.5 529.9 1254.9 531.1 1255.4 531.6 1255.9 530.6 1256.3 531.4 1256.8 531.5 1257.2 532.0 1257.7 530.7 1258.1 530.6 1258.6 531.1 1259.0 530.9 1259.5 531.1 1259.9 531.8 1260.4 530.5 1260.9 531.0 1261.3 530.2 1261.8 530.7 1262.2 530.4 1262.7 530.3 1263.1 530.7 1263.6 530.5 1264.0 531.1 1264.5 531.4 1265.0 529.8 1265.4 531.6 1265.9 529.3 1266.3 531.0 1266.8 531.3 1267.2 530.4 1267.7 530.7 1268.1 530.3 1268.6 531.5 1269.0 528.6 1269.5 530.2 1270.0 529.5 1270.4 531.0 1270.9 531.8 1271.3 531.7 1271.8 531.3 1272.2 531.0 1272.7 530.3 1273.1 531.7 1273.6 531.3 1274.1 530.3 1274.5 530.0 1275.0 530.4 1275.4 531.6 1275.9 531.7 1276.3 532.0 1276.8 530.3 1277.2 530.6 1277.7 531.8 1278.1 531.0 1278.6 531.4 1279.1 529.9 1279.5 530.6 1280.0 530.8 1280.4 530.6 1280.9 530.6 1281.3 529.7 1281.8 532.0 1282.2 531.0 1282.7 529.8 1283.2 531.6 1283.6 530.9 1284.1 531.4 1284.5 530.7 1285.0 530.6 1285.4 530.3 1285.9 531.1 1286.3 531.4 1286.8 531.2 1287.2 531.3 1287.7 531.7 1288.2 531.1 1288.6 531.6 1289.1 531.6 1289.5 531.1 1290.0 530.8 1290.4 530.6 1290.9 530.0 1291.3 529.8 1291.8 531.8 1292.3 530.9 1292.7 530.5 1293.2 532.0 1293.6 531.6 1294.1 530.9 1294.5 531.6 1295.0 530.7 1295.4 531.1 1295.9 532.1 1296.3 531.6 1296.8 530.7 1297.3 531.4 1297.7 531.7 1298.2 530.8 1298.6 530.6 1299.1 532.2 1299.5 530.7 1300.0 530.0 1300.4 531.0 1300.9 532.5 1301.4 531.3 1301.8 531.6 1302.3 529.4 1302.7 530.5 1303.2 531.7 1303.6 530.6 1304.1 531.8 1304.5 531.2 1305.0 531.2 1305.4 532.1 1305.9 530.5 1306.4 530.6 1306.8 531.0 1307.3 531.0 1307.7 529.7 1308.2 531.8 1308.6 531.0 1309.1 530.8 1309.5 531.3 1310.0 530.6 1310.5 531.7 1310.9 530.9 1311.4 531.4 1311.8 530.2 1312.3 530.7 1312.7 531.1 1313.2 530.2 1313.6 530.4 1314.1 530.8 1314.5 531.6 1315.0 531.4 1315.5 531.4 1315.9 531.0 1316.4 531.4 1316.8 531.9 1317.3 530.9 1317.7 531.1 1318.2 531.2 1318.6 529.4 1319.1 530.7 1319.6 531.0 1320.0 531.2 1320.5 530.5 1320.9 531.4 1321.4 530.2 1321.8 530.5 1322.3 531.8 1322.7 529.7 1323.2 530.5 1323.6 530.5 1324.1 530.5 1324.6 530.1 1325.0 530.9 1325.5 529.7 1325.9 529.5 1326.4 530.7 1326.8 529.5 1327.3 530.5 1327.7 530.2 1328.2 529.7 1328.7 529.8 1329.1 529.9 1329.6 530.2 1330.0 529.4 1330.5 529.5 1330.9 528.5 1331.4 529.2 1331.8 527.8 1332.3 528.9 1332.7 528.3 1333.2 529.7 1333.7 528.6 1334.1 526.9 1334.6 526.7 1335.0 524.8 1335.5 522.5 1335.9 519.7 1336.4 517.8 1336.8 514.2 1337.3 509.8 1337.8 506.8 1338.2 504.0 1338.7 502.2 1339.1 503.2 1339.6 504.6 1340.0 507.8 1340.5 510.8 1340.9 513.4 1341.4 515.0 1341.8 515.8 1342.3 516.0 1342.8 515.2 1343.2 515.2 1343.7 514.4 1344.1 515.2 1344.6 516.2 1345.0 517.9 1345.5 520.2 1345.9 522.2 1346.4 524.7 1346.9 526.0 1347.3 526.0 1347.8 527.7 1348.2 528.1 1348.7 528.0 1349.1 528.1 1349.6 529.4 1350.0 529.0 1350.5 528.6 1350.9 529.6 1351.4 530.0 1351.9 530.0 1352.3 529.2 1352.8 529.7 1353.2 531.1 1353.7 529.7 1354.1 530.0 1354.6 531.9 1355.0 530.6 1355.5 530.0 1356.0 529.1 1356.4 530.7 1356.9 529.5 1357.3 530.5 1357.8 529.9 1358.2 529.4 1358.7 531.7 1359.1 530.5 1359.6 531.3 1360.0 531.1 1360.5 530.1 1361.0 530.7 1361.4 530.4 1361.9 531.4 1362.3 531.0 1362.8 530.5 1363.2 531.9 1363.7 531.1 1364.1 531.1 1364.6 530.2 1365.1 531.0 1365.5 529.7 1366.0 531.1 1366.4 530.1 1366.9 530.9 1367.3 530.6 1367.8 530.9 1368.2 531.0 1368.7 530.8 1369.1 530.8 1369.6 529.8 1370.1 529.5 1370.5 531.7 1371.0 531.2 1371.4 529.8 1371.9 532.2 1372.3 530.3 1372.8 531.2 1373.2 531.1 1373.7 530.9 1374.2 531.3 1374.6 529.9 1375.1 530.8 1375.5 530.7 1376.0 530.9 1376.4 530.7 1376.9 530.4 1377.3 530.4 1377.8 531.5 1378.2 530.3 1378.7 531.1 1379.2 531.1 1379.6 530.8 1380.1 531.2 1380.5 531.3 1381.0 530.5 1381.4 531.1 1381.9 532.2 1382.3 530.1 1382.8 530.7 1383.3 530.4 1383.7 532.3 1384.2 529.9 1384.6 530.9 1385.1 531.5 1385.5 530.3 1386.0 530.8 1386.4 530.4 1386.9 530.0 1387.3 530.8 1387.8 531.2 1388.3 530.6 1388.7 531.0 1389.2 531.4 1389.6 531.7 1390.1 530.0 1390.5 531.3 1391.0 530.5 1391.4 529.6 1391.9 530.4 1392.4 531.4 1392.8 531.1 1393.3 530.1 1393.7 532.0 1394.2 531.2 1394.6 530.9 1395.1 530.5 1395.5 531.2 1396.0 530.6 1396.4 531.7 1396.9 531.1 1397.4 531.3 1397.8 530.7 1398.3 529.9 1398.7 531.3 1399.2 530.2 1399.6 530.8 1400.1 530.9 1400.5 530.4 1401.0 531.5 1401.5 529.9 1401.9 532.0 1402.4 530.5 1402.8 531.6 1403.3 531.8 1403.7 530.3 1404.2 530.4 1404.6 531.6 1405.1 531.0 1405.5 531.0 1406.0 529.6 1406.5 529.8 1406.9 531.3 1407.4 528.9 1407.8 530.4 1408.3 530.3 1408.7 531.1 1409.2 531.2 1409.6 531.3 1410.1 530.6 1410.6 529.6 1411.0 531.9 1411.5 530.6 1411.9 531.8 1412.4 529.5 1412.8 531.2 1413.3 530.6 1413.7 530.1 1414.2 531.6 1414.6 531.8 1415.1 530.5 1415.6 531.3 1416.0 530.1 1416.5 530.5 1416.9 530.7 1417.4 530.7 1417.8 531.3 1418.3 530.1 1418.7 531.6 1419.2 531.6 1419.7 530.7 1420.1 530.1 1420.6 529.2 1421.0 530.8 1421.5 530.4 1421.9 531.0 1422.4 530.1 1422.8 530.9 1423.3 530.8 1423.7 530.9 1424.2 531.1 1424.7 531.1 1425.1 531.5 1425.6 530.3 1426.0 531.4 1426.5 531.0 1426.9 530.6 1427.4 530.2 1427.8 531.9 1428.3 531.0 1428.8 530.5 1429.2 530.9 1429.7 530.8 1430.1 530.5 1430.6 529.9 1431.0 530.9 1431.5 530.7 1431.9 530.6 1432.4 531.5 1432.8 529.9 1433.3 530.2 1433.8 530.9 1434.2 531.4 1434.7 531.2 1435.1 531.3 1435.6 529.3 1436.0 531.1 1436.5 531.1 1436.9 531.3 1437.4 530.3 1437.9 531.1 1438.3 531.5 1438.8 531.9 1439.2 530.9 1439.7 529.8 1440.1 530.8 1440.6 531.2 1441.0 531.1 1441.5 532.0 1441.9 530.6 1442.4 530.0 1442.9 530.2 1443.3 531.1 1443.8 530.1 1444.2 529.9 1444.7 530.0 1445.1 531.4 1445.6 530.7 1446.0 530.3 1446.5 531.1 1447.0 530.9 1447.4 529.7 1447.9 530.9 1448.3 530.4 1448.8 528.7 1449.2 529.2 1449.7 530.0 1450.1 530.0 1450.6 529.2 1451.0 528.5 1451.5 529.0 1452.0 527.2 1452.4 528.5 1452.9 527.6 1453.3 527.2 1453.8 526.3 1454.2 526.8 1454.7 524.2 1455.1 524.8 1455.6 525.4 1456.1 524.3 1456.5 525.6 1457.0 524.9 1457.4 524.2 1457.9 525.7 1458.3 525.2 1458.8 526.1 1459.2 525.7 1459.7 526.2 1460.1 527.5 1460.6 527.6 1461.1 527.4 1461.5 527.7 1462.0 529.1 1462.4 530.2 1462.9 528.7 1463.3 530.0 1463.8 527.7 1464.2 528.9 1464.7 530.5 1465.2 531.2 1465.6 530.2 1466.1 530.7 1466.5 530.5 1467.0 531.1 1467.4 529.7 1467.9 530.9 1468.3 530.1 1468.8 530.2 1469.2 530.5 1469.7 530.3 1470.2 530.0 1470.6 530.3 1471.1 529.8 1471.5 531.5 1472.0 531.0 1472.4 530.2 1472.9 531.6 1473.3 531.4 1473.8 530.8 1474.3 530.1 1474.7 530.7 1475.2 530.9 1475.6 531.4 1476.1 530.3 1476.5 530.1 1477.0 532.0 1477.4 531.4 1477.9 530.6 1478.3 529.8 1478.8 530.7 1479.3 531.1 1479.7 530.9 1480.2 530.9 1480.6 530.3 1481.1 531.1 1481.5 529.8 1482.0 529.9 1482.4 529.8 1482.9 529.7 1483.4 531.5 1483.8 528.9 1484.3 530.2 1484.7 529.3 1485.2 529.0 1485.6 529.9 1486.1 528.7 1486.5 529.6 1487.0 531.2 1487.4 529.4 1487.9 529.7 1488.4 528.7 1488.8 529.5 1489.3 527.9 1489.7 528.9 1490.2 528.4 1490.6 529.7 1491.1 527.8 1491.5 527.2 1492.0 526.4 1492.5 525.2 1492.9 525.6 1493.4 525.8 1493.8 522.2 1494.3 520.6 1494.7 518.1 1495.2 515.8 1495.6 513.0 1496.1 509.5 1496.5 506.9 1497.0 504.9 1497.5 502.5 1497.9 502.4 1498.4 502.8 1498.8 504.1 1499.3 506.3 1499.7 508.4 1500.2 510.4 1500.6 511.0 1501.1 513.3 1501.6 513.3 1502.0 514.0 1502.5 513.6 1502.9 513.4 1503.4 513.7 1503.8 515.1 1504.3 515.5 1504.7 516.3 1505.2 518.0 1505.6 519.9 1506.1 521.3 1506.6 522.7 1507.0 523.8 1507.5 524.3 1507.9 526.5 1508.4 527.5 1508.8 528.9 1509.3 527.4 1509.7 528.7 1510.2 528.5 1510.7 529.6 1511.1 528.9 1511.6 528.6 1512.0 528.0 1512.5 529.8 1512.9 529.5 1513.4 530.3 1513.8 529.2 1514.3 531.4 1514.7 529.2 1515.2 530.1 1515.7 530.0 1516.1 530.6 1516.6 529.7 1517.0 529.2 1517.5 529.2 1517.9 530.5 1518.4 530.0 1518.8 530.1 1519.3 529.3 1519.8 530.0 1520.2 530.1 1520.7 530.3 1521.1 528.9 1521.6 529.4 1522.0 531.1 1522.5 529.6 1522.9 529.8 1523.4 529.5 1523.8 528.7 1524.3 529.0 1524.8 530.0 1525.2 529.2 1525.7 531.0 1526.1 528.5 1526.6 528.1 1527.0 529.1 1527.5 528.5 1527.9 530.2 1528.4 528.8 1528.9 529.3 1529.3 527.8 1529.8 529.0 1530.2 528.7 1530.7 528.8 1531.1 527.6 1531.6 527.3 1532.0 526.4 1532.5 526.1 1532.9 524.2 1533.4 523.7 1533.9 521.8 1534.3 520.6 1534.8 518.6 1535.2 516.8 1535.7 514.9 1536.1 513.8 1536.6 511.6 1537.0 510.6 1537.5 510.8 1538.0 510.5 1538.4 511.3 1538.9 512.3 1539.3 514.2 1539.8 514.5 1540.2 515.4 1540.7 516.3 1541.1 517.1 1541.6 517.5 1542.0 517.2 1542.5 517.9 1543.0 518.5 1543.4 517.9 1543.9 519.1 1544.3 519.9 1544.8 520.7 1545.2 521.6 1545.7 522.1 1546.1 524.6 1546.6 524.5 1547.1 525.4 1547.5 527.2 1548.0 525.3 1548.4 527.4 1548.9 528.4 1549.3 528.8 1549.8 529.1 1550.2 530.3 1550.7 529.3 1551.1 530.0 1551.6 530.0 1552.1 528.5 1552.5 529.1 1553.0 531.2 1553.4 529.6 1553.9 529.8 1554.3 529.0 1554.8 529.8 1555.2 529.1 1555.7 529.7 1556.2 530.5 1556.6 529.6 1557.1 529.8 1557.5 531.2 1558.0 530.6 1558.4 530.6 1558.9 531.0 1559.3 529.9 1559.8 530.1 1560.2 528.9 1560.7 530.9 1561.2 530.3 1561.6 530.4 1562.1 529.7 1562.5 530.9 1563.0 530.9 1563.4 530.6 1563.9 529.4 1564.3 529.9 1564.8 530.5 1565.3 529.9 1565.7 530.8 1566.2 531.2 1566.6 530.0 1567.1 530.4 1567.5 530.1 1568.0 531.3 1568.4 531.2 1568.9 532.4 1569.3 530.6 1569.8 529.9 1570.3 530.9 1570.7 530.4 1571.2 530.7 1571.6 531.5 1572.1 530.4 1572.5 531.1 1573.0 529.1 1573.4 531.4 1573.9 530.7 1574.4 530.5 1574.8 530.3 1575.3 531.6 1575.7 530.3 1576.2 531.5 1576.6 530.3 1577.1 530.7 1577.5 530.9 1578.0 532.1 1578.4 530.8 1578.9 530.8 1579.4 530.6 1579.8 530.5 1580.3 530.3 1580.7 532.0 1581.2 531.7 1581.6 530.2 1582.1 530.8 1582.5 529.9 1583.0 531.4 1583.5 531.2 1583.9 530.8 1584.4 530.1 1584.8 531.2 1585.3 531.1 1585.7 530.6 1586.2 531.2 1586.6 529.8 1587.1 530.3 1587.5 530.1 1588.0 530.8 1588.5 531.9 1588.9 530.8 1589.4 531.5 1589.8 530.7 1590.3 530.4 1590.7 531.4 1591.2 531.1 1591.6 531.7 1592.1 531.4 1592.6 530.2 1593.0 528.9 1593.5 530.8 1593.9 529.9 1594.4 529.7 1594.8 529.7 1595.3 530.3 1595.7 530.6 1596.2 530.7 1596.6 532.2 1597.1 529.9 1597.6 530.7 1598.0 529.9 1598.5 530.0 1598.9 530.8 1599.4 531.0 1599.8 529.8 1600.3 531.5 1600.7 530.0 1601.2 531.3 1601.7 530.6 1602.1 531.3 1602.6 531.0 1603.0 530.4 1603.5 530.9 1603.9 529.6 1604.4 529.6 1604.8 530.2 1605.3 531.4 1605.7 529.9 1606.2 530.0 1606.7 531.6 1607.1 530.4 1607.6 530.3 1608.0 529.6 1608.5 530.3 1608.9 530.7 1609.4 530.2 1609.8 530.8 1610.3 530.4 1610.8 530.9 1611.2 530.7 1611.7 530.0 1612.1 530.7 1612.6 531.3 1613.0 530.3 1613.5 529.2 1613.9 530.1 1614.4 529.8 1614.8 531.8 1615.3 530.4 1615.8 529.1 1616.2 529.7 1616.7 530.8 1617.1 528.9 1617.6 529.3 1618.0 529.6 1618.5 529.4 1618.9 529.0 1619.4 529.5 1619.9 528.3 1620.3 528.9 1620.8 528.8 1621.2 528.9 1621.7 528.9 1622.1 529.0 1622.6 528.7 1623.0 528.6 1623.5 529.1 1623.9 529.4 1624.4 529.4 1624.9 527.9 1625.3 528.8 1625.8 529.1 1626.2 528.3 1626.7 528.8 1627.1 528.2 1627.6 528.6" fill="none" stroke="#00f" stroke-width="1.5" stroke-linejoin="round"/><g stroke="#000" stroke-width="3.9" stroke-linecap="butt"><line x1="149.2" y1="148.2" x2="149.2" y2="1351.1" /><line x1="125.1" y1="1351.1" x2="1629.2" y2="1351.1" /><line x1="125.2" y1="187.8" x2="149.2" y2="187.8" /><line x1="125.2" y1="575.3" x2="149.2" y2="575.3" /><line x1="125.2" y1="962.8" x2="149.2" y2="962.8" /><line x1="136.6" y1="380.8" x2="149.2" y2="380.8" /><line x1="136.6" y1="768.3" x2="149.2" y2="768.3" /><line x1="136.6" y1="1155.8" x2="149.2" y2="1155.8" /><line x1="489.9" y1="1351.1" x2="489.9" y2="1373.7" /><line x1="945.4" y1="1351.1" x2="945.4" y2="1373.7" /><line x1="1400.1" y1="1351.1" x2="1400.1" y2="1373.7" /><line x1="262.3" y1="1351.1" x2="262.3" y2="1361.3" /><line x1="717.6" y1="1351.1" x2="717.6" y2="1361.3" /><line x1="1172.8" y1="1351.1" x2="1172.8" y2="1361.3" /><line x1="1627.3" y1="1349.1499999999999" x2="1627.3" y2="1361.3" /></g><g fill="#000"><polygon points="147.25,148.20 151.15,148.20 149.20,146.3" /><polygon points="125.10,1349.15 125.10,1353.05 123.60,1351.10" /><polygon points="125.20,185.85 125.20,189.75 123.70,187.80" /><polygon points="125.20,573.35 125.20,577.25 123.70,575.30" /><polygon points="125.20,960.85 125.20,964.75 123.70,962.80" /><polygon points="136.60,378.85 136.60,382.75 135.10,380.80" /><polygon points="136.60,766.35 136.60,770.25 135.10,768.30" /><polygon points="136.60,1153.85 136.60,1157.75 135.10,1155.80" /><polygon points="487.95,1373.70 491.85,1373.70 489.90,1375.20" /><polygon points="943.45,1373.70 947.35,1373.70 945.40,1375.20" /><polygon points="1398.15,1373.70 1402.05,1373.70 1400.10,1375.20" /><polygon points="260.35,1361.30 264.25,1361.30 262.30,1362.80" /><polygon points="715.65,1361.30 719.55,1361.30 717.60,1362.80" /><polygon points="1170.85,1361.30 1174.75,1361.30 1172.80,1362.80" /><polygon points="1625.35,1361.30 1629.25,1361.30 1627.30,1362.80" /></g><text x="458.09" y="1430.75" font-size="53.81" textLength="61.00" lengthAdjust="spacingAndGlyphs" stroke="#000" stroke-width="0.9" stroke-linejoin="round">40</text><text x="912.30" y="1430.75" font-size="53.81" textLength="62.33" lengthAdjust="spacingAndGlyphs" stroke="#000" stroke-width="0.9" stroke-linejoin="round">60</text><text x="1367.54" y="1430.75" font-size="53.81" textLength="61.57" lengthAdjust="spacingAndGlyphs" stroke="#000" stroke-width="0.9" stroke-linejoin="round">80</text><g transform="translate(70.0,949.6) rotate(-90)"><text x="-6.09" y="0.00" font-size="67.20" textLength="399.58" lengthAdjust="spacingAndGlyphs">Intensity (a.u)</text></g><text x="764.67" y="1515.30" font-size="64.74" textLength="36.87" lengthAdjust="spacingAndGlyphs" stroke="#000" stroke-width="0.4" stroke-linejoin="round">2</text><text x="803.10" y="1514.90" font-size="56.30" textLength="44.00" lengthAdjust="spacingAndGlyphs" style="font-family:'Liberation Serif', 'Times New Roman', serif" stroke="#000" stroke-width="0.6" stroke-linejoin="round">Θ</text><line x1="1161.4" y1="52.3" x2="1285.2" y2="52.3" stroke="#000" stroke-width="1.5"/><line x1="1161.4" y1="120.6" x2="1285.2" y2="120.6" stroke="#f00" stroke-width="1.5"/><line x1="1161.4" y1="189.0" x2="1285.2" y2="189.0" stroke="#00f" stroke-width="1.5"/><text x="1300.29" y="70.55" font-size="55.41" textLength="262.77" lengthAdjust="spacingAndGlyphs" stroke="#000" stroke-width="0.9" stroke-linejoin="round">P2-as cast</text><text x="1300.59" y="139.15" font-size="55.41" textLength="219.48" lengthAdjust="spacingAndGlyphs" stroke="#000" stroke-width="0.9" stroke-linejoin="round">P2-400C</text><text x="1300.59" y="207.25" font-size="55.41" textLength="219.48" lengthAdjust="spacingAndGlyphs" stroke="#000" stroke-width="0.9" stroke-linejoin="round">P2-500C</text><text><tspan x="1045.12" y="987.25" font-size="53.46" textLength="29.59" lengthAdjust="spacingAndGlyphs" stroke="#000" stroke-width="1.5" stroke-linejoin="round">#</tspan> <tspan x="1091.36" y="987.55" font-size="54.31" textLength="20.19" lengthAdjust="spacingAndGlyphs" stroke="#000" stroke-width="0.9" stroke-linejoin="round">-</tspan> <tspan x="1126.31" y="987.55" font-size="54.37" textLength="84.60" lengthAdjust="spacingAndGlyphs" stroke="#000" stroke-width="0.9" stroke-linejoin="round">hex</tspan><tspan x="1216.98" y="987.55" font-size="54.63" textLength="167.40" lengthAdjust="spacingAndGlyphs" stroke="#000" stroke-width="0.9" stroke-linejoin="round">agonal</tspan><tspan x="1400.93" y="987.55" font-size="54.33" textLength="68.93" lengthAdjust="spacingAndGlyphs" stroke="#000" stroke-width="0.9" stroke-linejoin="round">D0</tspan> <tspan x="1472.82" y="1008.55" font-size="32.23" textLength="35.44" lengthAdjust="spacingAndGlyphs" stroke="#000" stroke-width="0.9" stroke-linejoin="round">19</tspan><tspan x="1524.67" y="987.55" font-size="54.31" textLength="74.26" lengthAdjust="spacingAndGlyphs" stroke="#000" stroke-width="0.9" stroke-linejoin="round">Mn</tspan><tspan x="1602.16" y="1008.55" font-size="32.23" textLength="17.36" lengthAdjust="spacingAndGlyphs" stroke="#000" stroke-width="0.9" stroke-linejoin="round">3</tspan><tspan x="1620.81" y="987.55" font-size="54.33" textLength="69.94" lengthAdjust="spacingAndGlyphs" stroke="#000" stroke-width="0.9" stroke-linejoin="round">Ga</tspan></text><text><tspan x="1046.59" y="1064.23" font-size="42.58" textLength="18.40" lengthAdjust="spacingAndGlyphs" stroke="#000" stroke-width="0.9" stroke-linejoin="round">*</tspan> <tspan x="1081.68" y="1074.25" font-size="54.31" textLength="20.73" lengthAdjust="spacingAndGlyphs" stroke="#000" stroke-width="0.9" stroke-linejoin="round">-</tspan> <tspan x="1117.20" y="1074.25" font-size="54.63" textLength="248.99" lengthAdjust="spacingAndGlyphs" stroke="#000" stroke-width="0.9" stroke-linejoin="round">tetragonal</tspan> <tspan x="1381.15" y="1074.25" font-size="54.33" textLength="70.14" lengthAdjust="spacingAndGlyphs" stroke="#000" stroke-width="0.9" stroke-linejoin="round">D0</tspan><tspan x="1452.55" y="1095.15" font-size="32.21" textLength="37.49" lengthAdjust="spacingAndGlyphs" stroke="#000" stroke-width="0.9" stroke-linejoin="round">22</tspan> <tspan x="1504.75" y="1074.25" font-size="54.37" textLength="14.00" lengthAdjust="spacingAndGlyphs" stroke="#000" stroke-width="0.9" stroke-linejoin="round">/</tspan> <tspan x="1536.13" y="1074.25" font-size="54.31" textLength="54.51" lengthAdjust="spacingAndGlyphs" stroke="#000" stroke-width="0.9" stroke-linejoin="round">L1</tspan><tspan x="1598.08" y="1095.15" font-size="32.23" textLength="18.03" lengthAdjust="spacingAndGlyphs" stroke="#000" stroke-width="0.9" stroke-linejoin="round">0</tspan></text><text x="437.82" y="399.45" font-size="55.16" textLength="29.70" lengthAdjust="spacingAndGlyphs" stroke="#000" stroke-width="1.5" stroke-linejoin="round">#</text><text x="885.92" y="484.25" font-size="55.16" textLength="29.70" lengthAdjust="spacingAndGlyphs" stroke="#000" stroke-width="1.5" stroke-linejoin="round">#</text><text x="1146.02" y="472.75" font-size="55.16" textLength="29.70" lengthAdjust="spacingAndGlyphs" stroke="#000" stroke-width="1.5" stroke-linejoin="round">#</text><text x="1327.17" y="484.25" font-size="55.16" textLength="29.70" lengthAdjust="spacingAndGlyphs" stroke="#000" stroke-width="1.5" stroke-linejoin="round">#</text><text x="1483.42" y="491.15" font-size="55.16" textLength="29.70" lengthAdjust="spacingAndGlyphs" stroke="#000" stroke-width="1.5" stroke-linejoin="round">#</text><text x="1522.97" y="493.65" font-size="55.16" textLength="29.70" lengthAdjust="spacingAndGlyphs" stroke="#000" stroke-width="1.5" stroke-linejoin="round">#</text><text x="444.67" y="782.55" font-size="55.16" textLength="29.70" lengthAdjust="spacingAndGlyphs" stroke="#000" stroke-width="1.5" stroke-linejoin="round">#</text><text x="879.12" y="843.25" font-size="55.16" textLength="29.70" lengthAdjust="spacingAndGlyphs" stroke="#000" stroke-width="1.5" stroke-linejoin="round">#</text><text x="1149.92" y="822.15" font-size="55.16" textLength="29.70" lengthAdjust="spacingAndGlyphs" stroke="#000" stroke-width="1.5" stroke-linejoin="round">#</text><text x="1324.87" y="845.65" font-size="55.16" textLength="29.70" lengthAdjust="spacingAndGlyphs" stroke="#000" stroke-width="1.5" stroke-linejoin="round">#</text><text x="1486.12" y="830.95" font-size="55.16" textLength="29.70" lengthAdjust="spacingAndGlyphs" stroke="#000" stroke-width="1.5" stroke-linejoin="round">#</text><text x="1527.07" y="845.65" font-size="55.16" textLength="29.70" lengthAdjust="spacingAndGlyphs" stroke="#000" stroke-width="1.5" stroke-linejoin="round">#</text><text x="566.52" y="957.15" font-size="55.16" textLength="29.70" lengthAdjust="spacingAndGlyphs" stroke="#000" stroke-width="1.5" stroke-linejoin="round">#</text><text x="440.42" y="1136.95" font-size="55.16" textLength="29.70" lengthAdjust="spacingAndGlyphs" stroke="#000" stroke-width="1.5" stroke-linejoin="round">#</text><text x="503.62" y="1235.45" font-size="55.16" textLength="29.70" lengthAdjust="spacingAndGlyphs" stroke="#000" stroke-width="1.5" stroke-linejoin="round">#</text><text x="879.22" y="1262.95" font-size="55.16" textLength="29.70" lengthAdjust="spacingAndGlyphs" stroke="#000" stroke-width="1.5" stroke-linejoin="round">#</text><text x="1149.97" y="1233.15" font-size="55.16" textLength="29.70" lengthAdjust="spacingAndGlyphs" stroke="#000" stroke-width="1.5" stroke-linejoin="round">#</text><text x="1320.72" y="1269.85" font-size="55.16" textLength="29.70" lengthAdjust="spacingAndGlyphs" stroke="#000" stroke-width="1.5" stroke-linejoin="round">#</text><text x="1486.12" y="1241.95" font-size="55.16" textLength="29.70" lengthAdjust="spacingAndGlyphs" stroke="#000" stroke-width="1.5" stroke-linejoin="round">#</text><text x="1532.12" y="1244.65" font-size="55.16" textLength="29.70" lengthAdjust="spacingAndGlyphs" stroke="#000" stroke-width="1.5" stroke-linejoin="round">#</text><text x="574.00" y="190.52" font-size="42.86" textLength="19.27" lengthAdjust="spacingAndGlyphs" stroke="#000" stroke-width="0.9" stroke-linejoin="round">*</text><text x="512.45" y="414.52" font-size="42.86" textLength="19.27" lengthAdjust="spacingAndGlyphs" stroke="#000" stroke-width="0.9" stroke-linejoin="round">*</text><text x="377.30" y="525.22" font-size="42.86" textLength="19.27" lengthAdjust="spacingAndGlyphs" stroke="#000" stroke-width="0.9" stroke-linejoin="round">*</text><text x="632.25" y="516.32" font-size="42.86" textLength="19.27" lengthAdjust="spacingAndGlyphs" stroke="#000" stroke-width="0.9" stroke-linejoin="round">*</text><text x="1450.45" y="524.22" font-size="42.86" textLength="19.27" lengthAdjust="spacingAndGlyphs" stroke="#000" stroke-width="0.9" stroke-linejoin="round">*</text><text x="576.85" y="592.62" font-size="42.86" textLength="19.27" lengthAdjust="spacingAndGlyphs" stroke="#000" stroke-width="0.9" stroke-linejoin="round">*</text><text x="509.95" y="677.92" font-size="42.86" textLength="19.27" lengthAdjust="spacingAndGlyphs" stroke="#000" stroke-width="0.9" stroke-linejoin="round">*</text><text x="636.00" y="794.92" font-size="42.86" textLength="19.27" lengthAdjust="spacingAndGlyphs" stroke="#000" stroke-width="0.9" stroke-linejoin="round">*</text><text x="316.70" y="864.02" font-size="42.86" textLength="19.27" lengthAdjust="spacingAndGlyphs" stroke="#000" stroke-width="0.9" stroke-linejoin="round">*</text><text x="374.55" y="854.52" font-size="42.86" textLength="19.27" lengthAdjust="spacingAndGlyphs" stroke="#000" stroke-width="0.9" stroke-linejoin="round">*</text><text x="911.85" y="864.72" font-size="42.86" textLength="19.27" lengthAdjust="spacingAndGlyphs" stroke="#000" stroke-width="0.9" stroke-linejoin="round">*</text><text x="1119.50" y="861.52" font-size="42.86" textLength="19.27" lengthAdjust="spacingAndGlyphs" stroke="#000" stroke-width="0.9" stroke-linejoin="round">*</text><text x="1190.50" y="864.72" font-size="42.86" textLength="19.27" lengthAdjust="spacingAndGlyphs" stroke="#000" stroke-width="0.9" stroke-linejoin="round">*</text><text x="1457.00" y="856.52" font-size="42.86" textLength="19.27" lengthAdjust="spacingAndGlyphs" stroke="#000" stroke-width="0.9" stroke-linejoin="round">*</text></svg>
</body></html>
